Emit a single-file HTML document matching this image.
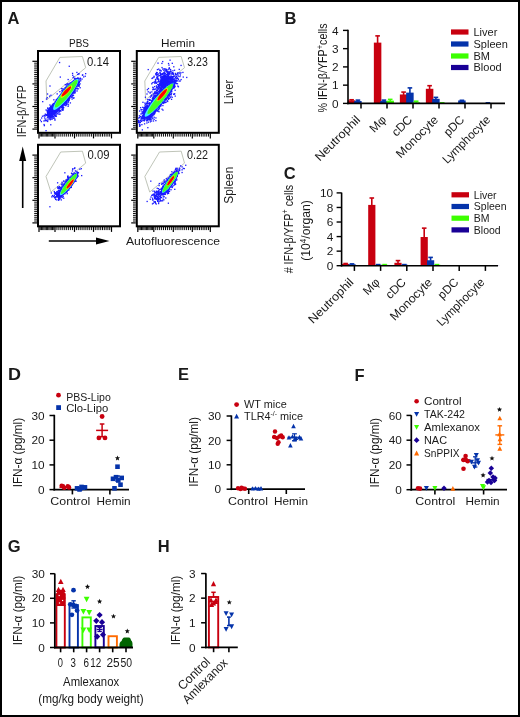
<!DOCTYPE html>
<html><head><meta charset="utf-8"><style>
html,body{margin:0;padding:0;background:#fff;}
body{width:520px;height:717px;overflow:hidden;position:relative;}
svg{position:absolute;left:0;top:0;display:block;will-change:transform;}
text{font-family:"Liberation Sans", sans-serif;fill:#1a1a1a;}
</style></head><body>
<svg width="520" height="717" viewBox="0 0 520 717">
<defs><filter id="sb" x="-20%" y="-20%" width="140%" height="140%"><feGaussianBlur stdDeviation="0.45"/></filter></defs>
<rect x="0" y="0" width="520" height="717" fill="#fff"/>
<rect x="0" y="0" width="520" height="2" fill="#000"/>
<rect x="0" y="0" width="2" height="717" fill="#000"/>
<rect x="518" y="0" width="2" height="717" fill="#000"/>
<rect x="0" y="715" width="520" height="2" fill="#000"/>
<text x="7.5" y="23.6" font-size="16.5" font-weight="bold" fill="#000">A</text>
<text x="79" y="47" font-size="11.5" text-anchor="middle" textLength="20" lengthAdjust="spacingAndGlyphs">PBS</text>
<text x="178" y="47" font-size="11.5" text-anchor="middle" textLength="34" lengthAdjust="spacingAndGlyphs">Hemin</text>
<line x1="32.4" y1="61.3" x2="37" y2="61.3" stroke="#000" stroke-width="1.2"/>
<line x1="34.2" y1="63.18" x2="37" y2="63.18" stroke="#000" stroke-width="0.95"/>
<line x1="34.2" y1="65.07" x2="37" y2="65.07" stroke="#000" stroke-width="0.95"/>
<line x1="34.2" y1="66.95" x2="37" y2="66.95" stroke="#000" stroke-width="0.95"/>
<line x1="34.2" y1="68.83" x2="37" y2="68.83" stroke="#000" stroke-width="0.95"/>
<line x1="34.2" y1="70.72" x2="37" y2="70.72" stroke="#000" stroke-width="0.95"/>
<line x1="34.2" y1="72.6" x2="37" y2="72.6" stroke="#000" stroke-width="0.95"/>
<line x1="34.2" y1="74.48" x2="37" y2="74.48" stroke="#000" stroke-width="0.95"/>
<line x1="34.2" y1="76.37" x2="37" y2="76.37" stroke="#000" stroke-width="0.95"/>
<line x1="34.2" y1="78.25" x2="37" y2="78.25" stroke="#000" stroke-width="0.95"/>
<line x1="34.2" y1="80.13" x2="37" y2="80.13" stroke="#000" stroke-width="0.95"/>
<line x1="34.2" y1="82.02" x2="37" y2="82.02" stroke="#000" stroke-width="0.95"/>
<line x1="32.4" y1="83.9" x2="37" y2="83.9" stroke="#000" stroke-width="1.2"/>
<line x1="34.2" y1="85.78" x2="37" y2="85.78" stroke="#000" stroke-width="0.95"/>
<line x1="34.2" y1="87.67" x2="37" y2="87.67" stroke="#000" stroke-width="0.95"/>
<line x1="34.2" y1="89.55" x2="37" y2="89.55" stroke="#000" stroke-width="0.95"/>
<line x1="34.2" y1="91.43" x2="37" y2="91.43" stroke="#000" stroke-width="0.95"/>
<line x1="34.2" y1="93.32" x2="37" y2="93.32" stroke="#000" stroke-width="0.95"/>
<line x1="34.2" y1="95.2" x2="37" y2="95.2" stroke="#000" stroke-width="0.95"/>
<line x1="34.2" y1="97.08" x2="37" y2="97.08" stroke="#000" stroke-width="0.95"/>
<line x1="34.2" y1="98.97" x2="37" y2="98.97" stroke="#000" stroke-width="0.95"/>
<line x1="34.2" y1="100.85" x2="37" y2="100.85" stroke="#000" stroke-width="0.95"/>
<line x1="34.2" y1="102.73" x2="37" y2="102.73" stroke="#000" stroke-width="0.95"/>
<line x1="34.2" y1="104.62" x2="37" y2="104.62" stroke="#000" stroke-width="0.95"/>
<line x1="32.4" y1="106.5" x2="37" y2="106.5" stroke="#000" stroke-width="1.2"/>
<line x1="34.2" y1="108.38" x2="37" y2="108.38" stroke="#000" stroke-width="0.95"/>
<line x1="34.2" y1="110.27" x2="37" y2="110.27" stroke="#000" stroke-width="0.95"/>
<line x1="34.2" y1="112.15" x2="37" y2="112.15" stroke="#000" stroke-width="0.95"/>
<line x1="34.2" y1="114.03" x2="37" y2="114.03" stroke="#000" stroke-width="0.95"/>
<line x1="34.2" y1="115.92" x2="37" y2="115.92" stroke="#000" stroke-width="0.95"/>
<line x1="34.2" y1="117.8" x2="37" y2="117.8" stroke="#000" stroke-width="0.95"/>
<line x1="34.2" y1="119.68" x2="37" y2="119.68" stroke="#000" stroke-width="0.95"/>
<line x1="34.2" y1="121.57" x2="37" y2="121.57" stroke="#000" stroke-width="0.95"/>
<line x1="34.2" y1="123.45" x2="37" y2="123.45" stroke="#000" stroke-width="0.95"/>
<line x1="34.2" y1="125.33" x2="37" y2="125.33" stroke="#000" stroke-width="0.95"/>
<line x1="34.2" y1="127.22" x2="37" y2="127.22" stroke="#000" stroke-width="0.95"/>
<line x1="32.4" y1="129.1" x2="37" y2="129.1" stroke="#000" stroke-width="1.2"/>
<line x1="39" y1="133.3" x2="39" y2="138.4" stroke="#000" stroke-width="1.2"/>
<line x1="40.23" y1="133.3" x2="40.23" y2="136.6" stroke="#000" stroke-width="0.95"/>
<line x1="41.46" y1="133.3" x2="41.46" y2="136.6" stroke="#000" stroke-width="0.95"/>
<line x1="42.69" y1="133.3" x2="42.69" y2="136.6" stroke="#000" stroke-width="0.95"/>
<line x1="43.92" y1="133.3" x2="43.92" y2="136.6" stroke="#000" stroke-width="0.95"/>
<line x1="45.15" y1="133.3" x2="45.15" y2="136.6" stroke="#000" stroke-width="0.95"/>
<line x1="46.38" y1="133.3" x2="46.38" y2="136.6" stroke="#000" stroke-width="0.95"/>
<line x1="47.62" y1="133.3" x2="47.62" y2="136.6" stroke="#000" stroke-width="0.95"/>
<line x1="48.85" y1="133.3" x2="48.85" y2="136.6" stroke="#000" stroke-width="0.95"/>
<line x1="50.08" y1="133.3" x2="50.08" y2="136.6" stroke="#000" stroke-width="0.95"/>
<line x1="51.31" y1="133.3" x2="51.31" y2="136.6" stroke="#000" stroke-width="0.95"/>
<line x1="52.54" y1="133.3" x2="52.54" y2="136.6" stroke="#000" stroke-width="0.95"/>
<line x1="53.77" y1="133.3" x2="53.77" y2="136.6" stroke="#000" stroke-width="0.95"/>
<line x1="55" y1="133.3" x2="55" y2="138.4" stroke="#000" stroke-width="1.2"/>
<line x1="56.95" y1="133.3" x2="56.95" y2="136.6" stroke="#000" stroke-width="0.95"/>
<line x1="58.9" y1="133.3" x2="58.9" y2="136.6" stroke="#000" stroke-width="0.95"/>
<line x1="60.85" y1="133.3" x2="60.85" y2="136.6" stroke="#000" stroke-width="0.95"/>
<line x1="62.8" y1="133.3" x2="62.8" y2="136.6" stroke="#000" stroke-width="0.95"/>
<line x1="64.75" y1="133.3" x2="64.75" y2="136.6" stroke="#000" stroke-width="0.95"/>
<line x1="66.7" y1="133.3" x2="66.7" y2="136.6" stroke="#000" stroke-width="0.95"/>
<line x1="68.65" y1="133.3" x2="68.65" y2="136.6" stroke="#000" stroke-width="0.95"/>
<line x1="70.6" y1="133.3" x2="70.6" y2="136.6" stroke="#000" stroke-width="0.95"/>
<line x1="72.55" y1="133.3" x2="72.55" y2="136.6" stroke="#000" stroke-width="0.95"/>
<line x1="74.5" y1="133.3" x2="74.5" y2="138.4" stroke="#000" stroke-width="1.2"/>
<line x1="76.4" y1="133.3" x2="76.4" y2="136.6" stroke="#000" stroke-width="0.95"/>
<line x1="78.3" y1="133.3" x2="78.3" y2="136.6" stroke="#000" stroke-width="0.95"/>
<line x1="80.2" y1="133.3" x2="80.2" y2="136.6" stroke="#000" stroke-width="0.95"/>
<line x1="82.1" y1="133.3" x2="82.1" y2="136.6" stroke="#000" stroke-width="0.95"/>
<line x1="84" y1="133.3" x2="84" y2="136.6" stroke="#000" stroke-width="0.95"/>
<line x1="85.9" y1="133.3" x2="85.9" y2="136.6" stroke="#000" stroke-width="0.95"/>
<line x1="87.8" y1="133.3" x2="87.8" y2="136.6" stroke="#000" stroke-width="0.95"/>
<line x1="89.7" y1="133.3" x2="89.7" y2="136.6" stroke="#000" stroke-width="0.95"/>
<line x1="91.6" y1="133.3" x2="91.6" y2="136.6" stroke="#000" stroke-width="0.95"/>
<line x1="93.5" y1="133.3" x2="93.5" y2="138.4" stroke="#000" stroke-width="1.2"/>
<line x1="95.3" y1="133.3" x2="95.3" y2="136.6" stroke="#000" stroke-width="0.95"/>
<line x1="97.1" y1="133.3" x2="97.1" y2="136.6" stroke="#000" stroke-width="0.95"/>
<line x1="98.9" y1="133.3" x2="98.9" y2="136.6" stroke="#000" stroke-width="0.95"/>
<line x1="100.7" y1="133.3" x2="100.7" y2="136.6" stroke="#000" stroke-width="0.95"/>
<line x1="102.5" y1="133.3" x2="102.5" y2="136.6" stroke="#000" stroke-width="0.95"/>
<line x1="104.3" y1="133.3" x2="104.3" y2="136.6" stroke="#000" stroke-width="0.95"/>
<line x1="106.1" y1="133.3" x2="106.1" y2="136.6" stroke="#000" stroke-width="0.95"/>
<line x1="107.9" y1="133.3" x2="107.9" y2="136.6" stroke="#000" stroke-width="0.95"/>
<line x1="109.7" y1="133.3" x2="109.7" y2="136.6" stroke="#000" stroke-width="0.95"/>
<line x1="111.5" y1="133.3" x2="111.5" y2="138.4" stroke="#000" stroke-width="1.2"/>
<rect x="38" y="51" width="82" height="81.8" fill="none" stroke="#000" stroke-width="2"/>
<line x1="131.2" y1="61.3" x2="135.8" y2="61.3" stroke="#000" stroke-width="1.2"/>
<line x1="133" y1="63.18" x2="135.8" y2="63.18" stroke="#000" stroke-width="0.95"/>
<line x1="133" y1="65.07" x2="135.8" y2="65.07" stroke="#000" stroke-width="0.95"/>
<line x1="133" y1="66.95" x2="135.8" y2="66.95" stroke="#000" stroke-width="0.95"/>
<line x1="133" y1="68.83" x2="135.8" y2="68.83" stroke="#000" stroke-width="0.95"/>
<line x1="133" y1="70.72" x2="135.8" y2="70.72" stroke="#000" stroke-width="0.95"/>
<line x1="133" y1="72.6" x2="135.8" y2="72.6" stroke="#000" stroke-width="0.95"/>
<line x1="133" y1="74.48" x2="135.8" y2="74.48" stroke="#000" stroke-width="0.95"/>
<line x1="133" y1="76.37" x2="135.8" y2="76.37" stroke="#000" stroke-width="0.95"/>
<line x1="133" y1="78.25" x2="135.8" y2="78.25" stroke="#000" stroke-width="0.95"/>
<line x1="133" y1="80.13" x2="135.8" y2="80.13" stroke="#000" stroke-width="0.95"/>
<line x1="133" y1="82.02" x2="135.8" y2="82.02" stroke="#000" stroke-width="0.95"/>
<line x1="131.2" y1="83.9" x2="135.8" y2="83.9" stroke="#000" stroke-width="1.2"/>
<line x1="133" y1="85.78" x2="135.8" y2="85.78" stroke="#000" stroke-width="0.95"/>
<line x1="133" y1="87.67" x2="135.8" y2="87.67" stroke="#000" stroke-width="0.95"/>
<line x1="133" y1="89.55" x2="135.8" y2="89.55" stroke="#000" stroke-width="0.95"/>
<line x1="133" y1="91.43" x2="135.8" y2="91.43" stroke="#000" stroke-width="0.95"/>
<line x1="133" y1="93.32" x2="135.8" y2="93.32" stroke="#000" stroke-width="0.95"/>
<line x1="133" y1="95.2" x2="135.8" y2="95.2" stroke="#000" stroke-width="0.95"/>
<line x1="133" y1="97.08" x2="135.8" y2="97.08" stroke="#000" stroke-width="0.95"/>
<line x1="133" y1="98.97" x2="135.8" y2="98.97" stroke="#000" stroke-width="0.95"/>
<line x1="133" y1="100.85" x2="135.8" y2="100.85" stroke="#000" stroke-width="0.95"/>
<line x1="133" y1="102.73" x2="135.8" y2="102.73" stroke="#000" stroke-width="0.95"/>
<line x1="133" y1="104.62" x2="135.8" y2="104.62" stroke="#000" stroke-width="0.95"/>
<line x1="131.2" y1="106.5" x2="135.8" y2="106.5" stroke="#000" stroke-width="1.2"/>
<line x1="133" y1="108.38" x2="135.8" y2="108.38" stroke="#000" stroke-width="0.95"/>
<line x1="133" y1="110.27" x2="135.8" y2="110.27" stroke="#000" stroke-width="0.95"/>
<line x1="133" y1="112.15" x2="135.8" y2="112.15" stroke="#000" stroke-width="0.95"/>
<line x1="133" y1="114.03" x2="135.8" y2="114.03" stroke="#000" stroke-width="0.95"/>
<line x1="133" y1="115.92" x2="135.8" y2="115.92" stroke="#000" stroke-width="0.95"/>
<line x1="133" y1="117.8" x2="135.8" y2="117.8" stroke="#000" stroke-width="0.95"/>
<line x1="133" y1="119.68" x2="135.8" y2="119.68" stroke="#000" stroke-width="0.95"/>
<line x1="133" y1="121.57" x2="135.8" y2="121.57" stroke="#000" stroke-width="0.95"/>
<line x1="133" y1="123.45" x2="135.8" y2="123.45" stroke="#000" stroke-width="0.95"/>
<line x1="133" y1="125.33" x2="135.8" y2="125.33" stroke="#000" stroke-width="0.95"/>
<line x1="133" y1="127.22" x2="135.8" y2="127.22" stroke="#000" stroke-width="0.95"/>
<line x1="131.2" y1="129.1" x2="135.8" y2="129.1" stroke="#000" stroke-width="1.2"/>
<line x1="137.8" y1="133.3" x2="137.8" y2="138.4" stroke="#000" stroke-width="1.2"/>
<line x1="139.03" y1="133.3" x2="139.03" y2="136.6" stroke="#000" stroke-width="0.95"/>
<line x1="140.26" y1="133.3" x2="140.26" y2="136.6" stroke="#000" stroke-width="0.95"/>
<line x1="141.49" y1="133.3" x2="141.49" y2="136.6" stroke="#000" stroke-width="0.95"/>
<line x1="142.72" y1="133.3" x2="142.72" y2="136.6" stroke="#000" stroke-width="0.95"/>
<line x1="143.95" y1="133.3" x2="143.95" y2="136.6" stroke="#000" stroke-width="0.95"/>
<line x1="145.18" y1="133.3" x2="145.18" y2="136.6" stroke="#000" stroke-width="0.95"/>
<line x1="146.42" y1="133.3" x2="146.42" y2="136.6" stroke="#000" stroke-width="0.95"/>
<line x1="147.65" y1="133.3" x2="147.65" y2="136.6" stroke="#000" stroke-width="0.95"/>
<line x1="148.88" y1="133.3" x2="148.88" y2="136.6" stroke="#000" stroke-width="0.95"/>
<line x1="150.11" y1="133.3" x2="150.11" y2="136.6" stroke="#000" stroke-width="0.95"/>
<line x1="151.34" y1="133.3" x2="151.34" y2="136.6" stroke="#000" stroke-width="0.95"/>
<line x1="152.57" y1="133.3" x2="152.57" y2="136.6" stroke="#000" stroke-width="0.95"/>
<line x1="153.8" y1="133.3" x2="153.8" y2="138.4" stroke="#000" stroke-width="1.2"/>
<line x1="155.75" y1="133.3" x2="155.75" y2="136.6" stroke="#000" stroke-width="0.95"/>
<line x1="157.7" y1="133.3" x2="157.7" y2="136.6" stroke="#000" stroke-width="0.95"/>
<line x1="159.65" y1="133.3" x2="159.65" y2="136.6" stroke="#000" stroke-width="0.95"/>
<line x1="161.6" y1="133.3" x2="161.6" y2="136.6" stroke="#000" stroke-width="0.95"/>
<line x1="163.55" y1="133.3" x2="163.55" y2="136.6" stroke="#000" stroke-width="0.95"/>
<line x1="165.5" y1="133.3" x2="165.5" y2="136.6" stroke="#000" stroke-width="0.95"/>
<line x1="167.45" y1="133.3" x2="167.45" y2="136.6" stroke="#000" stroke-width="0.95"/>
<line x1="169.4" y1="133.3" x2="169.4" y2="136.6" stroke="#000" stroke-width="0.95"/>
<line x1="171.35" y1="133.3" x2="171.35" y2="136.6" stroke="#000" stroke-width="0.95"/>
<line x1="173.3" y1="133.3" x2="173.3" y2="138.4" stroke="#000" stroke-width="1.2"/>
<line x1="175.2" y1="133.3" x2="175.2" y2="136.6" stroke="#000" stroke-width="0.95"/>
<line x1="177.1" y1="133.3" x2="177.1" y2="136.6" stroke="#000" stroke-width="0.95"/>
<line x1="179" y1="133.3" x2="179" y2="136.6" stroke="#000" stroke-width="0.95"/>
<line x1="180.9" y1="133.3" x2="180.9" y2="136.6" stroke="#000" stroke-width="0.95"/>
<line x1="182.8" y1="133.3" x2="182.8" y2="136.6" stroke="#000" stroke-width="0.95"/>
<line x1="184.7" y1="133.3" x2="184.7" y2="136.6" stroke="#000" stroke-width="0.95"/>
<line x1="186.6" y1="133.3" x2="186.6" y2="136.6" stroke="#000" stroke-width="0.95"/>
<line x1="188.5" y1="133.3" x2="188.5" y2="136.6" stroke="#000" stroke-width="0.95"/>
<line x1="190.4" y1="133.3" x2="190.4" y2="136.6" stroke="#000" stroke-width="0.95"/>
<line x1="192.3" y1="133.3" x2="192.3" y2="138.4" stroke="#000" stroke-width="1.2"/>
<line x1="194.1" y1="133.3" x2="194.1" y2="136.6" stroke="#000" stroke-width="0.95"/>
<line x1="195.9" y1="133.3" x2="195.9" y2="136.6" stroke="#000" stroke-width="0.95"/>
<line x1="197.7" y1="133.3" x2="197.7" y2="136.6" stroke="#000" stroke-width="0.95"/>
<line x1="199.5" y1="133.3" x2="199.5" y2="136.6" stroke="#000" stroke-width="0.95"/>
<line x1="201.3" y1="133.3" x2="201.3" y2="136.6" stroke="#000" stroke-width="0.95"/>
<line x1="203.1" y1="133.3" x2="203.1" y2="136.6" stroke="#000" stroke-width="0.95"/>
<line x1="204.9" y1="133.3" x2="204.9" y2="136.6" stroke="#000" stroke-width="0.95"/>
<line x1="206.7" y1="133.3" x2="206.7" y2="136.6" stroke="#000" stroke-width="0.95"/>
<line x1="208.5" y1="133.3" x2="208.5" y2="136.6" stroke="#000" stroke-width="0.95"/>
<line x1="210.3" y1="133.3" x2="210.3" y2="138.4" stroke="#000" stroke-width="1.2"/>
<rect x="136.8" y="51" width="82" height="81.8" fill="none" stroke="#000" stroke-width="2"/>
<line x1="32.4" y1="155.1" x2="37" y2="155.1" stroke="#000" stroke-width="1.2"/>
<line x1="34.2" y1="156.98" x2="37" y2="156.98" stroke="#000" stroke-width="0.95"/>
<line x1="34.2" y1="158.87" x2="37" y2="158.87" stroke="#000" stroke-width="0.95"/>
<line x1="34.2" y1="160.75" x2="37" y2="160.75" stroke="#000" stroke-width="0.95"/>
<line x1="34.2" y1="162.63" x2="37" y2="162.63" stroke="#000" stroke-width="0.95"/>
<line x1="34.2" y1="164.52" x2="37" y2="164.52" stroke="#000" stroke-width="0.95"/>
<line x1="34.2" y1="166.4" x2="37" y2="166.4" stroke="#000" stroke-width="0.95"/>
<line x1="34.2" y1="168.28" x2="37" y2="168.28" stroke="#000" stroke-width="0.95"/>
<line x1="34.2" y1="170.17" x2="37" y2="170.17" stroke="#000" stroke-width="0.95"/>
<line x1="34.2" y1="172.05" x2="37" y2="172.05" stroke="#000" stroke-width="0.95"/>
<line x1="34.2" y1="173.93" x2="37" y2="173.93" stroke="#000" stroke-width="0.95"/>
<line x1="34.2" y1="175.82" x2="37" y2="175.82" stroke="#000" stroke-width="0.95"/>
<line x1="32.4" y1="177.7" x2="37" y2="177.7" stroke="#000" stroke-width="1.2"/>
<line x1="34.2" y1="179.58" x2="37" y2="179.58" stroke="#000" stroke-width="0.95"/>
<line x1="34.2" y1="181.47" x2="37" y2="181.47" stroke="#000" stroke-width="0.95"/>
<line x1="34.2" y1="183.35" x2="37" y2="183.35" stroke="#000" stroke-width="0.95"/>
<line x1="34.2" y1="185.23" x2="37" y2="185.23" stroke="#000" stroke-width="0.95"/>
<line x1="34.2" y1="187.12" x2="37" y2="187.12" stroke="#000" stroke-width="0.95"/>
<line x1="34.2" y1="189" x2="37" y2="189" stroke="#000" stroke-width="0.95"/>
<line x1="34.2" y1="190.88" x2="37" y2="190.88" stroke="#000" stroke-width="0.95"/>
<line x1="34.2" y1="192.77" x2="37" y2="192.77" stroke="#000" stroke-width="0.95"/>
<line x1="34.2" y1="194.65" x2="37" y2="194.65" stroke="#000" stroke-width="0.95"/>
<line x1="34.2" y1="196.53" x2="37" y2="196.53" stroke="#000" stroke-width="0.95"/>
<line x1="34.2" y1="198.42" x2="37" y2="198.42" stroke="#000" stroke-width="0.95"/>
<line x1="32.4" y1="200.3" x2="37" y2="200.3" stroke="#000" stroke-width="1.2"/>
<line x1="34.2" y1="202.18" x2="37" y2="202.18" stroke="#000" stroke-width="0.95"/>
<line x1="34.2" y1="204.07" x2="37" y2="204.07" stroke="#000" stroke-width="0.95"/>
<line x1="34.2" y1="205.95" x2="37" y2="205.95" stroke="#000" stroke-width="0.95"/>
<line x1="34.2" y1="207.83" x2="37" y2="207.83" stroke="#000" stroke-width="0.95"/>
<line x1="34.2" y1="209.72" x2="37" y2="209.72" stroke="#000" stroke-width="0.95"/>
<line x1="34.2" y1="211.6" x2="37" y2="211.6" stroke="#000" stroke-width="0.95"/>
<line x1="34.2" y1="213.48" x2="37" y2="213.48" stroke="#000" stroke-width="0.95"/>
<line x1="34.2" y1="215.37" x2="37" y2="215.37" stroke="#000" stroke-width="0.95"/>
<line x1="34.2" y1="217.25" x2="37" y2="217.25" stroke="#000" stroke-width="0.95"/>
<line x1="34.2" y1="219.13" x2="37" y2="219.13" stroke="#000" stroke-width="0.95"/>
<line x1="34.2" y1="221.02" x2="37" y2="221.02" stroke="#000" stroke-width="0.95"/>
<line x1="32.4" y1="222.9" x2="37" y2="222.9" stroke="#000" stroke-width="1.2"/>
<line x1="39" y1="226.8" x2="39" y2="231.9" stroke="#000" stroke-width="1.2"/>
<line x1="40.23" y1="226.8" x2="40.23" y2="230.1" stroke="#000" stroke-width="0.95"/>
<line x1="41.46" y1="226.8" x2="41.46" y2="230.1" stroke="#000" stroke-width="0.95"/>
<line x1="42.69" y1="226.8" x2="42.69" y2="230.1" stroke="#000" stroke-width="0.95"/>
<line x1="43.92" y1="226.8" x2="43.92" y2="230.1" stroke="#000" stroke-width="0.95"/>
<line x1="45.15" y1="226.8" x2="45.15" y2="230.1" stroke="#000" stroke-width="0.95"/>
<line x1="46.38" y1="226.8" x2="46.38" y2="230.1" stroke="#000" stroke-width="0.95"/>
<line x1="47.62" y1="226.8" x2="47.62" y2="230.1" stroke="#000" stroke-width="0.95"/>
<line x1="48.85" y1="226.8" x2="48.85" y2="230.1" stroke="#000" stroke-width="0.95"/>
<line x1="50.08" y1="226.8" x2="50.08" y2="230.1" stroke="#000" stroke-width="0.95"/>
<line x1="51.31" y1="226.8" x2="51.31" y2="230.1" stroke="#000" stroke-width="0.95"/>
<line x1="52.54" y1="226.8" x2="52.54" y2="230.1" stroke="#000" stroke-width="0.95"/>
<line x1="53.77" y1="226.8" x2="53.77" y2="230.1" stroke="#000" stroke-width="0.95"/>
<line x1="55" y1="226.8" x2="55" y2="231.9" stroke="#000" stroke-width="1.2"/>
<line x1="56.95" y1="226.8" x2="56.95" y2="230.1" stroke="#000" stroke-width="0.95"/>
<line x1="58.9" y1="226.8" x2="58.9" y2="230.1" stroke="#000" stroke-width="0.95"/>
<line x1="60.85" y1="226.8" x2="60.85" y2="230.1" stroke="#000" stroke-width="0.95"/>
<line x1="62.8" y1="226.8" x2="62.8" y2="230.1" stroke="#000" stroke-width="0.95"/>
<line x1="64.75" y1="226.8" x2="64.75" y2="230.1" stroke="#000" stroke-width="0.95"/>
<line x1="66.7" y1="226.8" x2="66.7" y2="230.1" stroke="#000" stroke-width="0.95"/>
<line x1="68.65" y1="226.8" x2="68.65" y2="230.1" stroke="#000" stroke-width="0.95"/>
<line x1="70.6" y1="226.8" x2="70.6" y2="230.1" stroke="#000" stroke-width="0.95"/>
<line x1="72.55" y1="226.8" x2="72.55" y2="230.1" stroke="#000" stroke-width="0.95"/>
<line x1="74.5" y1="226.8" x2="74.5" y2="231.9" stroke="#000" stroke-width="1.2"/>
<line x1="76.4" y1="226.8" x2="76.4" y2="230.1" stroke="#000" stroke-width="0.95"/>
<line x1="78.3" y1="226.8" x2="78.3" y2="230.1" stroke="#000" stroke-width="0.95"/>
<line x1="80.2" y1="226.8" x2="80.2" y2="230.1" stroke="#000" stroke-width="0.95"/>
<line x1="82.1" y1="226.8" x2="82.1" y2="230.1" stroke="#000" stroke-width="0.95"/>
<line x1="84" y1="226.8" x2="84" y2="230.1" stroke="#000" stroke-width="0.95"/>
<line x1="85.9" y1="226.8" x2="85.9" y2="230.1" stroke="#000" stroke-width="0.95"/>
<line x1="87.8" y1="226.8" x2="87.8" y2="230.1" stroke="#000" stroke-width="0.95"/>
<line x1="89.7" y1="226.8" x2="89.7" y2="230.1" stroke="#000" stroke-width="0.95"/>
<line x1="91.6" y1="226.8" x2="91.6" y2="230.1" stroke="#000" stroke-width="0.95"/>
<line x1="93.5" y1="226.8" x2="93.5" y2="231.9" stroke="#000" stroke-width="1.2"/>
<line x1="95.3" y1="226.8" x2="95.3" y2="230.1" stroke="#000" stroke-width="0.95"/>
<line x1="97.1" y1="226.8" x2="97.1" y2="230.1" stroke="#000" stroke-width="0.95"/>
<line x1="98.9" y1="226.8" x2="98.9" y2="230.1" stroke="#000" stroke-width="0.95"/>
<line x1="100.7" y1="226.8" x2="100.7" y2="230.1" stroke="#000" stroke-width="0.95"/>
<line x1="102.5" y1="226.8" x2="102.5" y2="230.1" stroke="#000" stroke-width="0.95"/>
<line x1="104.3" y1="226.8" x2="104.3" y2="230.1" stroke="#000" stroke-width="0.95"/>
<line x1="106.1" y1="226.8" x2="106.1" y2="230.1" stroke="#000" stroke-width="0.95"/>
<line x1="107.9" y1="226.8" x2="107.9" y2="230.1" stroke="#000" stroke-width="0.95"/>
<line x1="109.7" y1="226.8" x2="109.7" y2="230.1" stroke="#000" stroke-width="0.95"/>
<line x1="111.5" y1="226.8" x2="111.5" y2="231.9" stroke="#000" stroke-width="1.2"/>
<rect x="38" y="144.8" width="82" height="81.5" fill="none" stroke="#000" stroke-width="2"/>
<line x1="131.2" y1="155.1" x2="135.8" y2="155.1" stroke="#000" stroke-width="1.2"/>
<line x1="133" y1="156.98" x2="135.8" y2="156.98" stroke="#000" stroke-width="0.95"/>
<line x1="133" y1="158.87" x2="135.8" y2="158.87" stroke="#000" stroke-width="0.95"/>
<line x1="133" y1="160.75" x2="135.8" y2="160.75" stroke="#000" stroke-width="0.95"/>
<line x1="133" y1="162.63" x2="135.8" y2="162.63" stroke="#000" stroke-width="0.95"/>
<line x1="133" y1="164.52" x2="135.8" y2="164.52" stroke="#000" stroke-width="0.95"/>
<line x1="133" y1="166.4" x2="135.8" y2="166.4" stroke="#000" stroke-width="0.95"/>
<line x1="133" y1="168.28" x2="135.8" y2="168.28" stroke="#000" stroke-width="0.95"/>
<line x1="133" y1="170.17" x2="135.8" y2="170.17" stroke="#000" stroke-width="0.95"/>
<line x1="133" y1="172.05" x2="135.8" y2="172.05" stroke="#000" stroke-width="0.95"/>
<line x1="133" y1="173.93" x2="135.8" y2="173.93" stroke="#000" stroke-width="0.95"/>
<line x1="133" y1="175.82" x2="135.8" y2="175.82" stroke="#000" stroke-width="0.95"/>
<line x1="131.2" y1="177.7" x2="135.8" y2="177.7" stroke="#000" stroke-width="1.2"/>
<line x1="133" y1="179.58" x2="135.8" y2="179.58" stroke="#000" stroke-width="0.95"/>
<line x1="133" y1="181.47" x2="135.8" y2="181.47" stroke="#000" stroke-width="0.95"/>
<line x1="133" y1="183.35" x2="135.8" y2="183.35" stroke="#000" stroke-width="0.95"/>
<line x1="133" y1="185.23" x2="135.8" y2="185.23" stroke="#000" stroke-width="0.95"/>
<line x1="133" y1="187.12" x2="135.8" y2="187.12" stroke="#000" stroke-width="0.95"/>
<line x1="133" y1="189" x2="135.8" y2="189" stroke="#000" stroke-width="0.95"/>
<line x1="133" y1="190.88" x2="135.8" y2="190.88" stroke="#000" stroke-width="0.95"/>
<line x1="133" y1="192.77" x2="135.8" y2="192.77" stroke="#000" stroke-width="0.95"/>
<line x1="133" y1="194.65" x2="135.8" y2="194.65" stroke="#000" stroke-width="0.95"/>
<line x1="133" y1="196.53" x2="135.8" y2="196.53" stroke="#000" stroke-width="0.95"/>
<line x1="133" y1="198.42" x2="135.8" y2="198.42" stroke="#000" stroke-width="0.95"/>
<line x1="131.2" y1="200.3" x2="135.8" y2="200.3" stroke="#000" stroke-width="1.2"/>
<line x1="133" y1="202.18" x2="135.8" y2="202.18" stroke="#000" stroke-width="0.95"/>
<line x1="133" y1="204.07" x2="135.8" y2="204.07" stroke="#000" stroke-width="0.95"/>
<line x1="133" y1="205.95" x2="135.8" y2="205.95" stroke="#000" stroke-width="0.95"/>
<line x1="133" y1="207.83" x2="135.8" y2="207.83" stroke="#000" stroke-width="0.95"/>
<line x1="133" y1="209.72" x2="135.8" y2="209.72" stroke="#000" stroke-width="0.95"/>
<line x1="133" y1="211.6" x2="135.8" y2="211.6" stroke="#000" stroke-width="0.95"/>
<line x1="133" y1="213.48" x2="135.8" y2="213.48" stroke="#000" stroke-width="0.95"/>
<line x1="133" y1="215.37" x2="135.8" y2="215.37" stroke="#000" stroke-width="0.95"/>
<line x1="133" y1="217.25" x2="135.8" y2="217.25" stroke="#000" stroke-width="0.95"/>
<line x1="133" y1="219.13" x2="135.8" y2="219.13" stroke="#000" stroke-width="0.95"/>
<line x1="133" y1="221.02" x2="135.8" y2="221.02" stroke="#000" stroke-width="0.95"/>
<line x1="131.2" y1="222.9" x2="135.8" y2="222.9" stroke="#000" stroke-width="1.2"/>
<line x1="137.8" y1="226.8" x2="137.8" y2="231.9" stroke="#000" stroke-width="1.2"/>
<line x1="139.03" y1="226.8" x2="139.03" y2="230.1" stroke="#000" stroke-width="0.95"/>
<line x1="140.26" y1="226.8" x2="140.26" y2="230.1" stroke="#000" stroke-width="0.95"/>
<line x1="141.49" y1="226.8" x2="141.49" y2="230.1" stroke="#000" stroke-width="0.95"/>
<line x1="142.72" y1="226.8" x2="142.72" y2="230.1" stroke="#000" stroke-width="0.95"/>
<line x1="143.95" y1="226.8" x2="143.95" y2="230.1" stroke="#000" stroke-width="0.95"/>
<line x1="145.18" y1="226.8" x2="145.18" y2="230.1" stroke="#000" stroke-width="0.95"/>
<line x1="146.42" y1="226.8" x2="146.42" y2="230.1" stroke="#000" stroke-width="0.95"/>
<line x1="147.65" y1="226.8" x2="147.65" y2="230.1" stroke="#000" stroke-width="0.95"/>
<line x1="148.88" y1="226.8" x2="148.88" y2="230.1" stroke="#000" stroke-width="0.95"/>
<line x1="150.11" y1="226.8" x2="150.11" y2="230.1" stroke="#000" stroke-width="0.95"/>
<line x1="151.34" y1="226.8" x2="151.34" y2="230.1" stroke="#000" stroke-width="0.95"/>
<line x1="152.57" y1="226.8" x2="152.57" y2="230.1" stroke="#000" stroke-width="0.95"/>
<line x1="153.8" y1="226.8" x2="153.8" y2="231.9" stroke="#000" stroke-width="1.2"/>
<line x1="155.75" y1="226.8" x2="155.75" y2="230.1" stroke="#000" stroke-width="0.95"/>
<line x1="157.7" y1="226.8" x2="157.7" y2="230.1" stroke="#000" stroke-width="0.95"/>
<line x1="159.65" y1="226.8" x2="159.65" y2="230.1" stroke="#000" stroke-width="0.95"/>
<line x1="161.6" y1="226.8" x2="161.6" y2="230.1" stroke="#000" stroke-width="0.95"/>
<line x1="163.55" y1="226.8" x2="163.55" y2="230.1" stroke="#000" stroke-width="0.95"/>
<line x1="165.5" y1="226.8" x2="165.5" y2="230.1" stroke="#000" stroke-width="0.95"/>
<line x1="167.45" y1="226.8" x2="167.45" y2="230.1" stroke="#000" stroke-width="0.95"/>
<line x1="169.4" y1="226.8" x2="169.4" y2="230.1" stroke="#000" stroke-width="0.95"/>
<line x1="171.35" y1="226.8" x2="171.35" y2="230.1" stroke="#000" stroke-width="0.95"/>
<line x1="173.3" y1="226.8" x2="173.3" y2="231.9" stroke="#000" stroke-width="1.2"/>
<line x1="175.2" y1="226.8" x2="175.2" y2="230.1" stroke="#000" stroke-width="0.95"/>
<line x1="177.1" y1="226.8" x2="177.1" y2="230.1" stroke="#000" stroke-width="0.95"/>
<line x1="179" y1="226.8" x2="179" y2="230.1" stroke="#000" stroke-width="0.95"/>
<line x1="180.9" y1="226.8" x2="180.9" y2="230.1" stroke="#000" stroke-width="0.95"/>
<line x1="182.8" y1="226.8" x2="182.8" y2="230.1" stroke="#000" stroke-width="0.95"/>
<line x1="184.7" y1="226.8" x2="184.7" y2="230.1" stroke="#000" stroke-width="0.95"/>
<line x1="186.6" y1="226.8" x2="186.6" y2="230.1" stroke="#000" stroke-width="0.95"/>
<line x1="188.5" y1="226.8" x2="188.5" y2="230.1" stroke="#000" stroke-width="0.95"/>
<line x1="190.4" y1="226.8" x2="190.4" y2="230.1" stroke="#000" stroke-width="0.95"/>
<line x1="192.3" y1="226.8" x2="192.3" y2="231.9" stroke="#000" stroke-width="1.2"/>
<line x1="194.1" y1="226.8" x2="194.1" y2="230.1" stroke="#000" stroke-width="0.95"/>
<line x1="195.9" y1="226.8" x2="195.9" y2="230.1" stroke="#000" stroke-width="0.95"/>
<line x1="197.7" y1="226.8" x2="197.7" y2="230.1" stroke="#000" stroke-width="0.95"/>
<line x1="199.5" y1="226.8" x2="199.5" y2="230.1" stroke="#000" stroke-width="0.95"/>
<line x1="201.3" y1="226.8" x2="201.3" y2="230.1" stroke="#000" stroke-width="0.95"/>
<line x1="203.1" y1="226.8" x2="203.1" y2="230.1" stroke="#000" stroke-width="0.95"/>
<line x1="204.9" y1="226.8" x2="204.9" y2="230.1" stroke="#000" stroke-width="0.95"/>
<line x1="206.7" y1="226.8" x2="206.7" y2="230.1" stroke="#000" stroke-width="0.95"/>
<line x1="208.5" y1="226.8" x2="208.5" y2="230.1" stroke="#000" stroke-width="0.95"/>
<line x1="210.3" y1="226.8" x2="210.3" y2="231.9" stroke="#000" stroke-width="1.2"/>
<rect x="136.8" y="144.8" width="82" height="81.5" fill="none" stroke="#000" stroke-width="2"/>
<polygon points="59.9,57.4 82.4,56.5 85.7,67.7 46.8,99.8 46,81" fill="none" stroke="#b8bdb0" stroke-width="0.9"/>
<g filter="url(#sb)">
<ellipse cx="65.5" cy="95" rx="22" ry="4.9" fill="#1a1aff" transform="rotate(-51.5 65.5 95)"/>
<ellipse cx="52" cy="110.5" rx="6.5" ry="4.2" fill="#1a1aff" transform="rotate(-52 52 110.5)"/>
</g>
<rect x="76.31" y="87.74" width="1.3" height="1.3" fill="#1a1aff"/>
<rect x="56.09" y="107.64" width="1.3" height="1.3" fill="#1a1aff"/>
<rect x="53.33" y="104.49" width="1.3" height="1.3" fill="#1a1aff"/>
<rect x="54.25" y="112.38" width="1.3" height="1.3" fill="#1a1aff"/>
<rect x="71.46" y="98.41" width="1.3" height="1.3" fill="#1a1aff"/>
<rect x="67.69" y="97.05" width="1.3" height="1.3" fill="#1a1aff"/>
<rect x="57.08" y="108.25" width="1.3" height="1.3" fill="#1a1aff"/>
<rect x="66" y="97.85" width="1.3" height="1.3" fill="#1a1aff"/>
<rect x="67.82" y="97.17" width="1.3" height="1.3" fill="#1a1aff"/>
<rect x="77.84" y="78.63" width="1.3" height="1.3" fill="#2a8cff"/>
<rect x="69.9" y="92.29" width="1.3" height="1.3" fill="#2a8cff"/>
<rect x="58.39" y="97.35" width="1.3" height="1.3" fill="#2a8cff"/>
<rect x="66.09" y="88.4" width="1.3" height="1.3" fill="#1a1aff"/>
<rect x="63.51" y="103.59" width="1.3" height="1.3" fill="#1a1aff"/>
<rect x="71.21" y="81.72" width="1.3" height="1.3" fill="#1a1aff"/>
<rect x="54.2" y="109.77" width="1.3" height="1.3" fill="#1a1aff"/>
<rect x="70.54" y="93.75" width="1.3" height="1.3" fill="#1a1aff"/>
<rect x="57.54" y="99" width="1.3" height="1.3" fill="#1a1aff"/>
<rect x="60.11" y="105.76" width="1.3" height="1.3" fill="#1a1aff"/>
<rect x="51.22" y="113.45" width="1.3" height="1.3" fill="#1a1aff"/>
<rect x="56.46" y="106.42" width="1.3" height="1.3" fill="#1a1aff"/>
<rect x="75.55" y="83.99" width="1.3" height="1.3" fill="#2a8cff"/>
<rect x="61.26" y="102.49" width="1.3" height="1.3" fill="#2a8cff"/>
<rect x="43.44" y="123.87" width="1.3" height="1.3" fill="#1a1aff"/>
<rect x="45.75" y="120.04" width="1.3" height="1.3" fill="#1a1aff"/>
<rect x="55.68" y="105.64" width="1.3" height="1.3" fill="#2a8cff"/>
<rect x="65.54" y="100.91" width="1.3" height="1.3" fill="#1a1aff"/>
<rect x="62.61" y="90.62" width="1.3" height="1.3" fill="#1a1aff"/>
<rect x="70.34" y="83.89" width="1.3" height="1.3" fill="#2a8cff"/>
<rect x="55.97" y="105.83" width="1.3" height="1.3" fill="#1a1aff"/>
<rect x="78.99" y="80.77" width="1.3" height="1.3" fill="#1a1aff"/>
<rect x="55.52" y="108.09" width="1.3" height="1.3" fill="#1a1aff"/>
<rect x="61.35" y="103.95" width="1.3" height="1.3" fill="#1a1aff"/>
<rect x="53.38" y="109.5" width="1.3" height="1.3" fill="#1a1aff"/>
<rect x="56.22" y="104.02" width="1.3" height="1.3" fill="#2a8cff"/>
<rect x="70.69" y="93.89" width="1.3" height="1.3" fill="#1a1aff"/>
<rect x="69.04" y="84.24" width="1.3" height="1.3" fill="#1a1aff"/>
<rect x="63.78" y="89.32" width="1.3" height="1.3" fill="#1a1aff"/>
<rect x="67.66" y="101.21" width="1.3" height="1.3" fill="#1a1aff"/>
<rect x="73.58" y="88.72" width="1.3" height="1.3" fill="#1a1aff"/>
<rect x="63.03" y="99.87" width="1.3" height="1.3" fill="#1a1aff"/>
<rect x="70.87" y="92.93" width="1.3" height="1.3" fill="#1a1aff"/>
<rect x="68.21" y="94.85" width="1.3" height="1.3" fill="#1a1aff"/>
<rect x="62.57" y="103.73" width="1.3" height="1.3" fill="#1a1aff"/>
<rect x="60.47" y="103.19" width="1.3" height="1.3" fill="#1a1aff"/>
<rect x="78.78" y="84.06" width="1.3" height="1.3" fill="#1a1aff"/>
<rect x="58.85" y="103.68" width="1.3" height="1.3" fill="#2a8cff"/>
<rect x="50.92" y="109.03" width="1.3" height="1.3" fill="#1a1aff"/>
<rect x="73.58" y="90.46" width="1.3" height="1.3" fill="#1a1aff"/>
<rect x="72.77" y="91.77" width="1.3" height="1.3" fill="#1a1aff"/>
<rect x="57.42" y="100.56" width="1.3" height="1.3" fill="#2a8cff"/>
<rect x="73.4" y="97.21" width="1.3" height="1.3" fill="#1a1aff"/>
<rect x="68.76" y="97.5" width="1.3" height="1.3" fill="#1a1aff"/>
<rect x="58.22" y="108.41" width="1.3" height="1.3" fill="#1a1aff"/>
<rect x="62.3" y="105.24" width="1.3" height="1.3" fill="#1a1aff"/>
<rect x="77.27" y="77.91" width="1.3" height="1.3" fill="#1a1aff"/>
<rect x="63.06" y="106.94" width="1.3" height="1.3" fill="#1a1aff"/>
<rect x="62.46" y="109.31" width="1.3" height="1.3" fill="#1a1aff"/>
<rect x="66.44" y="83.27" width="1.3" height="1.3" fill="#1a1aff"/>
<rect x="72.46" y="76.9" width="1.3" height="1.3" fill="#1a1aff"/>
<rect x="60.51" y="104.67" width="1.3" height="1.3" fill="#1a1aff"/>
<rect x="70" y="95.95" width="1.3" height="1.3" fill="#1a1aff"/>
<rect x="60.15" y="103.43" width="1.3" height="1.3" fill="#2a8cff"/>
<rect x="74.27" y="87.89" width="1.3" height="1.3" fill="#1a1aff"/>
<rect x="63.95" y="102.42" width="1.3" height="1.3" fill="#1a1aff"/>
<rect x="61.24" y="109.08" width="1.3" height="1.3" fill="#1a1aff"/>
<rect x="67.68" y="96.25" width="1.3" height="1.3" fill="#2a8cff"/>
<rect x="76.02" y="80.78" width="1.3" height="1.3" fill="#1a1aff"/>
<rect x="62.52" y="101.79" width="1.3" height="1.3" fill="#1a1aff"/>
<rect x="53.83" y="102.64" width="1.3" height="1.3" fill="#1a1aff"/>
<rect x="43.72" y="124.98" width="1.3" height="1.3" fill="#1a1aff"/>
<rect x="68.52" y="98.62" width="1.3" height="1.3" fill="#1a1aff"/>
<rect x="61.4" y="94.32" width="1.3" height="1.3" fill="#2a8cff"/>
<rect x="62.21" y="102.72" width="1.3" height="1.3" fill="#1a1aff"/>
<rect x="76.9" y="77.56" width="1.3" height="1.3" fill="#1a1aff"/>
<rect x="71.95" y="91.14" width="1.3" height="1.3" fill="#1a1aff"/>
<rect x="78.71" y="82.02" width="1.3" height="1.3" fill="#1a1aff"/>
<rect x="62.98" y="90.07" width="1.3" height="1.3" fill="#1a1aff"/>
<rect x="61.08" y="106.33" width="1.3" height="1.3" fill="#1a1aff"/>
<rect x="65.56" y="103.1" width="1.3" height="1.3" fill="#1a1aff"/>
<rect x="78.09" y="85.07" width="1.3" height="1.3" fill="#1a1aff"/>
<rect x="68.15" y="99.32" width="1.3" height="1.3" fill="#1a1aff"/>
<rect x="79.37" y="83.15" width="1.3" height="1.3" fill="#1a1aff"/>
<rect x="54.22" y="118.41" width="1.3" height="1.3" fill="#1a1aff"/>
<rect x="66.21" y="99.51" width="1.3" height="1.3" fill="#1a1aff"/>
<rect x="74.17" y="87.79" width="1.3" height="1.3" fill="#1a1aff"/>
<rect x="56.03" y="104.71" width="1.3" height="1.3" fill="#1a1aff"/>
<rect x="63.59" y="99.22" width="1.3" height="1.3" fill="#2a8cff"/>
<rect x="77.03" y="73.8" width="1.3" height="1.3" fill="#1a1aff"/>
<rect x="69.02" y="96.83" width="1.3" height="1.3" fill="#1a1aff"/>
<rect x="56.82" y="100.26" width="1.3" height="1.3" fill="#2a8cff"/>
<rect x="66.11" y="100.14" width="1.3" height="1.3" fill="#1a1aff"/>
<rect x="63.52" y="101.03" width="1.3" height="1.3" fill="#1a1aff"/>
<rect x="55.3" y="103.13" width="1.3" height="1.3" fill="#1a1aff"/>
<rect x="63.48" y="101.68" width="1.3" height="1.3" fill="#1a1aff"/>
<rect x="62.13" y="107.76" width="1.3" height="1.3" fill="#1a1aff"/>
<rect x="61.71" y="105.13" width="1.3" height="1.3" fill="#1a1aff"/>
<rect x="53.94" y="107.36" width="1.3" height="1.3" fill="#2a8cff"/>
<rect x="64.82" y="97.87" width="1.3" height="1.3" fill="#1a1aff"/>
<rect x="74.35" y="86.59" width="1.3" height="1.3" fill="#1a1aff"/>
<rect x="64.44" y="104.48" width="1.3" height="1.3" fill="#1a1aff"/>
<rect x="49.77" y="116.16" width="1.3" height="1.3" fill="#1a1aff"/>
<rect x="70.8" y="92.74" width="1.3" height="1.3" fill="#1a1aff"/>
<rect x="60.9" y="88.04" width="1.3" height="1.3" fill="#1a1aff"/>
<rect x="72.26" y="89.8" width="1.3" height="1.3" fill="#1a1aff"/>
<rect x="62" y="108.88" width="1.3" height="1.3" fill="#1a1aff"/>
<rect x="64.46" y="87.07" width="1.3" height="1.3" fill="#1a1aff"/>
<rect x="67.15" y="86.6" width="1.3" height="1.3" fill="#1a1aff"/>
<rect x="60.55" y="102.77" width="1.3" height="1.3" fill="#2a8cff"/>
<rect x="58.3" y="97.94" width="1.3" height="1.3" fill="#2a8cff"/>
<rect x="64.62" y="98.03" width="1.3" height="1.3" fill="#2a8cff"/>
<rect x="75.61" y="80.06" width="1.3" height="1.3" fill="#1a1aff"/>
<rect x="54.48" y="107.85" width="1.3" height="1.3" fill="#2a8cff"/>
<rect x="59.91" y="105.05" width="1.3" height="1.3" fill="#1a1aff"/>
<rect x="62.41" y="101.22" width="1.3" height="1.3" fill="#2a8cff"/>
<rect x="68.99" y="93.15" width="1.3" height="1.3" fill="#1a1aff"/>
<rect x="57.61" y="109.21" width="1.3" height="1.3" fill="#1a1aff"/>
<rect x="55.07" y="107.86" width="1.3" height="1.3" fill="#1a1aff"/>
<rect x="56.01" y="100.71" width="1.3" height="1.3" fill="#1a1aff"/>
<rect x="67.05" y="98.53" width="1.3" height="1.3" fill="#1a1aff"/>
<rect x="58.99" y="104.15" width="1.3" height="1.3" fill="#1a1aff"/>
<rect x="57.52" y="108.73" width="1.3" height="1.3" fill="#1a1aff"/>
<rect x="74.46" y="77.78" width="1.3" height="1.3" fill="#1a1aff"/>
<rect x="65.39" y="101.9" width="1.3" height="1.3" fill="#1a1aff"/>
<rect x="48.87" y="116.25" width="1.3" height="1.3" fill="#1a1aff"/>
<rect x="73.62" y="91.19" width="1.3" height="1.3" fill="#1a1aff"/>
<rect x="54.88" y="100.69" width="1.3" height="1.3" fill="#1a1aff"/>
<rect x="58.64" y="109.34" width="1.3" height="1.3" fill="#1a1aff"/>
<rect x="60.05" y="96.15" width="1.3" height="1.3" fill="#2a8cff"/>
<rect x="69.58" y="82.14" width="1.3" height="1.3" fill="#1a1aff"/>
<rect x="67.79" y="95.32" width="1.3" height="1.3" fill="#1a1aff"/>
<rect x="68.56" y="97.05" width="1.3" height="1.3" fill="#1a1aff"/>
<rect x="55.89" y="101.1" width="1.3" height="1.3" fill="#2a8cff"/>
<rect x="61.06" y="105.53" width="1.3" height="1.3" fill="#1a1aff"/>
<rect x="72.86" y="91.98" width="1.3" height="1.3" fill="#1a1aff"/>
<rect x="84.99" y="72.99" width="1.3" height="1.3" fill="#1a1aff"/>
<rect x="66.99" y="103.36" width="1.3" height="1.3" fill="#1a1aff"/>
<rect x="61.85" y="91.22" width="1.3" height="1.3" fill="#1a1aff"/>
<rect x="54.96" y="102.94" width="1.3" height="1.3" fill="#1a1aff"/>
<rect x="50.24" y="118.7" width="1.3" height="1.3" fill="#1a1aff"/>
<rect x="68.79" y="94.4" width="1.3" height="1.3" fill="#2a8cff"/>
<rect x="78.32" y="85.62" width="1.3" height="1.3" fill="#1a1aff"/>
<rect x="56.58" y="104.06" width="1.3" height="1.3" fill="#1a1aff"/>
<rect x="69.53" y="92.53" width="1.3" height="1.3" fill="#2a8cff"/>
<rect x="67.68" y="100.01" width="1.3" height="1.3" fill="#1a1aff"/>
<rect x="54.87" y="104.58" width="1.3" height="1.3" fill="#2a8cff"/>
<rect x="64.62" y="101.97" width="1.3" height="1.3" fill="#1a1aff"/>
<rect x="65.39" y="101.39" width="1.3" height="1.3" fill="#1a1aff"/>
<rect x="67.16" y="100.01" width="1.3" height="1.3" fill="#1a1aff"/>
<rect x="63.27" y="90.01" width="1.3" height="1.3" fill="#2a8cff"/>
<rect x="50.02" y="115.96" width="1.3" height="1.3" fill="#1a1aff"/>
<rect x="60.72" y="103.97" width="1.3" height="1.3" fill="#1a1aff"/>
<rect x="76.51" y="86.05" width="1.3" height="1.3" fill="#1a1aff"/>
<rect x="75.11" y="87.79" width="1.3" height="1.3" fill="#1a1aff"/>
<rect x="44.43" y="119.41" width="1.3" height="1.3" fill="#1a1aff"/>
<rect x="59.21" y="91.02" width="1.3" height="1.3" fill="#1a1aff"/>
<rect x="71.35" y="91.65" width="1.3" height="1.3" fill="#2a8cff"/>
<rect x="57.45" y="103.97" width="1.3" height="1.3" fill="#2a8cff"/>
<rect x="57.08" y="106.12" width="1.3" height="1.3" fill="#1a1aff"/>
<rect x="57.39" y="107.59" width="1.3" height="1.3" fill="#1a1aff"/>
<rect x="63.52" y="102.16" width="1.3" height="1.3" fill="#1a1aff"/>
<rect x="62.79" y="91.89" width="1.3" height="1.3" fill="#2a8cff"/>
<rect x="53.67" y="110.99" width="1.3" height="1.3" fill="#1a1aff"/>
<rect x="61.42" y="102.7" width="1.3" height="1.3" fill="#2a8cff"/>
<rect x="49.11" y="111.12" width="1.3" height="1.3" fill="#1a1aff"/>
<rect x="56.55" y="93.25" width="1.3" height="1.3" fill="#1a1aff"/>
<rect x="63.64" y="100.28" width="1.3" height="1.3" fill="#1a1aff"/>
<rect x="55.55" y="104.32" width="1.3" height="1.3" fill="#2a8cff"/>
<rect x="59.56" y="106.08" width="1.3" height="1.3" fill="#1a1aff"/>
<rect x="54.54" y="114.67" width="1.3" height="1.3" fill="#1a1aff"/>
<rect x="51.96" y="109.11" width="1.3" height="1.3" fill="#1a1aff"/>
<rect x="71.18" y="83.17" width="1.3" height="1.3" fill="#2a8cff"/>
<rect x="52.17" y="112.98" width="1.3" height="1.3" fill="#1a1aff"/>
<rect x="54.78" y="104.07" width="1.3" height="1.3" fill="#1a1aff"/>
<rect x="57.17" y="102.66" width="1.3" height="1.3" fill="#1a1aff"/>
<rect x="54.57" y="104.74" width="1.3" height="1.3" fill="#2a8cff"/>
<rect x="73.91" y="81.09" width="1.3" height="1.3" fill="#1a1aff"/>
<rect x="67.69" y="85.86" width="1.3" height="1.3" fill="#2a8cff"/>
<rect x="61.98" y="102.73" width="1.3" height="1.3" fill="#1a1aff"/>
<rect x="55.68" y="98.98" width="1.3" height="1.3" fill="#1a1aff"/>
<rect x="51.79" y="112.63" width="1.3" height="1.3" fill="#1a1aff"/>
<rect x="58.89" y="105.86" width="1.3" height="1.3" fill="#1a1aff"/>
<rect x="46.3" y="119.8" width="1.3" height="1.3" fill="#1a1aff"/>
<rect x="57.38" y="99.99" width="1.3" height="1.3" fill="#1a1aff"/>
<rect x="66.57" y="96.84" width="1.3" height="1.3" fill="#1a1aff"/>
<rect x="77.79" y="83.06" width="1.3" height="1.3" fill="#1a1aff"/>
<rect x="56.74" y="106" width="1.3" height="1.3" fill="#1a1aff"/>
<rect x="51.91" y="112.42" width="1.3" height="1.3" fill="#1a1aff"/>
<rect x="71.78" y="92.83" width="1.3" height="1.3" fill="#1a1aff"/>
<rect x="56.87" y="98.23" width="1.3" height="1.3" fill="#1a1aff"/>
<rect x="65.66" y="101.26" width="1.3" height="1.3" fill="#1a1aff"/>
<rect x="67.72" y="98.17" width="1.3" height="1.3" fill="#1a1aff"/>
<rect x="73.25" y="92.24" width="1.3" height="1.3" fill="#1a1aff"/>
<rect x="72.69" y="97.49" width="1.3" height="1.3" fill="#1a1aff"/>
<rect x="56.01" y="99.05" width="1.3" height="1.3" fill="#1a1aff"/>
<rect x="79.84" y="78.32" width="1.3" height="1.3" fill="#1a1aff"/>
<rect x="54.38" y="112.98" width="1.3" height="1.3" fill="#1a1aff"/>
<rect x="71.88" y="82.99" width="1.3" height="1.3" fill="#2a8cff"/>
<rect x="73.89" y="89.79" width="1.3" height="1.3" fill="#1a1aff"/>
<rect x="59.01" y="109.58" width="1.3" height="1.3" fill="#1a1aff"/>
<rect x="68.06" y="99.16" width="1.3" height="1.3" fill="#1a1aff"/>
<rect x="70.89" y="91.01" width="1.3" height="1.3" fill="#1a1aff"/>
<rect x="48.88" y="111.38" width="1.3" height="1.3" fill="#1a1aff"/>
<rect x="56.18" y="99.27" width="1.3" height="1.3" fill="#1a1aff"/>
<rect x="59.9" y="109.87" width="1.3" height="1.3" fill="#1a1aff"/>
<rect x="74.27" y="88.5" width="1.3" height="1.3" fill="#1a1aff"/>
<rect x="71.1" y="90.49" width="1.3" height="1.3" fill="#2a8cff"/>
<rect x="56.94" y="106.53" width="1.3" height="1.3" fill="#1a1aff"/>
<rect x="67.81" y="95.1" width="1.3" height="1.3" fill="#2a8cff"/>
<rect x="48.08" y="112.38" width="1.3" height="1.3" fill="#1a1aff"/>
<rect x="63.81" y="88.7" width="1.3" height="1.3" fill="#1a1aff"/>
<rect x="62.85" y="102.77" width="1.3" height="1.3" fill="#1a1aff"/>
<rect x="47.38" y="113.9" width="1.3" height="1.3" fill="#1a1aff"/>
<rect x="54.61" y="115.02" width="1.3" height="1.3" fill="#1a1aff"/>
<rect x="72.94" y="90.86" width="1.3" height="1.3" fill="#1a1aff"/>
<rect x="71.13" y="91.58" width="1.3" height="1.3" fill="#1a1aff"/>
<rect x="68.12" y="83.3" width="1.3" height="1.3" fill="#1a1aff"/>
<rect x="64.42" y="98.88" width="1.3" height="1.3" fill="#2a8cff"/>
<rect x="53.37" y="105.27" width="1.3" height="1.3" fill="#1a1aff"/>
<rect x="54.52" y="101.33" width="1.3" height="1.3" fill="#1a1aff"/>
<rect x="46.66" y="110.89" width="1.3" height="1.3" fill="#1a1aff"/>
<rect x="81.35" y="78.44" width="1.3" height="1.3" fill="#1a1aff"/>
<rect x="57.14" y="103.83" width="1.3" height="1.3" fill="#2a8cff"/>
<rect x="54.85" y="105.49" width="1.3" height="1.3" fill="#2a8cff"/>
<rect x="61.21" y="104.59" width="1.3" height="1.3" fill="#1a1aff"/>
<rect x="72.82" y="94.64" width="1.3" height="1.3" fill="#1a1aff"/>
<rect x="55.97" y="110.77" width="1.3" height="1.3" fill="#1a1aff"/>
<rect x="57.59" y="98.13" width="1.3" height="1.3" fill="#1a1aff"/>
<rect x="58.03" y="97.38" width="1.3" height="1.3" fill="#2a8cff"/>
<rect x="69.74" y="102.26" width="1.3" height="1.3" fill="#1a1aff"/>
<rect x="77.25" y="88.21" width="1.3" height="1.3" fill="#1a1aff"/>
<rect x="68.97" y="83.52" width="1.3" height="1.3" fill="#1a1aff"/>
<rect x="54.32" y="119.51" width="1.3" height="1.3" fill="#1a1aff"/>
<rect x="73.08" y="86.69" width="1.3" height="1.3" fill="#1a1aff"/>
<rect x="60.74" y="102.26" width="1.3" height="1.3" fill="#2a8cff"/>
<rect x="57.1" y="110.61" width="1.3" height="1.3" fill="#1a1aff"/>
<rect x="75.46" y="88.14" width="1.3" height="1.3" fill="#1a1aff"/>
<rect x="64.69" y="87.76" width="1.3" height="1.3" fill="#1a1aff"/>
<rect x="63.56" y="102.3" width="1.3" height="1.3" fill="#1a1aff"/>
<rect x="66.95" y="99.17" width="1.3" height="1.3" fill="#1a1aff"/>
<rect x="62.48" y="102.82" width="1.3" height="1.3" fill="#1a1aff"/>
<rect x="62.17" y="88.27" width="1.3" height="1.3" fill="#1a1aff"/>
<rect x="74.98" y="82.24" width="1.3" height="1.3" fill="#1a1aff"/>
<rect x="66.53" y="87.67" width="1.3" height="1.3" fill="#2a8cff"/>
<rect x="47.9" y="116.03" width="1.3" height="1.3" fill="#1a1aff"/>
<rect x="69.44" y="93.74" width="1.3" height="1.3" fill="#1a1aff"/>
<rect x="60.96" y="106.1" width="1.3" height="1.3" fill="#1a1aff"/>
<rect x="77.63" y="81.62" width="1.3" height="1.3" fill="#1a1aff"/>
<rect x="63.83" y="101.48" width="1.3" height="1.3" fill="#1a1aff"/>
<rect x="61.71" y="106.96" width="1.3" height="1.3" fill="#1a1aff"/>
<rect x="55.07" y="108.79" width="1.3" height="1.3" fill="#1a1aff"/>
<rect x="77.26" y="88.03" width="1.3" height="1.3" fill="#1a1aff"/>
<rect x="62.69" y="102.52" width="1.3" height="1.3" fill="#1a1aff"/>
<rect x="84.58" y="75.62" width="1.3" height="1.3" fill="#1a1aff"/>
<rect x="48.77" y="118.37" width="1.3" height="1.3" fill="#1a1aff"/>
<rect x="78.3" y="73.1" width="1.3" height="1.3" fill="#1a1aff"/>
<rect x="65.75" y="85.24" width="1.3" height="1.3" fill="#1a1aff"/>
<rect x="73.35" y="81.03" width="1.3" height="1.3" fill="#1a1aff"/>
<rect x="71.67" y="91.33" width="1.3" height="1.3" fill="#1a1aff"/>
<rect x="40.73" y="120.99" width="1.3" height="1.3" fill="#1a1aff"/>
<rect x="62.83" y="91.67" width="1.3" height="1.3" fill="#2a8cff"/>
<rect x="58.72" y="107.02" width="1.3" height="1.3" fill="#1a1aff"/>
<rect x="66.95" y="95.56" width="1.3" height="1.3" fill="#2a8cff"/>
<rect x="57.67" y="99.96" width="1.3" height="1.3" fill="#2a8cff"/>
<rect x="55.94" y="111.63" width="1.3" height="1.3" fill="#1a1aff"/>
<rect x="57.95" y="104.04" width="1.3" height="1.3" fill="#1a1aff"/>
<rect x="69.3" y="92.46" width="1.3" height="1.3" fill="#1a1aff"/>
<rect x="55.93" y="103.55" width="1.3" height="1.3" fill="#2a8cff"/>
<rect x="74.38" y="91.71" width="1.3" height="1.3" fill="#1a1aff"/>
<rect x="67.48" y="86.67" width="1.3" height="1.3" fill="#1a1aff"/>
<rect x="65.25" y="105.01" width="1.3" height="1.3" fill="#1a1aff"/>
<rect x="49.56" y="110.7" width="1.3" height="1.3" fill="#1a1aff"/>
<rect x="57.31" y="100.74" width="1.3" height="1.3" fill="#2a8cff"/>
<rect x="74.55" y="80.55" width="1.3" height="1.3" fill="#2a8cff"/>
<rect x="57.83" y="96.87" width="1.3" height="1.3" fill="#1a1aff"/>
<rect x="70.94" y="95.36" width="1.3" height="1.3" fill="#1a1aff"/>
<rect x="56.77" y="106.99" width="1.3" height="1.3" fill="#1a1aff"/>
<rect x="70.65" y="82.93" width="1.3" height="1.3" fill="#1a1aff"/>
<rect x="67.83" y="95.76" width="1.3" height="1.3" fill="#2a8cff"/>
<rect x="69.58" y="92.54" width="1.3" height="1.3" fill="#2a8cff"/>
<rect x="70.47" y="83.72" width="1.3" height="1.3" fill="#2a8cff"/>
<rect x="54.46" y="107.09" width="1.3" height="1.3" fill="#2a8cff"/>
<rect x="54.56" y="108.57" width="1.3" height="1.3" fill="#1a1aff"/>
<rect x="66.26" y="83.83" width="1.3" height="1.3" fill="#1a1aff"/>
<rect x="57.08" y="109.74" width="1.3" height="1.3" fill="#1a1aff"/>
<rect x="63.46" y="101.52" width="1.3" height="1.3" fill="#1a1aff"/>
<rect x="54.22" y="109.7" width="1.3" height="1.3" fill="#1a1aff"/>
<rect x="43.29" y="120.34" width="1.3" height="1.3" fill="#1a1aff"/>
<rect x="71.86" y="92.48" width="1.3" height="1.3" fill="#1a1aff"/>
<rect x="75.42" y="81.96" width="1.3" height="1.3" fill="#2a8cff"/>
<rect x="56.7" y="104.92" width="1.3" height="1.3" fill="#2a8cff"/>
<rect x="53.12" y="117.63" width="1.3" height="1.3" fill="#1a1aff"/>
<rect x="73.97" y="77.88" width="1.3" height="1.3" fill="#1a1aff"/>
<rect x="52.27" y="114.32" width="1.3" height="1.3" fill="#1a1aff"/>
<rect x="58.2" y="110.24" width="1.3" height="1.3" fill="#1a1aff"/>
<rect x="57.64" y="105.96" width="1.3" height="1.3" fill="#2a8cff"/>
<rect x="60.72" y="102.07" width="1.3" height="1.3" fill="#2a8cff"/>
<rect x="61.14" y="104.67" width="1.3" height="1.3" fill="#1a1aff"/>
<rect x="67.33" y="101.89" width="1.3" height="1.3" fill="#1a1aff"/>
<rect x="51.82" y="112.43" width="1.3" height="1.3" fill="#1a1aff"/>
<rect x="74.41" y="82.23" width="1.3" height="1.3" fill="#2a8cff"/>
<rect x="47.01" y="120.81" width="1.3" height="1.3" fill="#1a1aff"/>
<rect x="56.7" y="111.08" width="1.3" height="1.3" fill="#1a1aff"/>
<rect x="41.01" y="117.36" width="1.3" height="1.3" fill="#1a1aff"/>
<rect x="54.57" y="107.74" width="1.3" height="1.3" fill="#2a8cff"/>
<rect x="58.37" y="113.66" width="1.3" height="1.3" fill="#1a1aff"/>
<rect x="56.03" y="106.02" width="1.3" height="1.3" fill="#1a1aff"/>
<rect x="65.08" y="99.45" width="1.3" height="1.3" fill="#1a1aff"/>
<rect x="51.73" y="114.24" width="1.3" height="1.3" fill="#1a1aff"/>
<rect x="68.7" y="84.7" width="1.3" height="1.3" fill="#2a8cff"/>
<rect x="57.77" y="109.69" width="1.3" height="1.3" fill="#1a1aff"/>
<rect x="64.05" y="102.36" width="1.3" height="1.3" fill="#1a1aff"/>
<rect x="55.25" y="115.15" width="1.3" height="1.3" fill="#1a1aff"/>
<rect x="69.05" y="95.88" width="1.3" height="1.3" fill="#1a1aff"/>
<rect x="53.2" y="116.11" width="1.3" height="1.3" fill="#1a1aff"/>
<rect x="48.87" y="117.4" width="1.3" height="1.3" fill="#1a1aff"/>
<rect x="58.63" y="103.28" width="1.3" height="1.3" fill="#1a1aff"/>
<rect x="74.09" y="83.49" width="1.3" height="1.3" fill="#2a8cff"/>
<rect x="78.07" y="73.3" width="1.3" height="1.3" fill="#1a1aff"/>
<rect x="65.62" y="100.74" width="1.3" height="1.3" fill="#1a1aff"/>
<rect x="53.96" y="113.13" width="1.3" height="1.3" fill="#1a1aff"/>
<rect x="65.57" y="102.24" width="1.3" height="1.3" fill="#1a1aff"/>
<rect x="61.25" y="102.03" width="1.3" height="1.3" fill="#1a1aff"/>
<rect x="69.63" y="95.35" width="1.3" height="1.3" fill="#1a1aff"/>
<rect x="45.76" y="114.23" width="1.3" height="1.3" fill="#1a1aff"/>
<rect x="53.61" y="109.45" width="1.3" height="1.3" fill="#1a1aff"/>
<rect x="70.1" y="93.01" width="1.3" height="1.3" fill="#2a8cff"/>
<rect x="65.16" y="102.62" width="1.3" height="1.3" fill="#1a1aff"/>
<rect x="64.85" y="99.22" width="1.3" height="1.3" fill="#2a8cff"/>
<rect x="60.26" y="105.89" width="1.3" height="1.3" fill="#1a1aff"/>
<rect x="61.27" y="106.07" width="1.3" height="1.3" fill="#1a1aff"/>
<rect x="74.19" y="92.44" width="1.3" height="1.3" fill="#1a1aff"/>
<rect x="58.22" y="99.36" width="1.3" height="1.3" fill="#2a8cff"/>
<rect x="57.08" y="100.03" width="1.3" height="1.3" fill="#2a8cff"/>
<rect x="65.25" y="86.54" width="1.3" height="1.3" fill="#1a1aff"/>
<rect x="62.89" y="103.54" width="1.3" height="1.3" fill="#1a1aff"/>
<rect x="63.06" y="100.49" width="1.3" height="1.3" fill="#1a1aff"/>
<rect x="68.68" y="93.76" width="1.3" height="1.3" fill="#1a1aff"/>
<rect x="72.89" y="88.54" width="1.3" height="1.3" fill="#2a8cff"/>
<rect x="58.42" y="98.77" width="1.3" height="1.3" fill="#1a1aff"/>
<rect x="69.49" y="95.65" width="1.3" height="1.3" fill="#1a1aff"/>
<rect x="63.37" y="103.97" width="1.3" height="1.3" fill="#1a1aff"/>
<rect x="49.24" y="104.34" width="1.3" height="1.3" fill="#1a1aff"/>
<rect x="61.12" y="106.17" width="1.3" height="1.3" fill="#1a1aff"/>
<rect x="63.03" y="100.64" width="1.3" height="1.3" fill="#1a1aff"/>
<rect x="67.6" y="100.35" width="1.3" height="1.3" fill="#1a1aff"/>
<rect x="75.7" y="85.31" width="1.3" height="1.3" fill="#1a1aff"/>
<rect x="70.01" y="91.72" width="1.3" height="1.3" fill="#1a1aff"/>
<rect x="53.45" y="117.31" width="1.3" height="1.3" fill="#1a1aff"/>
<rect x="57.38" y="105.43" width="1.3" height="1.3" fill="#1a1aff"/>
<rect x="64.23" y="90.62" width="1.3" height="1.3" fill="#1a1aff"/>
<rect x="56.75" y="100.84" width="1.3" height="1.3" fill="#2a8cff"/>
<rect x="54.25" y="108.87" width="1.3" height="1.3" fill="#1a1aff"/>
<rect x="56.36" y="106.11" width="1.3" height="1.3" fill="#1a1aff"/>
<rect x="59.33" y="103.1" width="1.3" height="1.3" fill="#2a8cff"/>
<rect x="67.84" y="96.94" width="1.3" height="1.3" fill="#1a1aff"/>
<rect x="58.15" y="103.8" width="1.3" height="1.3" fill="#2a8cff"/>
<rect x="65.4" y="100.93" width="1.3" height="1.3" fill="#1a1aff"/>
<rect x="57.05" y="107.03" width="1.3" height="1.3" fill="#1a1aff"/>
<rect x="70.66" y="91.14" width="1.3" height="1.3" fill="#2a8cff"/>
<rect x="56.47" y="102.23" width="1.3" height="1.3" fill="#1a1aff"/>
<rect x="49.39" y="113.8" width="1.3" height="1.3" fill="#1a1aff"/>
<rect x="58.69" y="97.19" width="1.3" height="1.3" fill="#2a8cff"/>
<rect x="67.8" y="84.67" width="1.3" height="1.3" fill="#1a1aff"/>
<rect x="60.17" y="110.46" width="1.3" height="1.3" fill="#1a1aff"/>
<rect x="74.99" y="90.35" width="1.3" height="1.3" fill="#1a1aff"/>
<rect x="59.79" y="106.02" width="1.3" height="1.3" fill="#1a1aff"/>
<rect x="73.06" y="89.53" width="1.3" height="1.3" fill="#1a1aff"/>
<rect x="65.81" y="101.57" width="1.3" height="1.3" fill="#1a1aff"/>
<rect x="81.79" y="74.47" width="1.3" height="1.3" fill="#1a1aff"/>
<rect x="59.12" y="107.6" width="1.3" height="1.3" fill="#1a1aff"/>
<rect x="51.54" y="118.48" width="1.3" height="1.3" fill="#1a1aff"/>
<rect x="57.3" y="109.34" width="1.3" height="1.3" fill="#1a1aff"/>
<rect x="72.31" y="87.99" width="1.3" height="1.3" fill="#2a8cff"/>
<rect x="75.54" y="83.74" width="1.3" height="1.3" fill="#2a8cff"/>
<rect x="57.03" y="106.06" width="1.3" height="1.3" fill="#1a1aff"/>
<rect x="67.48" y="105.71" width="1.3" height="1.3" fill="#1a1aff"/>
<rect x="64.22" y="88.79" width="1.3" height="1.3" fill="#1a1aff"/>
<rect x="68.29" y="99.92" width="1.3" height="1.3" fill="#1a1aff"/>
<rect x="67.29" y="98.76" width="1.3" height="1.3" fill="#1a1aff"/>
<rect x="62.23" y="101.58" width="1.3" height="1.3" fill="#2a8cff"/>
<rect x="61.65" y="90.11" width="1.3" height="1.3" fill="#1a1aff"/>
<rect x="62.32" y="108.09" width="1.3" height="1.3" fill="#1a1aff"/>
<rect x="60.56" y="107.2" width="1.3" height="1.3" fill="#1a1aff"/>
<rect x="76.07" y="81.16" width="1.3" height="1.3" fill="#1a1aff"/>
<rect x="60.89" y="103.92" width="1.3" height="1.3" fill="#1a1aff"/>
<rect x="57.66" y="99.23" width="1.3" height="1.3" fill="#1a1aff"/>
<rect x="52.68" y="103.36" width="1.3" height="1.3" fill="#1a1aff"/>
<rect x="71.5" y="93.19" width="1.3" height="1.3" fill="#1a1aff"/>
<rect x="57.49" y="106.01" width="1.3" height="1.3" fill="#1a1aff"/>
<rect x="53.19" y="99.14" width="1.3" height="1.3" fill="#1a1aff"/>
<rect x="79.64" y="78.03" width="1.3" height="1.3" fill="#1a1aff"/>
<rect x="56.59" y="112.7" width="1.3" height="1.3" fill="#1a1aff"/>
<rect x="72.18" y="92.97" width="1.3" height="1.3" fill="#1a1aff"/>
<rect x="70.28" y="91.38" width="1.3" height="1.3" fill="#2a8cff"/>
<rect x="56.1" y="108.45" width="1.3" height="1.3" fill="#1a1aff"/>
<rect x="61.99" y="92.47" width="1.3" height="1.3" fill="#1a1aff"/>
<rect x="68.77" y="95.57" width="1.3" height="1.3" fill="#1a1aff"/>
<rect x="54.09" y="108.55" width="1.3" height="1.3" fill="#1a1aff"/>
<rect x="74.25" y="79.83" width="1.3" height="1.3" fill="#2a8cff"/>
<rect x="69.69" y="93.33" width="1.3" height="1.3" fill="#2a8cff"/>
<rect x="61.64" y="93.44" width="1.3" height="1.3" fill="#1a1aff"/>
<rect x="79.51" y="87.09" width="1.3" height="1.3" fill="#1a1aff"/>
<rect x="67.05" y="83.25" width="1.3" height="1.3" fill="#1a1aff"/>
<rect x="53.34" y="105.49" width="1.3" height="1.3" fill="#1a1aff"/>
<rect x="64.65" y="83.97" width="1.3" height="1.3" fill="#1a1aff"/>
<rect x="62.32" y="102.21" width="1.3" height="1.3" fill="#1a1aff"/>
<rect x="61.33" y="89.98" width="1.3" height="1.3" fill="#1a1aff"/>
<rect x="55.09" y="105.98" width="1.3" height="1.3" fill="#2a8cff"/>
<rect x="54.15" y="113.65" width="1.3" height="1.3" fill="#1a1aff"/>
<rect x="73.03" y="82.43" width="1.3" height="1.3" fill="#1a1aff"/>
<rect x="57.24" y="99.28" width="1.3" height="1.3" fill="#1a1aff"/>
<rect x="56.52" y="102.24" width="1.3" height="1.3" fill="#2a8cff"/>
<rect x="67.88" y="100.09" width="1.3" height="1.3" fill="#1a1aff"/>
<rect x="73.57" y="89.14" width="1.3" height="1.3" fill="#1a1aff"/>
<rect x="58.74" y="107.88" width="1.3" height="1.3" fill="#1a1aff"/>
<rect x="56.72" y="102.59" width="1.3" height="1.3" fill="#2a8cff"/>
<rect x="82.09" y="74.38" width="1.3" height="1.3" fill="#1a1aff"/>
<rect x="63.31" y="101.49" width="1.3" height="1.3" fill="#1a1aff"/>
<rect x="57.05" y="109.38" width="1.3" height="1.3" fill="#1a1aff"/>
<rect x="74.74" y="82.47" width="1.3" height="1.3" fill="#2a8cff"/>
<rect x="62.66" y="104.09" width="1.3" height="1.3" fill="#1a1aff"/>
<rect x="56.66" y="108.48" width="1.3" height="1.3" fill="#1a1aff"/>
<rect x="60.74" y="102.79" width="1.3" height="1.3" fill="#1a1aff"/>
<rect x="59.56" y="105.75" width="1.3" height="1.3" fill="#1a1aff"/>
<rect x="71.78" y="95.07" width="1.3" height="1.3" fill="#1a1aff"/>
<rect x="62.21" y="101.53" width="1.3" height="1.3" fill="#1a1aff"/>
<rect x="49.47" y="112.53" width="1.3" height="1.3" fill="#1a1aff"/>
<rect x="62.71" y="92.53" width="1.3" height="1.3" fill="#2a8cff"/>
<rect x="68.62" y="93.88" width="1.3" height="1.3" fill="#2a8cff"/>
<rect x="61.92" y="102.9" width="1.3" height="1.3" fill="#1a1aff"/>
<rect x="60.12" y="102.76" width="1.3" height="1.3" fill="#1a1aff"/>
<rect x="68.83" y="93.41" width="1.3" height="1.3" fill="#1a1aff"/>
<rect x="71.88" y="94.68" width="1.3" height="1.3" fill="#1a1aff"/>
<rect x="58.87" y="103.15" width="1.3" height="1.3" fill="#1a1aff"/>
<rect x="52.67" y="115.99" width="1.3" height="1.3" fill="#1a1aff"/>
<rect x="54.48" y="106.86" width="1.3" height="1.3" fill="#1a1aff"/>
<rect x="61.11" y="102.86" width="1.3" height="1.3" fill="#1a1aff"/>
<rect x="57.19" y="100.44" width="1.3" height="1.3" fill="#2a8cff"/>
<rect x="71.99" y="90.86" width="1.3" height="1.3" fill="#1a1aff"/>
<rect x="60.76" y="103.95" width="1.3" height="1.3" fill="#1a1aff"/>
<rect x="47.18" y="107.62" width="1.3" height="1.3" fill="#1a1aff"/>
<rect x="58.66" y="111.03" width="1.3" height="1.3" fill="#1a1aff"/>
<rect x="69.06" y="97.69" width="1.3" height="1.3" fill="#1a1aff"/>
<rect x="60.99" y="105.76" width="1.3" height="1.3" fill="#1a1aff"/>
<rect x="77.46" y="84.12" width="1.3" height="1.3" fill="#1a1aff"/>
<rect x="68.3" y="96.51" width="1.3" height="1.3" fill="#1a1aff"/>
<rect x="64.5" y="104.63" width="1.3" height="1.3" fill="#1a1aff"/>
<rect x="53.89" y="106.88" width="1.3" height="1.3" fill="#2a8cff"/>
<rect x="77.91" y="82.05" width="1.3" height="1.3" fill="#1a1aff"/>
<rect x="62.33" y="107.07" width="1.3" height="1.3" fill="#1a1aff"/>
<rect x="77.69" y="84.72" width="1.3" height="1.3" fill="#1a1aff"/>
<rect x="68.64" y="96.38" width="1.3" height="1.3" fill="#1a1aff"/>
<rect x="78.45" y="85.19" width="1.3" height="1.3" fill="#1a1aff"/>
<rect x="56.41" y="98.85" width="1.3" height="1.3" fill="#1a1aff"/>
<rect x="55.11" y="115.75" width="1.3" height="1.3" fill="#1a1aff"/>
<rect x="74.06" y="89.45" width="1.3" height="1.3" fill="#1a1aff"/>
<rect x="54.38" y="110.46" width="1.3" height="1.3" fill="#1a1aff"/>
<rect x="65.87" y="101.24" width="1.3" height="1.3" fill="#1a1aff"/>
<rect x="51.78" y="103.97" width="1.3" height="1.3" fill="#1a1aff"/>
<rect x="49.68" y="115.72" width="1.3" height="1.3" fill="#1a1aff"/>
<rect x="75.1" y="81.05" width="1.3" height="1.3" fill="#1a1aff"/>
<rect x="59.67" y="104.57" width="1.3" height="1.3" fill="#2a8cff"/>
<rect x="77.31" y="84.75" width="1.3" height="1.3" fill="#1a1aff"/>
<rect x="72.22" y="90.69" width="1.3" height="1.3" fill="#1a1aff"/>
<rect x="70.85" y="96.56" width="1.3" height="1.3" fill="#1a1aff"/>
<rect x="46.82" y="117.1" width="1.3" height="1.3" fill="#1a1aff"/>
<rect x="58.13" y="107.16" width="1.3" height="1.3" fill="#1a1aff"/>
<rect x="69.47" y="95.12" width="1.3" height="1.3" fill="#1a1aff"/>
<rect x="58.94" y="103.35" width="1.3" height="1.3" fill="#1a1aff"/>
<rect x="58.02" y="112.26" width="1.3" height="1.3" fill="#1a1aff"/>
<rect x="75.73" y="80.88" width="1.3" height="1.3" fill="#2a8cff"/>
<rect x="80.08" y="80.08" width="1.3" height="1.3" fill="#1a1aff"/>
<rect x="51.81" y="115.35" width="1.3" height="1.3" fill="#1a1aff"/>
<rect x="66.78" y="95.86" width="1.3" height="1.3" fill="#2a8cff"/>
<rect x="72.69" y="87.23" width="1.3" height="1.3" fill="#1a1aff"/>
<rect x="77.19" y="79.38" width="1.3" height="1.3" fill="#2a8cff"/>
<rect x="50.13" y="124.11" width="1.3" height="1.3" fill="#1a1aff"/>
<rect x="63.74" y="89.02" width="1.3" height="1.3" fill="#1a1aff"/>
<rect x="56.6" y="109.55" width="1.3" height="1.3" fill="#1a1aff"/>
<rect x="63.33" y="100.42" width="1.3" height="1.3" fill="#2a8cff"/>
<rect x="49.7" y="111.07" width="1.3" height="1.3" fill="#1a1aff"/>
<rect x="65.74" y="103.96" width="1.3" height="1.3" fill="#1a1aff"/>
<rect x="62.97" y="90.74" width="1.3" height="1.3" fill="#2a8cff"/>
<rect x="45.41" y="130.04" width="1.3" height="1.3" fill="#1a1aff"/>
<rect x="72.83" y="89.54" width="1.3" height="1.3" fill="#1a1aff"/>
<rect x="79.67" y="77.55" width="1.3" height="1.3" fill="#1a1aff"/>
<rect x="62.11" y="103.4" width="1.3" height="1.3" fill="#1a1aff"/>
<rect x="53.16" y="109.27" width="1.3" height="1.3" fill="#1a1aff"/>
<rect x="55.41" y="105.75" width="1.3" height="1.3" fill="#1a1aff"/>
<rect x="51.4" y="106.96" width="1.3" height="1.3" fill="#1a1aff"/>
<rect x="56.76" y="108.43" width="1.3" height="1.3" fill="#1a1aff"/>
<rect x="68.9" y="94.2" width="1.3" height="1.3" fill="#1a1aff"/>
<rect x="71.89" y="96.4" width="1.3" height="1.3" fill="#1a1aff"/>
<rect x="62.77" y="103.78" width="1.3" height="1.3" fill="#1a1aff"/>
<rect x="67.5" y="78.88" width="1.3" height="1.3" fill="#1a1aff"/>
<rect x="51.8" y="106.87" width="1.3" height="1.3" fill="#1a1aff"/>
<rect x="67.85" y="104.22" width="1.3" height="1.3" fill="#1a1aff"/>
<rect x="54.05" y="108.29" width="1.3" height="1.3" fill="#1a1aff"/>
<rect x="76.49" y="90.3" width="1.3" height="1.3" fill="#1a1aff"/>
<rect x="64.45" y="98.48" width="1.3" height="1.3" fill="#1a1aff"/>
<rect x="65.02" y="103.08" width="1.3" height="1.3" fill="#1a1aff"/>
<rect x="64.98" y="99.03" width="1.3" height="1.3" fill="#2a8cff"/>
<rect x="64.97" y="101.09" width="1.3" height="1.3" fill="#1a1aff"/>
<rect x="73.22" y="76.12" width="1.3" height="1.3" fill="#1a1aff"/>
<rect x="61.97" y="109.45" width="1.3" height="1.3" fill="#1a1aff"/>
<rect x="58.23" y="106.26" width="1.3" height="1.3" fill="#1a1aff"/>
<rect x="62.47" y="106.18" width="1.3" height="1.3" fill="#1a1aff"/>
<rect x="53.13" y="107.79" width="1.3" height="1.3" fill="#1a1aff"/>
<rect x="64.82" y="99.11" width="1.3" height="1.3" fill="#2a8cff"/>
<rect x="83.05" y="76.26" width="1.3" height="1.3" fill="#1a1aff"/>
<rect x="59.39" y="113.42" width="1.3" height="1.3" fill="#1a1aff"/>
<rect x="66.48" y="99.75" width="1.3" height="1.3" fill="#1a1aff"/>
<rect x="76.24" y="81.6" width="1.3" height="1.3" fill="#1a1aff"/>
<rect x="77.31" y="84.05" width="1.3" height="1.3" fill="#1a1aff"/>
<rect x="73.02" y="86.6" width="1.3" height="1.3" fill="#1a1aff"/>
<rect x="67.12" y="96.76" width="1.3" height="1.3" fill="#1a1aff"/>
<rect x="57.08" y="106.46" width="1.3" height="1.3" fill="#1a1aff"/>
<rect x="57.76" y="109.53" width="1.3" height="1.3" fill="#1a1aff"/>
<rect x="66.71" y="96.36" width="1.3" height="1.3" fill="#1a1aff"/>
<rect x="54.06" y="105.32" width="1.3" height="1.3" fill="#2a8cff"/>
<rect x="71.58" y="89.4" width="1.3" height="1.3" fill="#2a8cff"/>
<rect x="56.14" y="99.49" width="1.3" height="1.3" fill="#1a1aff"/>
<rect x="75.53" y="79.48" width="1.3" height="1.3" fill="#1a1aff"/>
<rect x="54.41" y="107.43" width="1.3" height="1.3" fill="#2a8cff"/>
<rect x="55.67" y="108.02" width="1.3" height="1.3" fill="#1a1aff"/>
<rect x="57.24" y="100.52" width="1.3" height="1.3" fill="#1a1aff"/>
<rect x="51.29" y="115.35" width="1.3" height="1.3" fill="#1a1aff"/>
<rect x="57.49" y="100.65" width="1.3" height="1.3" fill="#2a8cff"/>
<rect x="50.33" y="111.79" width="1.3" height="1.3" fill="#1a1aff"/>
<rect x="63.06" y="104.22" width="1.3" height="1.3" fill="#1a1aff"/>
<rect x="54.6" y="111.91" width="1.3" height="1.3" fill="#1a1aff"/>
<rect x="46.81" y="113.34" width="1.3" height="1.3" fill="#1a1aff"/>
<rect x="47.93" y="117.21" width="1.3" height="1.3" fill="#1a1aff"/>
<rect x="50.19" y="117.8" width="1.3" height="1.3" fill="#1a1aff"/>
<rect x="53.87" y="107.46" width="1.3" height="1.3" fill="#1a1aff"/>
<rect x="47.99" y="111.13" width="1.3" height="1.3" fill="#1a1aff"/>
<rect x="52.11" y="109.75" width="1.3" height="1.3" fill="#1a1aff"/>
<rect x="44.48" y="115.37" width="1.3" height="1.3" fill="#1a1aff"/>
<rect x="49.91" y="110.15" width="1.3" height="1.3" fill="#1a1aff"/>
<rect x="51.38" y="111.41" width="1.3" height="1.3" fill="#1a1aff"/>
<rect x="52.96" y="107.86" width="1.3" height="1.3" fill="#1a1aff"/>
<rect x="54.58" y="110.9" width="1.3" height="1.3" fill="#1a1aff"/>
<rect x="52.19" y="107.81" width="1.3" height="1.3" fill="#1a1aff"/>
<rect x="55.75" y="115.53" width="1.3" height="1.3" fill="#1a1aff"/>
<rect x="48.15" y="111.98" width="1.3" height="1.3" fill="#1a1aff"/>
<rect x="47.69" y="110.13" width="1.3" height="1.3" fill="#1a1aff"/>
<rect x="47" y="114.25" width="1.3" height="1.3" fill="#1a1aff"/>
<rect x="51.27" y="114.79" width="1.3" height="1.3" fill="#1a1aff"/>
<rect x="46.94" y="115.37" width="1.3" height="1.3" fill="#1a1aff"/>
<rect x="49.85" y="111.1" width="1.3" height="1.3" fill="#1a1aff"/>
<rect x="56.18" y="113.64" width="1.3" height="1.3" fill="#1a1aff"/>
<rect x="45.56" y="114.24" width="1.3" height="1.3" fill="#1a1aff"/>
<rect x="47.54" y="113.04" width="1.3" height="1.3" fill="#1a1aff"/>
<rect x="49.47" y="114.65" width="1.3" height="1.3" fill="#1a1aff"/>
<rect x="58.97" y="110.98" width="1.3" height="1.3" fill="#1a1aff"/>
<rect x="45.42" y="109.35" width="1.3" height="1.3" fill="#1a1aff"/>
<rect x="53.48" y="107.66" width="1.3" height="1.3" fill="#2a8cff"/>
<rect x="51.17" y="115.33" width="1.3" height="1.3" fill="#1a1aff"/>
<rect x="49.12" y="112.34" width="1.3" height="1.3" fill="#1a1aff"/>
<rect x="49.74" y="116.45" width="1.3" height="1.3" fill="#1a1aff"/>
<rect x="50.04" y="108.45" width="1.3" height="1.3" fill="#1a1aff"/>
<rect x="51.12" y="116" width="1.3" height="1.3" fill="#1a1aff"/>
<rect x="47.33" y="113.86" width="1.3" height="1.3" fill="#1a1aff"/>
<rect x="47.58" y="114.29" width="1.3" height="1.3" fill="#1a1aff"/>
<rect x="51.96" y="109.85" width="1.3" height="1.3" fill="#1a1aff"/>
<rect x="53.39" y="110.29" width="1.3" height="1.3" fill="#1a1aff"/>
<rect x="45.16" y="118.43" width="1.3" height="1.3" fill="#1a1aff"/>
<rect x="46.36" y="109.79" width="1.3" height="1.3" fill="#1a1aff"/>
<rect x="51.55" y="109.91" width="1.3" height="1.3" fill="#1a1aff"/>
<rect x="49.76" y="114.69" width="1.3" height="1.3" fill="#1a1aff"/>
<rect x="53.56" y="110.59" width="1.3" height="1.3" fill="#1a1aff"/>
<rect x="48.56" y="113.88" width="1.3" height="1.3" fill="#1a1aff"/>
<rect x="52.83" y="102.91" width="1.3" height="1.3" fill="#1a1aff"/>
<rect x="50.09" y="112.18" width="1.3" height="1.3" fill="#1a1aff"/>
<rect x="54.58" y="108.79" width="1.3" height="1.3" fill="#1a1aff"/>
<rect x="49.75" y="111.21" width="1.3" height="1.3" fill="#1a1aff"/>
<rect x="52.86" y="108.72" width="1.3" height="1.3" fill="#1a1aff"/>
<rect x="49.98" y="112.91" width="1.3" height="1.3" fill="#1a1aff"/>
<rect x="51.52" y="110.33" width="1.3" height="1.3" fill="#1a1aff"/>
<rect x="52.09" y="112.83" width="1.3" height="1.3" fill="#1a1aff"/>
<rect x="47.69" y="114.16" width="1.3" height="1.3" fill="#1a1aff"/>
<rect x="51.43" y="113.22" width="1.3" height="1.3" fill="#1a1aff"/>
<rect x="50.15" y="109.9" width="1.3" height="1.3" fill="#1a1aff"/>
<rect x="46.7" y="114.88" width="1.3" height="1.3" fill="#1a1aff"/>
<rect x="50.54" y="115.27" width="1.3" height="1.3" fill="#1a1aff"/>
<rect x="51.45" y="110.53" width="1.3" height="1.3" fill="#1a1aff"/>
<rect x="44.67" y="113.54" width="1.3" height="1.3" fill="#1a1aff"/>
<rect x="51.4" y="112.94" width="1.3" height="1.3" fill="#1a1aff"/>
<rect x="50.2" y="110.81" width="1.3" height="1.3" fill="#1a1aff"/>
<rect x="47.1" y="107.52" width="1.3" height="1.3" fill="#1a1aff"/>
<rect x="55.61" y="111.26" width="1.3" height="1.3" fill="#1a1aff"/>
<rect x="50.75" y="112.2" width="1.3" height="1.3" fill="#1a1aff"/>
<rect x="51.22" y="114.39" width="1.3" height="1.3" fill="#1a1aff"/>
<rect x="46.55" y="114.2" width="1.3" height="1.3" fill="#1a1aff"/>
<rect x="47.83" y="108.9" width="1.3" height="1.3" fill="#1a1aff"/>
<rect x="51.93" y="111.59" width="1.3" height="1.3" fill="#1a1aff"/>
<rect x="48.8" y="111.6" width="1.3" height="1.3" fill="#1a1aff"/>
<rect x="52.77" y="106.23" width="1.3" height="1.3" fill="#1a1aff"/>
<rect x="51.87" y="113.16" width="1.3" height="1.3" fill="#1a1aff"/>
<rect x="51.98" y="114.05" width="1.3" height="1.3" fill="#1a1aff"/>
<rect x="50.38" y="112.75" width="1.3" height="1.3" fill="#1a1aff"/>
<rect x="51.19" y="113.41" width="1.3" height="1.3" fill="#1a1aff"/>
<rect x="50.2" y="115.71" width="1.3" height="1.3" fill="#1a1aff"/>
<rect x="50.08" y="107.58" width="1.3" height="1.3" fill="#1a1aff"/>
<rect x="43.66" y="114.77" width="1.3" height="1.3" fill="#1a1aff"/>
<rect x="49.43" y="115.84" width="1.3" height="1.3" fill="#1a1aff"/>
<rect x="53.89" y="115.13" width="1.3" height="1.3" fill="#1a1aff"/>
<rect x="50.33" y="105.17" width="1.3" height="1.3" fill="#1a1aff"/>
<rect x="48.33" y="113.05" width="1.3" height="1.3" fill="#1a1aff"/>
<rect x="55.18" y="108.74" width="1.3" height="1.3" fill="#1a1aff"/>
<rect x="50.31" y="108.27" width="1.3" height="1.3" fill="#1a1aff"/>
<rect x="52.26" y="104.48" width="1.3" height="1.3" fill="#1a1aff"/>
<rect x="47.93" y="110.74" width="1.3" height="1.3" fill="#1a1aff"/>
<rect x="48.3" y="115.45" width="1.3" height="1.3" fill="#1a1aff"/>
<rect x="49.2" y="116.14" width="1.3" height="1.3" fill="#1a1aff"/>
<rect x="51.16" y="110.87" width="1.3" height="1.3" fill="#1a1aff"/>
<rect x="53.65" y="112.2" width="1.3" height="1.3" fill="#1a1aff"/>
<rect x="50.02" y="107.26" width="1.3" height="1.3" fill="#1a1aff"/>
<rect x="53.2" y="111.79" width="1.3" height="1.3" fill="#1a1aff"/>
<rect x="48.18" y="112.87" width="1.3" height="1.3" fill="#1a1aff"/>
<rect x="54" y="109.75" width="1.3" height="1.3" fill="#1a1aff"/>
<rect x="53.11" y="114.22" width="1.3" height="1.3" fill="#1a1aff"/>
<rect x="55.58" y="112.28" width="1.3" height="1.3" fill="#1a1aff"/>
<rect x="50.99" y="115.07" width="1.3" height="1.3" fill="#1a1aff"/>
<rect x="43.94" y="117.32" width="1.3" height="1.3" fill="#1a1aff"/>
<rect x="51.7" y="105.78" width="1.3" height="1.3" fill="#1a1aff"/>
<rect x="48.78" y="112.26" width="1.3" height="1.3" fill="#1a1aff"/>
<rect x="53.31" y="112.71" width="1.3" height="1.3" fill="#1a1aff"/>
<rect x="53.24" y="107.28" width="1.3" height="1.3" fill="#1a1aff"/>
<rect x="52.43" y="112.72" width="1.3" height="1.3" fill="#1a1aff"/>
<rect x="51.95" y="108.42" width="1.3" height="1.3" fill="#1a1aff"/>
<rect x="50.01" y="105.99" width="1.3" height="1.3" fill="#1a1aff"/>
<rect x="47.65" y="109.34" width="1.3" height="1.3" fill="#1a1aff"/>
<rect x="47.15" y="112.5" width="1.3" height="1.3" fill="#1a1aff"/>
<rect x="57.39" y="109.64" width="1.3" height="1.3" fill="#1a1aff"/>
<rect x="51.98" y="110.26" width="1.3" height="1.3" fill="#1a1aff"/>
<rect x="41.83" y="115.57" width="1.3" height="1.3" fill="#1a1aff"/>
<rect x="51.79" y="112.94" width="1.3" height="1.3" fill="#1a1aff"/>
<rect x="49.53" y="109.65" width="1.3" height="1.3" fill="#1a1aff"/>
<rect x="49.18" y="115.54" width="1.3" height="1.3" fill="#1a1aff"/>
<rect x="56.6" y="106.65" width="1.3" height="1.3" fill="#2a8cff"/>
<rect x="49.53" y="112.29" width="1.3" height="1.3" fill="#1a1aff"/>
<rect x="51.51" y="111.5" width="1.3" height="1.3" fill="#1a1aff"/>
<rect x="49.74" y="119.1" width="1.3" height="1.3" fill="#1a1aff"/>
<rect x="52.05" y="111.85" width="1.3" height="1.3" fill="#1a1aff"/>
<rect x="51.1" y="115.46" width="1.3" height="1.3" fill="#1a1aff"/>
<rect x="50.69" y="108.15" width="1.3" height="1.3" fill="#1a1aff"/>
<rect x="50.75" y="108.13" width="1.3" height="1.3" fill="#1a1aff"/>
<rect x="47.32" y="119.24" width="1.3" height="1.3" fill="#1a1aff"/>
<rect x="46.42" y="114.47" width="1.3" height="1.3" fill="#1a1aff"/>
<rect x="47.54" y="115.06" width="1.3" height="1.3" fill="#1a1aff"/>
<rect x="49.35" y="113.68" width="1.3" height="1.3" fill="#1a1aff"/>
<rect x="54.3" y="113.5" width="1.3" height="1.3" fill="#1a1aff"/>
<rect x="51.95" y="111.78" width="1.3" height="1.3" fill="#1a1aff"/>
<rect x="52.66" y="112.15" width="1.3" height="1.3" fill="#1a1aff"/>
<rect x="52.52" y="110.09" width="1.3" height="1.3" fill="#1a1aff"/>
<rect x="45.19" y="114.35" width="1.3" height="1.3" fill="#1a1aff"/>
<rect x="49.86" y="110.98" width="1.3" height="1.3" fill="#1a1aff"/>
<rect x="47.83" y="112.76" width="1.3" height="1.3" fill="#1a1aff"/>
<rect x="50.45" y="116.24" width="1.3" height="1.3" fill="#1a1aff"/>
<rect x="49.04" y="107.99" width="1.3" height="1.3" fill="#1a1aff"/>
<rect x="50.25" y="111.75" width="1.3" height="1.3" fill="#1a1aff"/>
<rect x="50.95" y="115.4" width="1.3" height="1.3" fill="#1a1aff"/>
<rect x="50.74" y="111.5" width="1.3" height="1.3" fill="#1a1aff"/>
<rect x="49.84" y="116.44" width="1.3" height="1.3" fill="#1a1aff"/>
<rect x="51.01" y="112.05" width="1.3" height="1.3" fill="#1a1aff"/>
<rect x="51.34" y="116.79" width="1.3" height="1.3" fill="#1a1aff"/>
<rect x="39.84" y="119.49" width="1.3" height="1.3" fill="#1a1aff"/>
<rect x="43.35" y="115.33" width="1.3" height="1.3" fill="#1a1aff"/>
<rect x="46.43" y="114.65" width="1.3" height="1.3" fill="#1a1aff"/>
<rect x="49.49" y="113.66" width="1.3" height="1.3" fill="#1a1aff"/>
<rect x="54.14" y="109.16" width="1.3" height="1.3" fill="#1a1aff"/>
<rect x="49.82" y="111.74" width="1.3" height="1.3" fill="#1a1aff"/>
<rect x="52.39" y="112.48" width="1.3" height="1.3" fill="#1a1aff"/>
<rect x="51.77" y="117.32" width="1.3" height="1.3" fill="#1a1aff"/>
<rect x="51.59" y="113.74" width="1.3" height="1.3" fill="#1a1aff"/>
<rect x="44.6" y="120.04" width="1.3" height="1.3" fill="#1a1aff"/>
<rect x="51.76" y="115.68" width="1.3" height="1.3" fill="#1a1aff"/>
<rect x="52.85" y="109.79" width="1.3" height="1.3" fill="#1a1aff"/>
<rect x="50.66" y="109.97" width="1.3" height="1.3" fill="#1a1aff"/>
<rect x="50.13" y="116.88" width="1.3" height="1.3" fill="#1a1aff"/>
<rect x="48.95" y="95.52" width="1.3" height="1.3" fill="#1a1aff"/>
<rect x="46.9" y="93.36" width="1.3" height="1.3" fill="#1a1aff"/>
<rect x="57.77" y="98.48" width="1.3" height="1.3" fill="#2a8cff"/>
<rect x="42.06" y="101" width="1.3" height="1.3" fill="#1a1aff"/>
<rect x="58.21" y="97.13" width="1.3" height="1.3" fill="#1a1aff"/>
<rect x="58.93" y="61.88" width="1.3" height="1.3" fill="#1a1aff"/>
<rect x="70.92" y="91.48" width="1.3" height="1.3" fill="#1a1aff"/>
<rect x="70.69" y="92.08" width="1.3" height="1.3" fill="#2a8cff"/>
<rect x="72.05" y="74.64" width="1.3" height="1.3" fill="#1a1aff"/>
<rect x="46.6" y="97.04" width="1.3" height="1.3" fill="#1a1aff"/>
<rect x="68.61" y="65.63" width="1.3" height="1.3" fill="#1a1aff"/>
<rect x="50.29" y="94.6" width="1.3" height="1.3" fill="#1a1aff"/>
<rect x="71.92" y="72.74" width="1.3" height="1.3" fill="#1a1aff"/>
<rect x="45.84" y="98.4" width="1.3" height="1.3" fill="#1a1aff"/>
<rect x="76.24" y="71.78" width="1.3" height="1.3" fill="#1a1aff"/>
<rect x="59.66" y="76.42" width="1.3" height="1.3" fill="#1a1aff"/>
<rect x="49.34" y="85.37" width="1.3" height="1.3" fill="#1a1aff"/>
<rect x="62.48" y="88.54" width="1.3" height="1.3" fill="#1a1aff"/>
<g filter="url(#sb)">
<ellipse cx="65.8" cy="94.5" rx="19.5" ry="3.96" fill="#44eeff" transform="rotate(-51 65.8 94.5)"/>
<ellipse cx="66.3" cy="93.6" rx="17.5" ry="3.5" fill="#44ff22" transform="rotate(-51 66.3 93.6)"/>
<ellipse cx="66.3" cy="91.6" rx="8.2" ry="2.21" fill="#e0ff00" transform="rotate(-47 66.3 91.6)"/>
<ellipse cx="66.3" cy="91.5" rx="6.9" ry="1.66" fill="#ff0000" transform="rotate(-47 66.3 91.5)"/>
</g>
<polygon points="158.7,57.4 181.2,56.5 184.5,67.7 145.6,99.8 144.8,81" fill="none" stroke="#b8bdb0" stroke-width="0.9"/>
<g filter="url(#sb)">
<ellipse cx="159" cy="100" rx="24" ry="5.2" fill="#1a1aff" transform="rotate(-50 159 100)"/>
<ellipse cx="164.5" cy="81" rx="6" ry="4" fill="#1a1aff" transform="rotate(-62 164.5 81)"/>
<ellipse cx="149" cy="112.5" rx="5" ry="3.5" fill="#1a1aff" transform="rotate(-50 149 112.5)"/>
</g>
<rect x="176.81" y="72.64" width="1.3" height="1.3" fill="#1a1aff"/>
<rect x="161.73" y="86.47" width="1.3" height="1.3" fill="#1a1aff"/>
<rect x="152.68" y="100.9" width="1.3" height="1.3" fill="#2a8cff"/>
<rect x="146.7" y="107.51" width="1.3" height="1.3" fill="#1a1aff"/>
<rect x="144.78" y="96.61" width="1.3" height="1.3" fill="#1a1aff"/>
<rect x="167.6" y="85.13" width="1.3" height="1.3" fill="#1a1aff"/>
<rect x="148.99" y="117.59" width="1.3" height="1.3" fill="#1a1aff"/>
<rect x="146.8" y="110.96" width="1.3" height="1.3" fill="#2a8cff"/>
<rect x="154.28" y="100.04" width="1.3" height="1.3" fill="#1a1aff"/>
<rect x="167.45" y="81.3" width="1.3" height="1.3" fill="#1a1aff"/>
<rect x="150.52" y="95.54" width="1.3" height="1.3" fill="#1a1aff"/>
<rect x="154.74" y="92.8" width="1.3" height="1.3" fill="#1a1aff"/>
<rect x="149.7" y="121.19" width="1.3" height="1.3" fill="#1a1aff"/>
<rect x="154.33" y="94.27" width="1.3" height="1.3" fill="#1a1aff"/>
<rect x="148.81" y="111.38" width="1.3" height="1.3" fill="#2a8cff"/>
<rect x="139.04" y="122.16" width="1.3" height="1.3" fill="#1a1aff"/>
<rect x="141.95" y="117.84" width="1.3" height="1.3" fill="#1a1aff"/>
<rect x="151.97" y="115.17" width="1.3" height="1.3" fill="#1a1aff"/>
<rect x="164.34" y="87.54" width="1.3" height="1.3" fill="#2a8cff"/>
<rect x="138.01" y="117.39" width="1.3" height="1.3" fill="#1a1aff"/>
<rect x="153.56" y="97.67" width="1.3" height="1.3" fill="#1a1aff"/>
<rect x="155.14" y="98.97" width="1.3" height="1.3" fill="#1a1aff"/>
<rect x="162.9" y="90.51" width="1.3" height="1.3" fill="#1a1aff"/>
<rect x="163.44" y="89.74" width="1.3" height="1.3" fill="#2a8cff"/>
<rect x="170.3" y="81.78" width="1.3" height="1.3" fill="#1a1aff"/>
<rect x="147.78" y="110.76" width="1.3" height="1.3" fill="#2a8cff"/>
<rect x="148.65" y="103.84" width="1.3" height="1.3" fill="#1a1aff"/>
<rect x="137.69" y="122" width="1.3" height="1.3" fill="#1a1aff"/>
<rect x="160.32" y="87.86" width="1.3" height="1.3" fill="#1a1aff"/>
<rect x="152.57" y="101.57" width="1.3" height="1.3" fill="#2a8cff"/>
<rect x="166.51" y="99.93" width="1.3" height="1.3" fill="#1a1aff"/>
<rect x="168.71" y="90.22" width="1.3" height="1.3" fill="#2a8cff"/>
<rect x="160.66" y="92.26" width="1.3" height="1.3" fill="#2a8cff"/>
<rect x="168.26" y="97.73" width="1.3" height="1.3" fill="#1a1aff"/>
<rect x="148.19" y="114.6" width="1.3" height="1.3" fill="#1a1aff"/>
<rect x="168.1" y="94.11" width="1.3" height="1.3" fill="#1a1aff"/>
<rect x="180.48" y="78.91" width="1.3" height="1.3" fill="#1a1aff"/>
<rect x="172.91" y="82.43" width="1.3" height="1.3" fill="#2a8cff"/>
<rect x="158.83" y="94.76" width="1.3" height="1.3" fill="#2a8cff"/>
<rect x="167.6" y="95.18" width="1.3" height="1.3" fill="#1a1aff"/>
<rect x="144.63" y="108.59" width="1.3" height="1.3" fill="#1a1aff"/>
<rect x="155.27" y="92.87" width="1.3" height="1.3" fill="#1a1aff"/>
<rect x="167.57" y="81.93" width="1.3" height="1.3" fill="#1a1aff"/>
<rect x="163.88" y="85.1" width="1.3" height="1.3" fill="#1a1aff"/>
<rect x="152.29" y="101.43" width="1.3" height="1.3" fill="#2a8cff"/>
<rect x="149.48" y="106.07" width="1.3" height="1.3" fill="#2a8cff"/>
<rect x="149.45" y="105.34" width="1.3" height="1.3" fill="#2a8cff"/>
<rect x="169.77" y="85.55" width="1.3" height="1.3" fill="#1a1aff"/>
<rect x="170.72" y="88.11" width="1.3" height="1.3" fill="#2a8cff"/>
<rect x="180.41" y="64.79" width="1.3" height="1.3" fill="#1a1aff"/>
<rect x="162.36" y="99.61" width="1.3" height="1.3" fill="#1a1aff"/>
<rect x="161.98" y="101.51" width="1.3" height="1.3" fill="#1a1aff"/>
<rect x="143.8" y="108.62" width="1.3" height="1.3" fill="#1a1aff"/>
<rect x="154.61" y="98.63" width="1.3" height="1.3" fill="#1a1aff"/>
<rect x="150.53" y="110.86" width="1.3" height="1.3" fill="#1a1aff"/>
<rect x="155.27" y="97.91" width="1.3" height="1.3" fill="#1a1aff"/>
<rect x="148.33" y="109.47" width="1.3" height="1.3" fill="#2a8cff"/>
<rect x="157.47" y="106.87" width="1.3" height="1.3" fill="#1a1aff"/>
<rect x="168.6" y="97.99" width="1.3" height="1.3" fill="#1a1aff"/>
<rect x="170.97" y="81.23" width="1.3" height="1.3" fill="#1a1aff"/>
<rect x="150.19" y="110.79" width="1.3" height="1.3" fill="#1a1aff"/>
<rect x="150.79" y="110.72" width="1.3" height="1.3" fill="#2a8cff"/>
<rect x="158.55" y="93.05" width="1.3" height="1.3" fill="#1a1aff"/>
<rect x="138.17" y="120.88" width="1.3" height="1.3" fill="#1a1aff"/>
<rect x="151.38" y="103.7" width="1.3" height="1.3" fill="#1a1aff"/>
<rect x="171.95" y="83.16" width="1.3" height="1.3" fill="#1a1aff"/>
<rect x="161.87" y="87.11" width="1.3" height="1.3" fill="#1a1aff"/>
<rect x="151.57" y="109.87" width="1.3" height="1.3" fill="#1a1aff"/>
<rect x="164.9" y="97.75" width="1.3" height="1.3" fill="#2a8cff"/>
<rect x="148.81" y="119.11" width="1.3" height="1.3" fill="#1a1aff"/>
<rect x="173.39" y="84.77" width="1.3" height="1.3" fill="#1a1aff"/>
<rect x="165.71" y="96.4" width="1.3" height="1.3" fill="#2a8cff"/>
<rect x="152.76" y="108.94" width="1.3" height="1.3" fill="#1a1aff"/>
<rect x="155.78" y="95.8" width="1.3" height="1.3" fill="#1a1aff"/>
<rect x="175.74" y="82.91" width="1.3" height="1.3" fill="#1a1aff"/>
<rect x="139.03" y="110.39" width="1.3" height="1.3" fill="#1a1aff"/>
<rect x="146.2" y="104.66" width="1.3" height="1.3" fill="#1a1aff"/>
<rect x="153.47" y="97.68" width="1.3" height="1.3" fill="#1a1aff"/>
<rect x="154.73" y="107.5" width="1.3" height="1.3" fill="#2a8cff"/>
<rect x="158.34" y="94.14" width="1.3" height="1.3" fill="#1a1aff"/>
<rect x="148.08" y="109.54" width="1.3" height="1.3" fill="#2a8cff"/>
<rect x="172" y="79.25" width="1.3" height="1.3" fill="#1a1aff"/>
<rect x="171.2" y="78.63" width="1.3" height="1.3" fill="#1a1aff"/>
<rect x="148.42" y="113.89" width="1.3" height="1.3" fill="#1a1aff"/>
<rect x="166.6" y="84.87" width="1.3" height="1.3" fill="#1a1aff"/>
<rect x="147.19" y="127.02" width="1.3" height="1.3" fill="#1a1aff"/>
<rect x="173.88" y="69.61" width="1.3" height="1.3" fill="#1a1aff"/>
<rect x="148.42" y="102.75" width="1.3" height="1.3" fill="#1a1aff"/>
<rect x="149.81" y="111.09" width="1.3" height="1.3" fill="#2a8cff"/>
<rect x="168.83" y="90.38" width="1.3" height="1.3" fill="#2a8cff"/>
<rect x="170.77" y="80.64" width="1.3" height="1.3" fill="#1a1aff"/>
<rect x="168.85" y="89.67" width="1.3" height="1.3" fill="#1a1aff"/>
<rect x="154.83" y="98.33" width="1.3" height="1.3" fill="#2a8cff"/>
<rect x="164.09" y="87.69" width="1.3" height="1.3" fill="#1a1aff"/>
<rect x="153.11" y="99.14" width="1.3" height="1.3" fill="#1a1aff"/>
<rect x="173.36" y="80.16" width="1.3" height="1.3" fill="#1a1aff"/>
<rect x="140.32" y="113.32" width="1.3" height="1.3" fill="#1a1aff"/>
<rect x="165.72" y="95.62" width="1.3" height="1.3" fill="#2a8cff"/>
<rect x="149.87" y="109.08" width="1.3" height="1.3" fill="#1a1aff"/>
<rect x="147.06" y="99.05" width="1.3" height="1.3" fill="#1a1aff"/>
<rect x="152.64" y="99.07" width="1.3" height="1.3" fill="#1a1aff"/>
<rect x="153.96" y="95.38" width="1.3" height="1.3" fill="#1a1aff"/>
<rect x="154.21" y="92.36" width="1.3" height="1.3" fill="#1a1aff"/>
<rect x="164.04" y="99.28" width="1.3" height="1.3" fill="#1a1aff"/>
<rect x="150.16" y="112.88" width="1.3" height="1.3" fill="#2a8cff"/>
<rect x="169.98" y="83.35" width="1.3" height="1.3" fill="#2a8cff"/>
<rect x="168.25" y="87.01" width="1.3" height="1.3" fill="#1a1aff"/>
<rect x="148.5" y="98.82" width="1.3" height="1.3" fill="#1a1aff"/>
<rect x="144.86" y="106.08" width="1.3" height="1.3" fill="#1a1aff"/>
<rect x="179.73" y="74.32" width="1.3" height="1.3" fill="#1a1aff"/>
<rect x="153.09" y="97.03" width="1.3" height="1.3" fill="#1a1aff"/>
<rect x="170.08" y="77.85" width="1.3" height="1.3" fill="#1a1aff"/>
<rect x="174.23" y="85.51" width="1.3" height="1.3" fill="#1a1aff"/>
<rect x="157.14" y="96.08" width="1.3" height="1.3" fill="#1a1aff"/>
<rect x="154.27" y="95.77" width="1.3" height="1.3" fill="#1a1aff"/>
<rect x="168.63" y="95.54" width="1.3" height="1.3" fill="#1a1aff"/>
<rect x="168.98" y="91.56" width="1.3" height="1.3" fill="#2a8cff"/>
<rect x="148.19" y="107.92" width="1.3" height="1.3" fill="#2a8cff"/>
<rect x="171.58" y="96.62" width="1.3" height="1.3" fill="#1a1aff"/>
<rect x="142.37" y="118.38" width="1.3" height="1.3" fill="#1a1aff"/>
<rect x="146.55" y="104.53" width="1.3" height="1.3" fill="#1a1aff"/>
<rect x="145.79" y="114.11" width="1.3" height="1.3" fill="#2a8cff"/>
<rect x="173.31" y="85.03" width="1.3" height="1.3" fill="#1a1aff"/>
<rect x="169.09" y="93.82" width="1.3" height="1.3" fill="#1a1aff"/>
<rect x="157.5" y="93.79" width="1.3" height="1.3" fill="#1a1aff"/>
<rect x="147.09" y="102.98" width="1.3" height="1.3" fill="#1a1aff"/>
<rect x="169.64" y="85.37" width="1.3" height="1.3" fill="#2a8cff"/>
<rect x="165.92" y="88.23" width="1.3" height="1.3" fill="#2a8cff"/>
<rect x="149.43" y="107.68" width="1.3" height="1.3" fill="#1a1aff"/>
<rect x="143.89" y="119.57" width="1.3" height="1.3" fill="#1a1aff"/>
<rect x="157.57" y="106.85" width="1.3" height="1.3" fill="#1a1aff"/>
<rect x="147.96" y="111.44" width="1.3" height="1.3" fill="#2a8cff"/>
<rect x="159.58" y="92.62" width="1.3" height="1.3" fill="#1a1aff"/>
<rect x="145.06" y="106.25" width="1.3" height="1.3" fill="#1a1aff"/>
<rect x="151.14" y="102.34" width="1.3" height="1.3" fill="#1a1aff"/>
<rect x="150.52" y="103.53" width="1.3" height="1.3" fill="#1a1aff"/>
<rect x="140.7" y="117.3" width="1.3" height="1.3" fill="#1a1aff"/>
<rect x="158.26" y="90.93" width="1.3" height="1.3" fill="#1a1aff"/>
<rect x="161.43" y="108.56" width="1.3" height="1.3" fill="#1a1aff"/>
<rect x="173.87" y="86.54" width="1.3" height="1.3" fill="#1a1aff"/>
<rect x="169.97" y="76.73" width="1.3" height="1.3" fill="#1a1aff"/>
<rect x="148.17" y="113.33" width="1.3" height="1.3" fill="#2a8cff"/>
<rect x="164.27" y="89.16" width="1.3" height="1.3" fill="#2a8cff"/>
<rect x="167.06" y="95.81" width="1.3" height="1.3" fill="#1a1aff"/>
<rect x="158.19" y="94.62" width="1.3" height="1.3" fill="#1a1aff"/>
<rect x="159.12" y="90.03" width="1.3" height="1.3" fill="#1a1aff"/>
<rect x="148.27" y="116.48" width="1.3" height="1.3" fill="#1a1aff"/>
<rect x="153.33" y="113.96" width="1.3" height="1.3" fill="#1a1aff"/>
<rect x="166.05" y="86.2" width="1.3" height="1.3" fill="#1a1aff"/>
<rect x="144.31" y="102.39" width="1.3" height="1.3" fill="#1a1aff"/>
<rect x="153.08" y="95.3" width="1.3" height="1.3" fill="#1a1aff"/>
<rect x="167.47" y="77.88" width="1.3" height="1.3" fill="#1a1aff"/>
<rect x="151.22" y="91.28" width="1.3" height="1.3" fill="#1a1aff"/>
<rect x="158.94" y="105.2" width="1.3" height="1.3" fill="#1a1aff"/>
<rect x="152.06" y="101.14" width="1.3" height="1.3" fill="#1a1aff"/>
<rect x="165.5" y="88.45" width="1.3" height="1.3" fill="#2a8cff"/>
<rect x="141.03" y="120.72" width="1.3" height="1.3" fill="#1a1aff"/>
<rect x="173.4" y="93.55" width="1.3" height="1.3" fill="#1a1aff"/>
<rect x="171.15" y="77.35" width="1.3" height="1.3" fill="#1a1aff"/>
<rect x="156.08" y="95.07" width="1.3" height="1.3" fill="#1a1aff"/>
<rect x="160.3" y="91.21" width="1.3" height="1.3" fill="#1a1aff"/>
<rect x="159.52" y="104.75" width="1.3" height="1.3" fill="#1a1aff"/>
<rect x="161.17" y="100.83" width="1.3" height="1.3" fill="#1a1aff"/>
<rect x="150.71" y="104.2" width="1.3" height="1.3" fill="#2a8cff"/>
<rect x="151.39" y="113.51" width="1.3" height="1.3" fill="#1a1aff"/>
<rect x="161.44" y="89.88" width="1.3" height="1.3" fill="#1a1aff"/>
<rect x="157.74" y="96.14" width="1.3" height="1.3" fill="#2a8cff"/>
<rect x="140.99" y="117.48" width="1.3" height="1.3" fill="#1a1aff"/>
<rect x="154.57" y="111.01" width="1.3" height="1.3" fill="#1a1aff"/>
<rect x="149.9" y="104.84" width="1.3" height="1.3" fill="#1a1aff"/>
<rect x="147.08" y="113.06" width="1.3" height="1.3" fill="#2a8cff"/>
<rect x="156.41" y="110.42" width="1.3" height="1.3" fill="#1a1aff"/>
<rect x="146.78" y="107.84" width="1.3" height="1.3" fill="#1a1aff"/>
<rect x="174.58" y="78.26" width="1.3" height="1.3" fill="#1a1aff"/>
<rect x="186.1" y="76.81" width="1.3" height="1.3" fill="#1a1aff"/>
<rect x="177.18" y="85.42" width="1.3" height="1.3" fill="#1a1aff"/>
<rect x="144.58" y="103.52" width="1.3" height="1.3" fill="#1a1aff"/>
<rect x="170" y="83.02" width="1.3" height="1.3" fill="#1a1aff"/>
<rect x="177.84" y="78.82" width="1.3" height="1.3" fill="#1a1aff"/>
<rect x="162.04" y="100.37" width="1.3" height="1.3" fill="#1a1aff"/>
<rect x="170.27" y="96.06" width="1.3" height="1.3" fill="#1a1aff"/>
<rect x="159.95" y="90.32" width="1.3" height="1.3" fill="#1a1aff"/>
<rect x="145.87" y="102.82" width="1.3" height="1.3" fill="#1a1aff"/>
<rect x="167.26" y="92.75" width="1.3" height="1.3" fill="#1a1aff"/>
<rect x="152.21" y="111.05" width="1.3" height="1.3" fill="#2a8cff"/>
<rect x="165.57" y="80.34" width="1.3" height="1.3" fill="#1a1aff"/>
<rect x="153.05" y="98.14" width="1.3" height="1.3" fill="#1a1aff"/>
<rect x="174.11" y="85.93" width="1.3" height="1.3" fill="#1a1aff"/>
<rect x="152.83" y="102.17" width="1.3" height="1.3" fill="#1a1aff"/>
<rect x="148.85" y="115.65" width="1.3" height="1.3" fill="#1a1aff"/>
<rect x="159.27" y="90.58" width="1.3" height="1.3" fill="#1a1aff"/>
<rect x="152.73" y="88.64" width="1.3" height="1.3" fill="#1a1aff"/>
<rect x="164.38" y="99.82" width="1.3" height="1.3" fill="#1a1aff"/>
<rect x="150.51" y="99.9" width="1.3" height="1.3" fill="#1a1aff"/>
<rect x="169.81" y="86.05" width="1.3" height="1.3" fill="#2a8cff"/>
<rect x="145.49" y="109.8" width="1.3" height="1.3" fill="#1a1aff"/>
<rect x="145.05" y="107.66" width="1.3" height="1.3" fill="#1a1aff"/>
<rect x="152.47" y="99.28" width="1.3" height="1.3" fill="#1a1aff"/>
<rect x="174.01" y="82.53" width="1.3" height="1.3" fill="#1a1aff"/>
<rect x="160.96" y="85.7" width="1.3" height="1.3" fill="#1a1aff"/>
<rect x="148.59" y="104.69" width="1.3" height="1.3" fill="#1a1aff"/>
<rect x="173.12" y="93.64" width="1.3" height="1.3" fill="#1a1aff"/>
<rect x="175.95" y="75.72" width="1.3" height="1.3" fill="#1a1aff"/>
<rect x="167.46" y="97.59" width="1.3" height="1.3" fill="#1a1aff"/>
<rect x="154.11" y="99.1" width="1.3" height="1.3" fill="#2a8cff"/>
<rect x="165.5" y="85.65" width="1.3" height="1.3" fill="#1a1aff"/>
<rect x="153.6" y="97.95" width="1.3" height="1.3" fill="#1a1aff"/>
<rect x="154.21" y="99.02" width="1.3" height="1.3" fill="#1a1aff"/>
<rect x="155.93" y="107.26" width="1.3" height="1.3" fill="#1a1aff"/>
<rect x="152.19" y="109.97" width="1.3" height="1.3" fill="#1a1aff"/>
<rect x="156" y="92.62" width="1.3" height="1.3" fill="#1a1aff"/>
<rect x="157.56" y="93.35" width="1.3" height="1.3" fill="#1a1aff"/>
<rect x="164.86" y="96.53" width="1.3" height="1.3" fill="#2a8cff"/>
<rect x="164.73" y="96.64" width="1.3" height="1.3" fill="#1a1aff"/>
<rect x="150.61" y="105.44" width="1.3" height="1.3" fill="#2a8cff"/>
<rect x="167.32" y="94.36" width="1.3" height="1.3" fill="#2a8cff"/>
<rect x="160.77" y="92.41" width="1.3" height="1.3" fill="#2a8cff"/>
<rect x="146.16" y="107.43" width="1.3" height="1.3" fill="#1a1aff"/>
<rect x="165.43" y="84.3" width="1.3" height="1.3" fill="#1a1aff"/>
<rect x="160.16" y="92.16" width="1.3" height="1.3" fill="#1a1aff"/>
<rect x="176.28" y="77.88" width="1.3" height="1.3" fill="#1a1aff"/>
<rect x="154.57" y="97.79" width="1.3" height="1.3" fill="#1a1aff"/>
<rect x="168.34" y="92.65" width="1.3" height="1.3" fill="#1a1aff"/>
<rect x="138.77" y="115.15" width="1.3" height="1.3" fill="#1a1aff"/>
<rect x="149.58" y="103.62" width="1.3" height="1.3" fill="#1a1aff"/>
<rect x="158.58" y="86.24" width="1.3" height="1.3" fill="#1a1aff"/>
<rect x="176.29" y="74.17" width="1.3" height="1.3" fill="#1a1aff"/>
<rect x="166.41" y="97.1" width="1.3" height="1.3" fill="#1a1aff"/>
<rect x="163.9" y="86.41" width="1.3" height="1.3" fill="#1a1aff"/>
<rect x="152.01" y="99.38" width="1.3" height="1.3" fill="#1a1aff"/>
<rect x="171.78" y="85.48" width="1.3" height="1.3" fill="#1a1aff"/>
<rect x="169.09" y="91.51" width="1.3" height="1.3" fill="#1a1aff"/>
<rect x="153.01" y="108.5" width="1.3" height="1.3" fill="#2a8cff"/>
<rect x="166.35" y="87.79" width="1.3" height="1.3" fill="#2a8cff"/>
<rect x="141.65" y="116.16" width="1.3" height="1.3" fill="#1a1aff"/>
<rect x="179.58" y="80.33" width="1.3" height="1.3" fill="#1a1aff"/>
<rect x="153.31" y="98.88" width="1.3" height="1.3" fill="#1a1aff"/>
<rect x="147.64" y="110.67" width="1.3" height="1.3" fill="#2a8cff"/>
<rect x="157.11" y="92.6" width="1.3" height="1.3" fill="#1a1aff"/>
<rect x="150.08" y="99.45" width="1.3" height="1.3" fill="#1a1aff"/>
<rect x="145.79" y="111.5" width="1.3" height="1.3" fill="#1a1aff"/>
<rect x="140.53" y="108.94" width="1.3" height="1.3" fill="#1a1aff"/>
<rect x="169.34" y="89.53" width="1.3" height="1.3" fill="#2a8cff"/>
<rect x="171.53" y="86.96" width="1.3" height="1.3" fill="#2a8cff"/>
<rect x="157.38" y="107.15" width="1.3" height="1.3" fill="#1a1aff"/>
<rect x="138.89" y="123.79" width="1.3" height="1.3" fill="#1a1aff"/>
<rect x="167.06" y="84.4" width="1.3" height="1.3" fill="#1a1aff"/>
<rect x="173.25" y="86.71" width="1.3" height="1.3" fill="#1a1aff"/>
<rect x="149.64" y="119.01" width="1.3" height="1.3" fill="#1a1aff"/>
<rect x="144.28" y="107.48" width="1.3" height="1.3" fill="#1a1aff"/>
<rect x="164.57" y="86.87" width="1.3" height="1.3" fill="#1a1aff"/>
<rect x="153.88" y="112.68" width="1.3" height="1.3" fill="#1a1aff"/>
<rect x="171.51" y="83.1" width="1.3" height="1.3" fill="#2a8cff"/>
<rect x="172.08" y="81.94" width="1.3" height="1.3" fill="#1a1aff"/>
<rect x="145.88" y="111.29" width="1.3" height="1.3" fill="#1a1aff"/>
<rect x="158.06" y="95.46" width="1.3" height="1.3" fill="#1a1aff"/>
<rect x="170.56" y="85.9" width="1.3" height="1.3" fill="#2a8cff"/>
<rect x="173.17" y="78.5" width="1.3" height="1.3" fill="#1a1aff"/>
<rect x="152.94" y="100.65" width="1.3" height="1.3" fill="#1a1aff"/>
<rect x="163.53" y="102.04" width="1.3" height="1.3" fill="#1a1aff"/>
<rect x="163.58" y="88.62" width="1.3" height="1.3" fill="#2a8cff"/>
<rect x="147.41" y="110.63" width="1.3" height="1.3" fill="#1a1aff"/>
<rect x="146.05" y="120.12" width="1.3" height="1.3" fill="#1a1aff"/>
<rect x="168.91" y="84.57" width="1.3" height="1.3" fill="#2a8cff"/>
<rect x="148.75" y="109.17" width="1.3" height="1.3" fill="#1a1aff"/>
<rect x="141.26" y="123.99" width="1.3" height="1.3" fill="#1a1aff"/>
<rect x="158.37" y="90.63" width="1.3" height="1.3" fill="#1a1aff"/>
<rect x="167.61" y="93.73" width="1.3" height="1.3" fill="#1a1aff"/>
<rect x="172.39" y="82.88" width="1.3" height="1.3" fill="#1a1aff"/>
<rect x="170.04" y="83.29" width="1.3" height="1.3" fill="#1a1aff"/>
<rect x="151.5" y="104.71" width="1.3" height="1.3" fill="#1a1aff"/>
<rect x="150.37" y="110.07" width="1.3" height="1.3" fill="#1a1aff"/>
<rect x="165.63" y="98.84" width="1.3" height="1.3" fill="#1a1aff"/>
<rect x="172.23" y="78.75" width="1.3" height="1.3" fill="#1a1aff"/>
<rect x="157.99" y="108.93" width="1.3" height="1.3" fill="#1a1aff"/>
<rect x="168.53" y="85.01" width="1.3" height="1.3" fill="#2a8cff"/>
<rect x="144.59" y="111.17" width="1.3" height="1.3" fill="#1a1aff"/>
<rect x="162.95" y="101.71" width="1.3" height="1.3" fill="#1a1aff"/>
<rect x="151.23" y="114.97" width="1.3" height="1.3" fill="#1a1aff"/>
<rect x="146.88" y="113.99" width="1.3" height="1.3" fill="#1a1aff"/>
<rect x="147.1" y="109.37" width="1.3" height="1.3" fill="#1a1aff"/>
<rect x="139.25" y="124.48" width="1.3" height="1.3" fill="#1a1aff"/>
<rect x="155.75" y="95.61" width="1.3" height="1.3" fill="#1a1aff"/>
<rect x="139.63" y="120.26" width="1.3" height="1.3" fill="#1a1aff"/>
<rect x="154.1" y="95.27" width="1.3" height="1.3" fill="#1a1aff"/>
<rect x="146.21" y="108.29" width="1.3" height="1.3" fill="#1a1aff"/>
<rect x="138.94" y="125.53" width="1.3" height="1.3" fill="#1a1aff"/>
<rect x="166.25" y="87.8" width="1.3" height="1.3" fill="#1a1aff"/>
<rect x="144.2" y="108.84" width="1.3" height="1.3" fill="#1a1aff"/>
<rect x="153.14" y="99.54" width="1.3" height="1.3" fill="#1a1aff"/>
<rect x="158.31" y="93.45" width="1.3" height="1.3" fill="#1a1aff"/>
<rect x="169.34" y="91.85" width="1.3" height="1.3" fill="#1a1aff"/>
<rect x="150.81" y="102.71" width="1.3" height="1.3" fill="#1a1aff"/>
<rect x="158.88" y="92.37" width="1.3" height="1.3" fill="#1a1aff"/>
<rect x="166.05" y="85.34" width="1.3" height="1.3" fill="#1a1aff"/>
<rect x="150.24" y="112.56" width="1.3" height="1.3" fill="#2a8cff"/>
<rect x="156.48" y="88.92" width="1.3" height="1.3" fill="#1a1aff"/>
<rect x="148.58" y="102.7" width="1.3" height="1.3" fill="#1a1aff"/>
<rect x="165.12" y="88.4" width="1.3" height="1.3" fill="#1a1aff"/>
<rect x="144.46" y="109.33" width="1.3" height="1.3" fill="#1a1aff"/>
<rect x="170.18" y="93.81" width="1.3" height="1.3" fill="#1a1aff"/>
<rect x="149.58" y="105.47" width="1.3" height="1.3" fill="#1a1aff"/>
<rect x="165.12" y="87.33" width="1.3" height="1.3" fill="#2a8cff"/>
<rect x="168.9" y="87.02" width="1.3" height="1.3" fill="#2a8cff"/>
<rect x="156.35" y="106.34" width="1.3" height="1.3" fill="#1a1aff"/>
<rect x="172.39" y="72.69" width="1.3" height="1.3" fill="#1a1aff"/>
<rect x="164.33" y="85.57" width="1.3" height="1.3" fill="#1a1aff"/>
<rect x="157.89" y="108.86" width="1.3" height="1.3" fill="#1a1aff"/>
<rect x="143.8" y="111.95" width="1.3" height="1.3" fill="#1a1aff"/>
<rect x="146.95" y="111.77" width="1.3" height="1.3" fill="#1a1aff"/>
<rect x="164.54" y="101.78" width="1.3" height="1.3" fill="#1a1aff"/>
<rect x="164.16" y="101.64" width="1.3" height="1.3" fill="#1a1aff"/>
<rect x="155.32" y="98.02" width="1.3" height="1.3" fill="#1a1aff"/>
<rect x="151.81" y="104.01" width="1.3" height="1.3" fill="#2a8cff"/>
<rect x="163.08" y="87.05" width="1.3" height="1.3" fill="#1a1aff"/>
<rect x="151.94" y="109.52" width="1.3" height="1.3" fill="#2a8cff"/>
<rect x="166.72" y="96.62" width="1.3" height="1.3" fill="#1a1aff"/>
<rect x="170.84" y="78.57" width="1.3" height="1.3" fill="#1a1aff"/>
<rect x="143.61" y="109.35" width="1.3" height="1.3" fill="#1a1aff"/>
<rect x="173.79" y="84.85" width="1.3" height="1.3" fill="#1a1aff"/>
<rect x="148.47" y="116.63" width="1.3" height="1.3" fill="#1a1aff"/>
<rect x="176.46" y="77.51" width="1.3" height="1.3" fill="#1a1aff"/>
<rect x="157.91" y="105.73" width="1.3" height="1.3" fill="#1a1aff"/>
<rect x="159.05" y="86.68" width="1.3" height="1.3" fill="#1a1aff"/>
<rect x="139.23" y="125.19" width="1.3" height="1.3" fill="#1a1aff"/>
<rect x="158.97" y="91.21" width="1.3" height="1.3" fill="#1a1aff"/>
<rect x="158.35" y="93.97" width="1.3" height="1.3" fill="#1a1aff"/>
<rect x="177.32" y="77.75" width="1.3" height="1.3" fill="#1a1aff"/>
<rect x="163.45" y="97.9" width="1.3" height="1.3" fill="#2a8cff"/>
<rect x="169.08" y="90.85" width="1.3" height="1.3" fill="#2a8cff"/>
<rect x="157.84" y="95.79" width="1.3" height="1.3" fill="#1a1aff"/>
<rect x="163.78" y="99.59" width="1.3" height="1.3" fill="#1a1aff"/>
<rect x="144.25" y="107.56" width="1.3" height="1.3" fill="#1a1aff"/>
<rect x="143.75" y="107.13" width="1.3" height="1.3" fill="#1a1aff"/>
<rect x="174.49" y="89.6" width="1.3" height="1.3" fill="#1a1aff"/>
<rect x="173.16" y="86.56" width="1.3" height="1.3" fill="#1a1aff"/>
<rect x="138.61" y="121.51" width="1.3" height="1.3" fill="#1a1aff"/>
<rect x="178.42" y="72.26" width="1.3" height="1.3" fill="#1a1aff"/>
<rect x="150.58" y="104.19" width="1.3" height="1.3" fill="#2a8cff"/>
<rect x="170.74" y="81.16" width="1.3" height="1.3" fill="#1a1aff"/>
<rect x="165.32" y="96.75" width="1.3" height="1.3" fill="#2a8cff"/>
<rect x="146.09" y="106.13" width="1.3" height="1.3" fill="#1a1aff"/>
<rect x="164.15" y="84.27" width="1.3" height="1.3" fill="#1a1aff"/>
<rect x="171.04" y="90.18" width="1.3" height="1.3" fill="#1a1aff"/>
<rect x="170.81" y="82.5" width="1.3" height="1.3" fill="#2a8cff"/>
<rect x="171.05" y="86.27" width="1.3" height="1.3" fill="#2a8cff"/>
<rect x="161.02" y="84.38" width="1.3" height="1.3" fill="#1a1aff"/>
<rect x="152.57" y="113.92" width="1.3" height="1.3" fill="#1a1aff"/>
<rect x="139.73" y="115.87" width="1.3" height="1.3" fill="#1a1aff"/>
<rect x="167.04" y="84.89" width="1.3" height="1.3" fill="#1a1aff"/>
<rect x="157.52" y="95.36" width="1.3" height="1.3" fill="#1a1aff"/>
<rect x="164.68" y="96.35" width="1.3" height="1.3" fill="#2a8cff"/>
<rect x="149.73" y="112.97" width="1.3" height="1.3" fill="#2a8cff"/>
<rect x="160.12" y="91.87" width="1.3" height="1.3" fill="#2a8cff"/>
<rect x="167.81" y="83.4" width="1.3" height="1.3" fill="#1a1aff"/>
<rect x="169.46" y="82.88" width="1.3" height="1.3" fill="#1a1aff"/>
<rect x="172.17" y="84.15" width="1.3" height="1.3" fill="#2a8cff"/>
<rect x="153.82" y="107.82" width="1.3" height="1.3" fill="#1a1aff"/>
<rect x="157" y="96" width="1.3" height="1.3" fill="#1a1aff"/>
<rect x="160.52" y="102.7" width="1.3" height="1.3" fill="#2a8cff"/>
<rect x="161.53" y="86.84" width="1.3" height="1.3" fill="#1a1aff"/>
<rect x="167.63" y="94.69" width="1.3" height="1.3" fill="#1a1aff"/>
<rect x="145.48" y="107.62" width="1.3" height="1.3" fill="#1a1aff"/>
<rect x="150.47" y="106.62" width="1.3" height="1.3" fill="#1a1aff"/>
<rect x="143.32" y="112.67" width="1.3" height="1.3" fill="#1a1aff"/>
<rect x="161.22" y="102.04" width="1.3" height="1.3" fill="#2a8cff"/>
<rect x="177.78" y="86.13" width="1.3" height="1.3" fill="#1a1aff"/>
<rect x="171.11" y="78.79" width="1.3" height="1.3" fill="#1a1aff"/>
<rect x="148.62" y="113.97" width="1.3" height="1.3" fill="#2a8cff"/>
<rect x="159.64" y="93.67" width="1.3" height="1.3" fill="#2a8cff"/>
<rect x="173.85" y="79.99" width="1.3" height="1.3" fill="#1a1aff"/>
<rect x="162.79" y="99.78" width="1.3" height="1.3" fill="#2a8cff"/>
<rect x="159.05" y="93.07" width="1.3" height="1.3" fill="#2a8cff"/>
<rect x="151.31" y="109.97" width="1.3" height="1.3" fill="#1a1aff"/>
<rect x="162.52" y="85.38" width="1.3" height="1.3" fill="#1a1aff"/>
<rect x="158.66" y="93.58" width="1.3" height="1.3" fill="#2a8cff"/>
<rect x="147.37" y="108.26" width="1.3" height="1.3" fill="#1a1aff"/>
<rect x="150.43" y="105.56" width="1.3" height="1.3" fill="#2a8cff"/>
<rect x="172.07" y="76.86" width="1.3" height="1.3" fill="#1a1aff"/>
<rect x="160.97" y="89.61" width="1.3" height="1.3" fill="#1a1aff"/>
<rect x="146.91" y="113.47" width="1.3" height="1.3" fill="#1a1aff"/>
<rect x="159.82" y="88.22" width="1.3" height="1.3" fill="#1a1aff"/>
<rect x="167.25" y="87.13" width="1.3" height="1.3" fill="#2a8cff"/>
<rect x="175.24" y="76.15" width="1.3" height="1.3" fill="#1a1aff"/>
<rect x="139.78" y="119.92" width="1.3" height="1.3" fill="#1a1aff"/>
<rect x="158.83" y="94.94" width="1.3" height="1.3" fill="#2a8cff"/>
<rect x="143.8" y="114.81" width="1.3" height="1.3" fill="#1a1aff"/>
<rect x="153.97" y="100.01" width="1.3" height="1.3" fill="#2a8cff"/>
<rect x="138.97" y="116.9" width="1.3" height="1.3" fill="#1a1aff"/>
<rect x="150.62" y="106.19" width="1.3" height="1.3" fill="#2a8cff"/>
<rect x="172.25" y="81.63" width="1.3" height="1.3" fill="#1a1aff"/>
<rect x="157.44" y="87.92" width="1.3" height="1.3" fill="#1a1aff"/>
<rect x="167.32" y="84.75" width="1.3" height="1.3" fill="#2a8cff"/>
<rect x="160.06" y="90.41" width="1.3" height="1.3" fill="#1a1aff"/>
<rect x="150.04" y="104.37" width="1.3" height="1.3" fill="#1a1aff"/>
<rect x="157.75" y="95.46" width="1.3" height="1.3" fill="#2a8cff"/>
<rect x="169.35" y="83.1" width="1.3" height="1.3" fill="#1a1aff"/>
<rect x="167.15" y="86.88" width="1.3" height="1.3" fill="#1a1aff"/>
<rect x="145.21" y="103.72" width="1.3" height="1.3" fill="#1a1aff"/>
<rect x="151.41" y="112.3" width="1.3" height="1.3" fill="#1a1aff"/>
<rect x="170.39" y="90.46" width="1.3" height="1.3" fill="#1a1aff"/>
<rect x="158.55" y="105.96" width="1.3" height="1.3" fill="#1a1aff"/>
<rect x="169.73" y="93.55" width="1.3" height="1.3" fill="#1a1aff"/>
<rect x="146.55" y="117.56" width="1.3" height="1.3" fill="#1a1aff"/>
<rect x="168.83" y="84.37" width="1.3" height="1.3" fill="#2a8cff"/>
<rect x="170.21" y="82.99" width="1.3" height="1.3" fill="#2a8cff"/>
<rect x="155.75" y="95.09" width="1.3" height="1.3" fill="#1a1aff"/>
<rect x="173.76" y="75.53" width="1.3" height="1.3" fill="#1a1aff"/>
<rect x="147.16" y="106.83" width="1.3" height="1.3" fill="#1a1aff"/>
<rect x="166.41" y="97.34" width="1.3" height="1.3" fill="#1a1aff"/>
<rect x="163.01" y="84.93" width="1.3" height="1.3" fill="#1a1aff"/>
<rect x="170.22" y="85.05" width="1.3" height="1.3" fill="#1a1aff"/>
<rect x="172.62" y="76.22" width="1.3" height="1.3" fill="#1a1aff"/>
<rect x="170.94" y="88.47" width="1.3" height="1.3" fill="#1a1aff"/>
<rect x="148.75" y="102.58" width="1.3" height="1.3" fill="#1a1aff"/>
<rect x="168.61" y="78.18" width="1.3" height="1.3" fill="#1a1aff"/>
<rect x="152.7" y="98.23" width="1.3" height="1.3" fill="#1a1aff"/>
<rect x="165.08" y="98.45" width="1.3" height="1.3" fill="#1a1aff"/>
<rect x="154.5" y="99.79" width="1.3" height="1.3" fill="#1a1aff"/>
<rect x="168.38" y="84.36" width="1.3" height="1.3" fill="#2a8cff"/>
<rect x="152.26" y="102" width="1.3" height="1.3" fill="#1a1aff"/>
<rect x="146.7" y="101.55" width="1.3" height="1.3" fill="#1a1aff"/>
<rect x="157.87" y="94.8" width="1.3" height="1.3" fill="#1a1aff"/>
<rect x="168.28" y="90.52" width="1.3" height="1.3" fill="#1a1aff"/>
<rect x="159.82" y="90.04" width="1.3" height="1.3" fill="#1a1aff"/>
<rect x="152.35" y="101.68" width="1.3" height="1.3" fill="#2a8cff"/>
<rect x="154.9" y="88.37" width="1.3" height="1.3" fill="#1a1aff"/>
<rect x="146.44" y="113.83" width="1.3" height="1.3" fill="#1a1aff"/>
<rect x="150.41" y="104.51" width="1.3" height="1.3" fill="#1a1aff"/>
<rect x="169.29" y="83.53" width="1.3" height="1.3" fill="#1a1aff"/>
<rect x="145.27" y="112.14" width="1.3" height="1.3" fill="#1a1aff"/>
<rect x="163.49" y="100.02" width="1.3" height="1.3" fill="#1a1aff"/>
<rect x="167.12" y="92.5" width="1.3" height="1.3" fill="#1a1aff"/>
<rect x="148.63" y="105.95" width="1.3" height="1.3" fill="#1a1aff"/>
<rect x="152.27" y="111.35" width="1.3" height="1.3" fill="#2a8cff"/>
<rect x="168.66" y="91.75" width="1.3" height="1.3" fill="#1a1aff"/>
<rect x="177.63" y="75.5" width="1.3" height="1.3" fill="#1a1aff"/>
<rect x="158.88" y="107.24" width="1.3" height="1.3" fill="#1a1aff"/>
<rect x="170.04" y="80.75" width="1.3" height="1.3" fill="#1a1aff"/>
<rect x="167.92" y="97.25" width="1.3" height="1.3" fill="#1a1aff"/>
<rect x="169.17" y="90.11" width="1.3" height="1.3" fill="#1a1aff"/>
<rect x="146.07" y="108.63" width="1.3" height="1.3" fill="#1a1aff"/>
<rect x="170.6" y="80.75" width="1.3" height="1.3" fill="#1a1aff"/>
<rect x="156.44" y="97.17" width="1.3" height="1.3" fill="#2a8cff"/>
<rect x="171.51" y="75.97" width="1.3" height="1.3" fill="#1a1aff"/>
<rect x="152.74" y="98.43" width="1.3" height="1.3" fill="#1a1aff"/>
<rect x="155.67" y="91.5" width="1.3" height="1.3" fill="#1a1aff"/>
<rect x="156.94" y="95.32" width="1.3" height="1.3" fill="#1a1aff"/>
<rect x="146.93" y="113.59" width="1.3" height="1.3" fill="#2a8cff"/>
<rect x="141.36" y="113.06" width="1.3" height="1.3" fill="#1a1aff"/>
<rect x="173.11" y="78.8" width="1.3" height="1.3" fill="#1a1aff"/>
<rect x="162.46" y="90.64" width="1.3" height="1.3" fill="#2a8cff"/>
<rect x="153.78" y="92.6" width="1.3" height="1.3" fill="#1a1aff"/>
<rect x="146.04" y="118.06" width="1.3" height="1.3" fill="#1a1aff"/>
<rect x="167.71" y="73.06" width="1.3" height="1.3" fill="#1a1aff"/>
<rect x="160.41" y="103.63" width="1.3" height="1.3" fill="#1a1aff"/>
<rect x="162.32" y="89.72" width="1.3" height="1.3" fill="#2a8cff"/>
<rect x="152.04" y="103.79" width="1.3" height="1.3" fill="#1a1aff"/>
<rect x="161.84" y="89.44" width="1.3" height="1.3" fill="#1a1aff"/>
<rect x="146.07" y="113.69" width="1.3" height="1.3" fill="#1a1aff"/>
<rect x="156.25" y="110.16" width="1.3" height="1.3" fill="#1a1aff"/>
<rect x="150.2" y="109.57" width="1.3" height="1.3" fill="#2a8cff"/>
<rect x="152.35" y="97.29" width="1.3" height="1.3" fill="#1a1aff"/>
<rect x="148.47" y="99.07" width="1.3" height="1.3" fill="#1a1aff"/>
<rect x="158.94" y="92.3" width="1.3" height="1.3" fill="#1a1aff"/>
<rect x="143.3" y="107.5" width="1.3" height="1.3" fill="#1a1aff"/>
<rect x="171.7" y="85.26" width="1.3" height="1.3" fill="#2a8cff"/>
<rect x="149.18" y="108.3" width="1.3" height="1.3" fill="#1a1aff"/>
<rect x="152.62" y="93.55" width="1.3" height="1.3" fill="#1a1aff"/>
<rect x="172.45" y="80.75" width="1.3" height="1.3" fill="#1a1aff"/>
<rect x="166.67" y="81.27" width="1.3" height="1.3" fill="#1a1aff"/>
<rect x="168.76" y="93.32" width="1.3" height="1.3" fill="#1a1aff"/>
<rect x="164.84" y="83.76" width="1.3" height="1.3" fill="#1a1aff"/>
<rect x="160.34" y="104.55" width="1.3" height="1.3" fill="#1a1aff"/>
<rect x="153.11" y="108.4" width="1.3" height="1.3" fill="#1a1aff"/>
<rect x="152.67" y="96.77" width="1.3" height="1.3" fill="#1a1aff"/>
<rect x="169.48" y="91.13" width="1.3" height="1.3" fill="#2a8cff"/>
<rect x="161.6" y="83.44" width="1.3" height="1.3" fill="#1a1aff"/>
<rect x="162.65" y="102.74" width="1.3" height="1.3" fill="#1a1aff"/>
<rect x="165.5" y="95.82" width="1.3" height="1.3" fill="#2a8cff"/>
<rect x="149.73" y="111.51" width="1.3" height="1.3" fill="#2a8cff"/>
<rect x="161.19" y="82.99" width="1.3" height="1.3" fill="#1a1aff"/>
<rect x="163.61" y="98.35" width="1.3" height="1.3" fill="#1a1aff"/>
<rect x="147.9" y="109.83" width="1.3" height="1.3" fill="#1a1aff"/>
<rect x="177.19" y="72.42" width="1.3" height="1.3" fill="#1a1aff"/>
<rect x="145.27" y="112.51" width="1.3" height="1.3" fill="#1a1aff"/>
<rect x="141.6" y="116.35" width="1.3" height="1.3" fill="#1a1aff"/>
<rect x="159.44" y="94.05" width="1.3" height="1.3" fill="#2a8cff"/>
<rect x="167.28" y="94.59" width="1.3" height="1.3" fill="#1a1aff"/>
<rect x="167.76" y="92.69" width="1.3" height="1.3" fill="#2a8cff"/>
<rect x="154.85" y="110.97" width="1.3" height="1.3" fill="#1a1aff"/>
<rect x="146.82" y="107.16" width="1.3" height="1.3" fill="#1a1aff"/>
<rect x="150.29" y="103.9" width="1.3" height="1.3" fill="#1a1aff"/>
<rect x="169.34" y="84.13" width="1.3" height="1.3" fill="#1a1aff"/>
<rect x="162.03" y="101.41" width="1.3" height="1.3" fill="#1a1aff"/>
<rect x="170.19" y="81.85" width="1.3" height="1.3" fill="#1a1aff"/>
<rect x="174.88" y="82.06" width="1.3" height="1.3" fill="#1a1aff"/>
<rect x="164.7" y="98.11" width="1.3" height="1.3" fill="#1a1aff"/>
<rect x="156.62" y="94.01" width="1.3" height="1.3" fill="#1a1aff"/>
<rect x="145" y="108.91" width="1.3" height="1.3" fill="#1a1aff"/>
<rect x="149.27" y="105.94" width="1.3" height="1.3" fill="#2a8cff"/>
<rect x="156.75" y="106.45" width="1.3" height="1.3" fill="#1a1aff"/>
<rect x="158.97" y="92.85" width="1.3" height="1.3" fill="#1a1aff"/>
<rect x="151.89" y="97.74" width="1.3" height="1.3" fill="#1a1aff"/>
<rect x="144.53" y="116.94" width="1.3" height="1.3" fill="#1a1aff"/>
<rect x="162.99" y="85.24" width="1.3" height="1.3" fill="#1a1aff"/>
<rect x="150.74" y="94.87" width="1.3" height="1.3" fill="#1a1aff"/>
<rect x="141.34" y="111.24" width="1.3" height="1.3" fill="#1a1aff"/>
<rect x="160.07" y="105.56" width="1.3" height="1.3" fill="#1a1aff"/>
<rect x="153.12" y="101.48" width="1.3" height="1.3" fill="#2a8cff"/>
<rect x="163.17" y="89.39" width="1.3" height="1.3" fill="#2a8cff"/>
<rect x="164.07" y="89.09" width="1.3" height="1.3" fill="#2a8cff"/>
<rect x="170.98" y="88.69" width="1.3" height="1.3" fill="#1a1aff"/>
<rect x="158.32" y="111.04" width="1.3" height="1.3" fill="#1a1aff"/>
<rect x="159.39" y="93.24" width="1.3" height="1.3" fill="#2a8cff"/>
<rect x="147.61" y="111.58" width="1.3" height="1.3" fill="#1a1aff"/>
<rect x="157.19" y="95.4" width="1.3" height="1.3" fill="#2a8cff"/>
<rect x="147.4" y="108.66" width="1.3" height="1.3" fill="#2a8cff"/>
<rect x="147.1" y="108.01" width="1.3" height="1.3" fill="#1a1aff"/>
<rect x="141.7" y="129.23" width="1.3" height="1.3" fill="#1a1aff"/>
<rect x="149.65" y="114.63" width="1.3" height="1.3" fill="#1a1aff"/>
<rect x="151.78" y="109.36" width="1.3" height="1.3" fill="#2a8cff"/>
<rect x="160.41" y="92.24" width="1.3" height="1.3" fill="#2a8cff"/>
<rect x="169.56" y="79.83" width="1.3" height="1.3" fill="#1a1aff"/>
<rect x="168.85" y="86.65" width="1.3" height="1.3" fill="#1a1aff"/>
<rect x="145.56" y="111.98" width="1.3" height="1.3" fill="#1a1aff"/>
<rect x="159.86" y="92.77" width="1.3" height="1.3" fill="#2a8cff"/>
<rect x="174.85" y="80.37" width="1.3" height="1.3" fill="#1a1aff"/>
<rect x="170.11" y="82.84" width="1.3" height="1.3" fill="#1a1aff"/>
<rect x="157.15" y="94.23" width="1.3" height="1.3" fill="#1a1aff"/>
<rect x="162.6" y="101.56" width="1.3" height="1.3" fill="#1a1aff"/>
<rect x="158.78" y="93.7" width="1.3" height="1.3" fill="#2a8cff"/>
<rect x="162.24" y="104.9" width="1.3" height="1.3" fill="#1a1aff"/>
<rect x="168.9" y="94.76" width="1.3" height="1.3" fill="#1a1aff"/>
<rect x="143.16" y="112.43" width="1.3" height="1.3" fill="#1a1aff"/>
<rect x="146.84" y="101.02" width="1.3" height="1.3" fill="#1a1aff"/>
<rect x="162.32" y="109.46" width="1.3" height="1.3" fill="#1a1aff"/>
<rect x="170.1" y="82.51" width="1.3" height="1.3" fill="#1a1aff"/>
<rect x="167.65" y="92.67" width="1.3" height="1.3" fill="#2a8cff"/>
<rect x="159.36" y="91.97" width="1.3" height="1.3" fill="#1a1aff"/>
<rect x="149.16" y="99.41" width="1.3" height="1.3" fill="#1a1aff"/>
<rect x="164.74" y="87.72" width="1.3" height="1.3" fill="#1a1aff"/>
<rect x="165.6" y="101.43" width="1.3" height="1.3" fill="#1a1aff"/>
<rect x="146.29" y="102.52" width="1.3" height="1.3" fill="#1a1aff"/>
<rect x="167.23" y="83.93" width="1.3" height="1.3" fill="#1a1aff"/>
<rect x="174.04" y="93.16" width="1.3" height="1.3" fill="#1a1aff"/>
<rect x="153.92" y="112.12" width="1.3" height="1.3" fill="#1a1aff"/>
<rect x="147.68" y="111.03" width="1.3" height="1.3" fill="#2a8cff"/>
<rect x="154.67" y="110.75" width="1.3" height="1.3" fill="#1a1aff"/>
<rect x="160.59" y="92.48" width="1.3" height="1.3" fill="#1a1aff"/>
<rect x="158.17" y="104.69" width="1.3" height="1.3" fill="#1a1aff"/>
<rect x="146.67" y="113.28" width="1.3" height="1.3" fill="#2a8cff"/>
<rect x="157.07" y="94.83" width="1.3" height="1.3" fill="#1a1aff"/>
<rect x="166.16" y="86.79" width="1.3" height="1.3" fill="#2a8cff"/>
<rect x="164.3" y="86.08" width="1.3" height="1.3" fill="#1a1aff"/>
<rect x="146.81" y="105.51" width="1.3" height="1.3" fill="#1a1aff"/>
<rect x="156.5" y="92.05" width="1.3" height="1.3" fill="#1a1aff"/>
<rect x="150.92" y="101.01" width="1.3" height="1.3" fill="#1a1aff"/>
<rect x="166.22" y="77.56" width="1.3" height="1.3" fill="#1a1aff"/>
<rect x="148.89" y="106.65" width="1.3" height="1.3" fill="#1a1aff"/>
<rect x="142" y="115.24" width="1.3" height="1.3" fill="#1a1aff"/>
<rect x="147.42" y="102.69" width="1.3" height="1.3" fill="#1a1aff"/>
<rect x="157.56" y="106.37" width="1.3" height="1.3" fill="#1a1aff"/>
<rect x="162.96" y="100.18" width="1.3" height="1.3" fill="#2a8cff"/>
<rect x="169.34" y="85.9" width="1.3" height="1.3" fill="#2a8cff"/>
<rect x="149.65" y="96.52" width="1.3" height="1.3" fill="#1a1aff"/>
<rect x="141.33" y="119.69" width="1.3" height="1.3" fill="#1a1aff"/>
<rect x="150" y="106.62" width="1.3" height="1.3" fill="#1a1aff"/>
<rect x="151.34" y="111.33" width="1.3" height="1.3" fill="#2a8cff"/>
<rect x="153.48" y="93" width="1.3" height="1.3" fill="#1a1aff"/>
<rect x="156.49" y="107.19" width="1.3" height="1.3" fill="#2a8cff"/>
<rect x="146.26" y="106.56" width="1.3" height="1.3" fill="#1a1aff"/>
<rect x="148.41" y="107.04" width="1.3" height="1.3" fill="#2a8cff"/>
<rect x="157.91" y="95.58" width="1.3" height="1.3" fill="#2a8cff"/>
<rect x="167.45" y="95.12" width="1.3" height="1.3" fill="#1a1aff"/>
<rect x="154.69" y="99.17" width="1.3" height="1.3" fill="#2a8cff"/>
<rect x="153.67" y="107.91" width="1.3" height="1.3" fill="#1a1aff"/>
<rect x="148.99" y="99.61" width="1.3" height="1.3" fill="#1a1aff"/>
<rect x="152.82" y="102.06" width="1.3" height="1.3" fill="#1a1aff"/>
<rect x="168.25" y="92" width="1.3" height="1.3" fill="#1a1aff"/>
<rect x="152.35" y="112.2" width="1.3" height="1.3" fill="#1a1aff"/>
<rect x="165.3" y="98.46" width="1.3" height="1.3" fill="#1a1aff"/>
<rect x="168.67" y="94.56" width="1.3" height="1.3" fill="#1a1aff"/>
<rect x="147.39" y="111.23" width="1.3" height="1.3" fill="#1a1aff"/>
<rect x="150.22" y="106.63" width="1.3" height="1.3" fill="#1a1aff"/>
<rect x="164.16" y="101.93" width="1.3" height="1.3" fill="#1a1aff"/>
<rect x="161.58" y="100.25" width="1.3" height="1.3" fill="#1a1aff"/>
<rect x="146.14" y="112.89" width="1.3" height="1.3" fill="#2a8cff"/>
<rect x="180.29" y="72.17" width="1.3" height="1.3" fill="#1a1aff"/>
<rect x="153.53" y="116.62" width="1.3" height="1.3" fill="#1a1aff"/>
<rect x="144.65" y="113.08" width="1.3" height="1.3" fill="#1a1aff"/>
<rect x="151.65" y="109.91" width="1.3" height="1.3" fill="#1a1aff"/>
<rect x="150.3" y="114.15" width="1.3" height="1.3" fill="#1a1aff"/>
<rect x="146.18" y="114.72" width="1.3" height="1.3" fill="#2a8cff"/>
<rect x="157.45" y="91.4" width="1.3" height="1.3" fill="#1a1aff"/>
<rect x="171.81" y="81.01" width="1.3" height="1.3" fill="#1a1aff"/>
<rect x="148.67" y="116.48" width="1.3" height="1.3" fill="#1a1aff"/>
<rect x="147.03" y="106.94" width="1.3" height="1.3" fill="#1a1aff"/>
<rect x="143.73" y="110.59" width="1.3" height="1.3" fill="#1a1aff"/>
<rect x="152.93" y="98.81" width="1.3" height="1.3" fill="#1a1aff"/>
<rect x="157.66" y="93.48" width="1.3" height="1.3" fill="#1a1aff"/>
<rect x="151.14" y="94.55" width="1.3" height="1.3" fill="#1a1aff"/>
<rect x="159.03" y="94.41" width="1.3" height="1.3" fill="#2a8cff"/>
<rect x="150.98" y="113.82" width="1.3" height="1.3" fill="#1a1aff"/>
<rect x="171.01" y="90.99" width="1.3" height="1.3" fill="#1a1aff"/>
<rect x="173.09" y="83.15" width="1.3" height="1.3" fill="#2a8cff"/>
<rect x="155.52" y="94.83" width="1.3" height="1.3" fill="#1a1aff"/>
<rect x="154.94" y="98.34" width="1.3" height="1.3" fill="#2a8cff"/>
<rect x="163.38" y="100.89" width="1.3" height="1.3" fill="#1a1aff"/>
<rect x="149.73" y="111.25" width="1.3" height="1.3" fill="#1a1aff"/>
<rect x="149.62" y="113.67" width="1.3" height="1.3" fill="#1a1aff"/>
<rect x="159.23" y="93.56" width="1.3" height="1.3" fill="#1a1aff"/>
<rect x="155.02" y="107.48" width="1.3" height="1.3" fill="#1a1aff"/>
<rect x="143.64" y="110.63" width="1.3" height="1.3" fill="#1a1aff"/>
<rect x="149.11" y="105" width="1.3" height="1.3" fill="#1a1aff"/>
<rect x="163.92" y="101.69" width="1.3" height="1.3" fill="#1a1aff"/>
<rect x="169.61" y="83.09" width="1.3" height="1.3" fill="#2a8cff"/>
<rect x="143.91" y="116.86" width="1.3" height="1.3" fill="#1a1aff"/>
<rect x="157.32" y="105.08" width="1.3" height="1.3" fill="#1a1aff"/>
<rect x="151.39" y="103.51" width="1.3" height="1.3" fill="#1a1aff"/>
<rect x="170.46" y="78.86" width="1.3" height="1.3" fill="#1a1aff"/>
<rect x="174.82" y="80.21" width="1.3" height="1.3" fill="#1a1aff"/>
<rect x="174.21" y="82.32" width="1.3" height="1.3" fill="#1a1aff"/>
<rect x="169.64" y="97.02" width="1.3" height="1.3" fill="#1a1aff"/>
<rect x="153.77" y="109.96" width="1.3" height="1.3" fill="#2a8cff"/>
<rect x="154.42" y="109.74" width="1.3" height="1.3" fill="#1a1aff"/>
<rect x="176.38" y="77.33" width="1.3" height="1.3" fill="#1a1aff"/>
<rect x="168.71" y="89.38" width="1.3" height="1.3" fill="#2a8cff"/>
<rect x="164.47" y="86.11" width="1.3" height="1.3" fill="#1a1aff"/>
<rect x="156.69" y="96.19" width="1.3" height="1.3" fill="#2a8cff"/>
<rect x="151.8" y="97.66" width="1.3" height="1.3" fill="#1a1aff"/>
<rect x="157.45" y="95.88" width="1.3" height="1.3" fill="#1a1aff"/>
<rect x="166.5" y="86.71" width="1.3" height="1.3" fill="#1a1aff"/>
<rect x="178.51" y="80.44" width="1.3" height="1.3" fill="#1a1aff"/>
<rect x="157.52" y="110.52" width="1.3" height="1.3" fill="#1a1aff"/>
<rect x="147.15" y="111.1" width="1.3" height="1.3" fill="#2a8cff"/>
<rect x="149.13" y="102.22" width="1.3" height="1.3" fill="#1a1aff"/>
<rect x="152.44" y="112.62" width="1.3" height="1.3" fill="#1a1aff"/>
<rect x="150.07" y="105.58" width="1.3" height="1.3" fill="#1a1aff"/>
<rect x="142.13" y="116.74" width="1.3" height="1.3" fill="#1a1aff"/>
<rect x="143.93" y="123.17" width="1.3" height="1.3" fill="#1a1aff"/>
<rect x="161.31" y="101.37" width="1.3" height="1.3" fill="#1a1aff"/>
<rect x="173.98" y="83.87" width="1.3" height="1.3" fill="#1a1aff"/>
<rect x="144.67" y="105.87" width="1.3" height="1.3" fill="#1a1aff"/>
<rect x="142.09" y="106.67" width="1.3" height="1.3" fill="#1a1aff"/>
<rect x="151.24" y="105.28" width="1.3" height="1.3" fill="#2a8cff"/>
<rect x="140.74" y="117.77" width="1.3" height="1.3" fill="#1a1aff"/>
<rect x="159.98" y="89.28" width="1.3" height="1.3" fill="#1a1aff"/>
<rect x="149.75" y="110.59" width="1.3" height="1.3" fill="#1a1aff"/>
<rect x="174.88" y="79.79" width="1.3" height="1.3" fill="#1a1aff"/>
<rect x="143.59" y="113.29" width="1.3" height="1.3" fill="#1a1aff"/>
<rect x="171.78" y="80.33" width="1.3" height="1.3" fill="#1a1aff"/>
<rect x="154.17" y="95.34" width="1.3" height="1.3" fill="#1a1aff"/>
<rect x="142.97" y="115.19" width="1.3" height="1.3" fill="#1a1aff"/>
<rect x="157.56" y="94.67" width="1.3" height="1.3" fill="#1a1aff"/>
<rect x="158.54" y="95.13" width="1.3" height="1.3" fill="#2a8cff"/>
<rect x="137.98" y="120.09" width="1.3" height="1.3" fill="#1a1aff"/>
<rect x="167.65" y="98.82" width="1.3" height="1.3" fill="#1a1aff"/>
<rect x="144.83" y="115.37" width="1.3" height="1.3" fill="#1a1aff"/>
<rect x="161.98" y="101.55" width="1.3" height="1.3" fill="#1a1aff"/>
<rect x="164.85" y="86.08" width="1.3" height="1.3" fill="#1a1aff"/>
<rect x="149.58" y="108.05" width="1.3" height="1.3" fill="#2a8cff"/>
<rect x="144.6" y="114.69" width="1.3" height="1.3" fill="#1a1aff"/>
<rect x="161.83" y="90.37" width="1.3" height="1.3" fill="#2a8cff"/>
<rect x="152.41" y="100.85" width="1.3" height="1.3" fill="#1a1aff"/>
<rect x="150.66" y="111.84" width="1.3" height="1.3" fill="#1a1aff"/>
<rect x="148.73" y="109.46" width="1.3" height="1.3" fill="#1a1aff"/>
<rect x="156.53" y="94.42" width="1.3" height="1.3" fill="#1a1aff"/>
<rect x="151.07" y="100.37" width="1.3" height="1.3" fill="#1a1aff"/>
<rect x="165" y="88.86" width="1.3" height="1.3" fill="#2a8cff"/>
<rect x="146.17" y="116.27" width="1.3" height="1.3" fill="#1a1aff"/>
<rect x="158.66" y="107.54" width="1.3" height="1.3" fill="#1a1aff"/>
<rect x="146.67" y="110.22" width="1.3" height="1.3" fill="#2a8cff"/>
<rect x="168.58" y="86.06" width="1.3" height="1.3" fill="#2a8cff"/>
<rect x="153.32" y="98.69" width="1.3" height="1.3" fill="#1a1aff"/>
<rect x="150.88" y="105.83" width="1.3" height="1.3" fill="#1a1aff"/>
<rect x="170.91" y="92.64" width="1.3" height="1.3" fill="#1a1aff"/>
<rect x="153.14" y="100.22" width="1.3" height="1.3" fill="#2a8cff"/>
<rect x="151.07" y="111.01" width="1.3" height="1.3" fill="#1a1aff"/>
<rect x="170.86" y="86.51" width="1.3" height="1.3" fill="#1a1aff"/>
<rect x="171.4" y="82.53" width="1.3" height="1.3" fill="#2a8cff"/>
<rect x="146.35" y="110.85" width="1.3" height="1.3" fill="#1a1aff"/>
<rect x="147.14" y="100.74" width="1.3" height="1.3" fill="#1a1aff"/>
<rect x="166.39" y="81.9" width="1.3" height="1.3" fill="#1a1aff"/>
<rect x="167.32" y="72.03" width="1.3" height="1.3" fill="#1a1aff"/>
<rect x="163.63" y="71.53" width="1.3" height="1.3" fill="#1a1aff"/>
<rect x="164.32" y="71.33" width="1.3" height="1.3" fill="#1a1aff"/>
<rect x="156.95" y="78.15" width="1.3" height="1.3" fill="#1a1aff"/>
<rect x="167.42" y="68.98" width="1.3" height="1.3" fill="#1a1aff"/>
<rect x="167" y="73.41" width="1.3" height="1.3" fill="#1a1aff"/>
<rect x="168.04" y="80.83" width="1.3" height="1.3" fill="#1a1aff"/>
<rect x="161.85" y="89.03" width="1.3" height="1.3" fill="#1a1aff"/>
<rect x="157.99" y="80.37" width="1.3" height="1.3" fill="#1a1aff"/>
<rect x="166.64" y="73.46" width="1.3" height="1.3" fill="#1a1aff"/>
<rect x="168.8" y="72.74" width="1.3" height="1.3" fill="#1a1aff"/>
<rect x="160" y="81.37" width="1.3" height="1.3" fill="#1a1aff"/>
<rect x="161.09" y="78.88" width="1.3" height="1.3" fill="#1a1aff"/>
<rect x="164.43" y="73.1" width="1.3" height="1.3" fill="#1a1aff"/>
<rect x="166.87" y="70.94" width="1.3" height="1.3" fill="#1a1aff"/>
<rect x="160.78" y="79.36" width="1.3" height="1.3" fill="#1a1aff"/>
<rect x="162.06" y="60.92" width="1.3" height="1.3" fill="#1a1aff"/>
<rect x="172.04" y="78.12" width="1.3" height="1.3" fill="#1a1aff"/>
<rect x="176.38" y="77.78" width="1.3" height="1.3" fill="#1a1aff"/>
<rect x="161.38" y="66.91" width="1.3" height="1.3" fill="#1a1aff"/>
<rect x="160.04" y="77.14" width="1.3" height="1.3" fill="#1a1aff"/>
<rect x="162.33" y="81.2" width="1.3" height="1.3" fill="#1a1aff"/>
<rect x="171.48" y="75.98" width="1.3" height="1.3" fill="#1a1aff"/>
<rect x="160.22" y="78.54" width="1.3" height="1.3" fill="#1a1aff"/>
<rect x="165.49" y="78.49" width="1.3" height="1.3" fill="#1a1aff"/>
<rect x="166.81" y="85.45" width="1.3" height="1.3" fill="#2a8cff"/>
<rect x="164.6" y="70.1" width="1.3" height="1.3" fill="#1a1aff"/>
<rect x="163.14" y="69.6" width="1.3" height="1.3" fill="#1a1aff"/>
<rect x="154.89" y="79.54" width="1.3" height="1.3" fill="#1a1aff"/>
<rect x="173.27" y="82.66" width="1.3" height="1.3" fill="#1a1aff"/>
<rect x="156.77" y="86.57" width="1.3" height="1.3" fill="#1a1aff"/>
<rect x="160.81" y="87.35" width="1.3" height="1.3" fill="#1a1aff"/>
<rect x="160.61" y="70.24" width="1.3" height="1.3" fill="#1a1aff"/>
<rect x="175.55" y="80.63" width="1.3" height="1.3" fill="#1a1aff"/>
<rect x="162.75" y="82.34" width="1.3" height="1.3" fill="#1a1aff"/>
<rect x="156.56" y="72.05" width="1.3" height="1.3" fill="#1a1aff"/>
<rect x="163.11" y="87.6" width="1.3" height="1.3" fill="#1a1aff"/>
<rect x="167.17" y="82.54" width="1.3" height="1.3" fill="#1a1aff"/>
<rect x="159.71" y="86.42" width="1.3" height="1.3" fill="#1a1aff"/>
<rect x="155.79" y="82.61" width="1.3" height="1.3" fill="#1a1aff"/>
<rect x="174.02" y="80.66" width="1.3" height="1.3" fill="#1a1aff"/>
<rect x="162.54" y="87.33" width="1.3" height="1.3" fill="#1a1aff"/>
<rect x="172.21" y="80.05" width="1.3" height="1.3" fill="#1a1aff"/>
<rect x="154.3" y="81.09" width="1.3" height="1.3" fill="#1a1aff"/>
<rect x="161.71" y="75.69" width="1.3" height="1.3" fill="#1a1aff"/>
<rect x="157.99" y="87.76" width="1.3" height="1.3" fill="#1a1aff"/>
<rect x="164.42" y="81.27" width="1.3" height="1.3" fill="#1a1aff"/>
<rect x="153.26" y="76.77" width="1.3" height="1.3" fill="#1a1aff"/>
<rect x="170.61" y="73.44" width="1.3" height="1.3" fill="#1a1aff"/>
<rect x="168.91" y="80.82" width="1.3" height="1.3" fill="#1a1aff"/>
<rect x="163.97" y="87.36" width="1.3" height="1.3" fill="#1a1aff"/>
<rect x="159.5" y="88.2" width="1.3" height="1.3" fill="#1a1aff"/>
<rect x="171.47" y="77.18" width="1.3" height="1.3" fill="#1a1aff"/>
<rect x="157.3" y="75.73" width="1.3" height="1.3" fill="#1a1aff"/>
<rect x="167.02" y="71.18" width="1.3" height="1.3" fill="#1a1aff"/>
<rect x="171.64" y="62.67" width="1.3" height="1.3" fill="#1a1aff"/>
<rect x="172.89" y="75.69" width="1.3" height="1.3" fill="#1a1aff"/>
<rect x="168.94" y="79.31" width="1.3" height="1.3" fill="#1a1aff"/>
<rect x="155.92" y="73.13" width="1.3" height="1.3" fill="#1a1aff"/>
<rect x="159.58" y="83.82" width="1.3" height="1.3" fill="#1a1aff"/>
<rect x="161.83" y="85.98" width="1.3" height="1.3" fill="#1a1aff"/>
<rect x="167.35" y="82.47" width="1.3" height="1.3" fill="#1a1aff"/>
<rect x="168.33" y="64.5" width="1.3" height="1.3" fill="#1a1aff"/>
<rect x="175.43" y="79.97" width="1.3" height="1.3" fill="#1a1aff"/>
<rect x="156.64" y="76.37" width="1.3" height="1.3" fill="#1a1aff"/>
<rect x="170.09" y="83.72" width="1.3" height="1.3" fill="#2a8cff"/>
<rect x="159.65" y="72.8" width="1.3" height="1.3" fill="#1a1aff"/>
<rect x="164.74" y="78.04" width="1.3" height="1.3" fill="#1a1aff"/>
<rect x="166.77" y="85.46" width="1.3" height="1.3" fill="#1a1aff"/>
<rect x="162.94" y="100.12" width="1.3" height="1.3" fill="#2a8cff"/>
<rect x="168.81" y="67.63" width="1.3" height="1.3" fill="#1a1aff"/>
<rect x="154.27" y="82.75" width="1.3" height="1.3" fill="#1a1aff"/>
<rect x="163.02" y="76.36" width="1.3" height="1.3" fill="#1a1aff"/>
<rect x="147.8" y="87.9" width="1.3" height="1.3" fill="#1a1aff"/>
<rect x="170.67" y="79.26" width="1.3" height="1.3" fill="#1a1aff"/>
<rect x="163.15" y="84.04" width="1.3" height="1.3" fill="#1a1aff"/>
<rect x="163.27" y="81.62" width="1.3" height="1.3" fill="#1a1aff"/>
<rect x="161.88" y="76.37" width="1.3" height="1.3" fill="#1a1aff"/>
<rect x="170.45" y="72.45" width="1.3" height="1.3" fill="#1a1aff"/>
<rect x="156.42" y="81.46" width="1.3" height="1.3" fill="#1a1aff"/>
<rect x="165.46" y="79.54" width="1.3" height="1.3" fill="#1a1aff"/>
<rect x="158.09" y="78.6" width="1.3" height="1.3" fill="#1a1aff"/>
<rect x="169.09" y="72.45" width="1.3" height="1.3" fill="#1a1aff"/>
<rect x="170.37" y="75.57" width="1.3" height="1.3" fill="#1a1aff"/>
<rect x="160.45" y="79.74" width="1.3" height="1.3" fill="#1a1aff"/>
<rect x="170.14" y="85.26" width="1.3" height="1.3" fill="#2a8cff"/>
<rect x="171.87" y="72.41" width="1.3" height="1.3" fill="#1a1aff"/>
<rect x="169.72" y="82.45" width="1.3" height="1.3" fill="#1a1aff"/>
<rect x="169.91" y="69.17" width="1.3" height="1.3" fill="#1a1aff"/>
<rect x="174.58" y="79.98" width="1.3" height="1.3" fill="#1a1aff"/>
<rect x="164.52" y="88.08" width="1.3" height="1.3" fill="#2a8cff"/>
<rect x="166.85" y="82.62" width="1.3" height="1.3" fill="#1a1aff"/>
<rect x="167.29" y="73.84" width="1.3" height="1.3" fill="#1a1aff"/>
<rect x="174.27" y="81.64" width="1.3" height="1.3" fill="#1a1aff"/>
<rect x="170.12" y="76.77" width="1.3" height="1.3" fill="#1a1aff"/>
<rect x="165.86" y="79.53" width="1.3" height="1.3" fill="#1a1aff"/>
<rect x="167.67" y="72.72" width="1.3" height="1.3" fill="#1a1aff"/>
<rect x="161.05" y="81.23" width="1.3" height="1.3" fill="#1a1aff"/>
<rect x="164.82" y="82.48" width="1.3" height="1.3" fill="#1a1aff"/>
<rect x="164.09" y="79.65" width="1.3" height="1.3" fill="#1a1aff"/>
<rect x="167.87" y="62.89" width="1.3" height="1.3" fill="#1a1aff"/>
<rect x="168.96" y="80.66" width="1.3" height="1.3" fill="#1a1aff"/>
<rect x="165.66" y="80.24" width="1.3" height="1.3" fill="#1a1aff"/>
<rect x="161.17" y="88.5" width="1.3" height="1.3" fill="#1a1aff"/>
<rect x="163.56" y="72.98" width="1.3" height="1.3" fill="#1a1aff"/>
<rect x="170.48" y="79.66" width="1.3" height="1.3" fill="#1a1aff"/>
<rect x="165.88" y="80.02" width="1.3" height="1.3" fill="#1a1aff"/>
<rect x="178.6" y="68.75" width="1.3" height="1.3" fill="#1a1aff"/>
<rect x="157.37" y="62.5" width="1.3" height="1.3" fill="#1a1aff"/>
<rect x="159.65" y="83.64" width="1.3" height="1.3" fill="#1a1aff"/>
<rect x="161.91" y="78.46" width="1.3" height="1.3" fill="#1a1aff"/>
<rect x="156.76" y="91.57" width="1.3" height="1.3" fill="#1a1aff"/>
<rect x="156.9" y="89.9" width="1.3" height="1.3" fill="#1a1aff"/>
<rect x="175.8" y="79.47" width="1.3" height="1.3" fill="#1a1aff"/>
<rect x="169.61" y="78.86" width="1.3" height="1.3" fill="#1a1aff"/>
<rect x="152.18" y="89.07" width="1.3" height="1.3" fill="#1a1aff"/>
<rect x="168.99" y="78" width="1.3" height="1.3" fill="#1a1aff"/>
<rect x="161.14" y="77.8" width="1.3" height="1.3" fill="#1a1aff"/>
<rect x="164.54" y="84.49" width="1.3" height="1.3" fill="#1a1aff"/>
<rect x="169.79" y="68.92" width="1.3" height="1.3" fill="#1a1aff"/>
<rect x="167.04" y="100.82" width="1.3" height="1.3" fill="#1a1aff"/>
<rect x="163.84" y="74.67" width="1.3" height="1.3" fill="#1a1aff"/>
<rect x="172.57" y="73.19" width="1.3" height="1.3" fill="#1a1aff"/>
<rect x="159.79" y="82.11" width="1.3" height="1.3" fill="#1a1aff"/>
<rect x="167.34" y="75.25" width="1.3" height="1.3" fill="#1a1aff"/>
<rect x="166.03" y="70.01" width="1.3" height="1.3" fill="#1a1aff"/>
<rect x="155.37" y="81.73" width="1.3" height="1.3" fill="#1a1aff"/>
<rect x="173.21" y="87.17" width="1.3" height="1.3" fill="#1a1aff"/>
<rect x="155.8" y="85.25" width="1.3" height="1.3" fill="#1a1aff"/>
<rect x="161.25" y="62.76" width="1.3" height="1.3" fill="#1a1aff"/>
<rect x="151.37" y="77.81" width="1.3" height="1.3" fill="#1a1aff"/>
<rect x="164.01" y="86.22" width="1.3" height="1.3" fill="#1a1aff"/>
<rect x="168.72" y="83.18" width="1.3" height="1.3" fill="#1a1aff"/>
<rect x="164.13" y="74.5" width="1.3" height="1.3" fill="#1a1aff"/>
<rect x="166.47" y="81.39" width="1.3" height="1.3" fill="#1a1aff"/>
<rect x="152" y="77.35" width="1.3" height="1.3" fill="#1a1aff"/>
<rect x="163.89" y="84.28" width="1.3" height="1.3" fill="#1a1aff"/>
<rect x="155.64" y="74.46" width="1.3" height="1.3" fill="#1a1aff"/>
<rect x="164.13" y="87.94" width="1.3" height="1.3" fill="#2a8cff"/>
<rect x="165.61" y="88.11" width="1.3" height="1.3" fill="#1a1aff"/>
<rect x="151.07" y="83.17" width="1.3" height="1.3" fill="#1a1aff"/>
<rect x="170.58" y="94.17" width="1.3" height="1.3" fill="#1a1aff"/>
<rect x="158.07" y="83.86" width="1.3" height="1.3" fill="#1a1aff"/>
<rect x="162.8" y="76.19" width="1.3" height="1.3" fill="#1a1aff"/>
<rect x="154.16" y="92.09" width="1.3" height="1.3" fill="#1a1aff"/>
<rect x="159.57" y="69.63" width="1.3" height="1.3" fill="#1a1aff"/>
<rect x="158.3" y="88.66" width="1.3" height="1.3" fill="#1a1aff"/>
<rect x="161.32" y="77.57" width="1.3" height="1.3" fill="#1a1aff"/>
<rect x="168.4" y="68.22" width="1.3" height="1.3" fill="#1a1aff"/>
<rect x="160.28" y="89.17" width="1.3" height="1.3" fill="#1a1aff"/>
<rect x="164.62" y="79.22" width="1.3" height="1.3" fill="#1a1aff"/>
<rect x="172.98" y="87.43" width="1.3" height="1.3" fill="#1a1aff"/>
<rect x="171.51" y="72.09" width="1.3" height="1.3" fill="#1a1aff"/>
<rect x="167.01" y="83.58" width="1.3" height="1.3" fill="#1a1aff"/>
<rect x="168.18" y="76.04" width="1.3" height="1.3" fill="#1a1aff"/>
<rect x="160.15" y="73.88" width="1.3" height="1.3" fill="#1a1aff"/>
<rect x="171.48" y="78.46" width="1.3" height="1.3" fill="#1a1aff"/>
<rect x="165.02" y="75.36" width="1.3" height="1.3" fill="#1a1aff"/>
<rect x="160.39" y="80.1" width="1.3" height="1.3" fill="#1a1aff"/>
<rect x="168.64" y="85.92" width="1.3" height="1.3" fill="#2a8cff"/>
<rect x="161.3" y="73.69" width="1.3" height="1.3" fill="#1a1aff"/>
<rect x="171.75" y="80.48" width="1.3" height="1.3" fill="#1a1aff"/>
<rect x="172.06" y="71.92" width="1.3" height="1.3" fill="#1a1aff"/>
<rect x="159.98" y="84.89" width="1.3" height="1.3" fill="#1a1aff"/>
<rect x="158.93" y="82.81" width="1.3" height="1.3" fill="#1a1aff"/>
<rect x="160.19" y="88.96" width="1.3" height="1.3" fill="#1a1aff"/>
<rect x="162.06" y="77.5" width="1.3" height="1.3" fill="#1a1aff"/>
<rect x="168.66" y="67.2" width="1.3" height="1.3" fill="#1a1aff"/>
<rect x="176.86" y="80.24" width="1.3" height="1.3" fill="#1a1aff"/>
<rect x="172.79" y="86.6" width="1.3" height="1.3" fill="#1a1aff"/>
<rect x="175.12" y="82.37" width="1.3" height="1.3" fill="#1a1aff"/>
<rect x="162.62" y="72.54" width="1.3" height="1.3" fill="#1a1aff"/>
<rect x="154.7" y="81.08" width="1.3" height="1.3" fill="#1a1aff"/>
<rect x="159.1" y="82.41" width="1.3" height="1.3" fill="#1a1aff"/>
<rect x="155.03" y="73.19" width="1.3" height="1.3" fill="#1a1aff"/>
<rect x="155.71" y="91.5" width="1.3" height="1.3" fill="#1a1aff"/>
<rect x="165.95" y="86.93" width="1.3" height="1.3" fill="#2a8cff"/>
<rect x="159.31" y="80.71" width="1.3" height="1.3" fill="#1a1aff"/>
<rect x="157.56" y="73.22" width="1.3" height="1.3" fill="#1a1aff"/>
<rect x="169.93" y="81.05" width="1.3" height="1.3" fill="#1a1aff"/>
<rect x="163.46" y="72.65" width="1.3" height="1.3" fill="#1a1aff"/>
<rect x="172.28" y="70.12" width="1.3" height="1.3" fill="#1a1aff"/>
<rect x="170.79" y="80.01" width="1.3" height="1.3" fill="#1a1aff"/>
<rect x="164.45" y="69" width="1.3" height="1.3" fill="#1a1aff"/>
<rect x="163.45" y="79.92" width="1.3" height="1.3" fill="#1a1aff"/>
<rect x="166.72" y="81.57" width="1.3" height="1.3" fill="#1a1aff"/>
<rect x="166.28" y="75.76" width="1.3" height="1.3" fill="#1a1aff"/>
<rect x="173.57" y="78.39" width="1.3" height="1.3" fill="#1a1aff"/>
<rect x="157.97" y="74.44" width="1.3" height="1.3" fill="#1a1aff"/>
<rect x="155.4" y="92.36" width="1.3" height="1.3" fill="#1a1aff"/>
<rect x="162.82" y="81.36" width="1.3" height="1.3" fill="#1a1aff"/>
<rect x="164.08" y="79.72" width="1.3" height="1.3" fill="#1a1aff"/>
<rect x="168.56" y="71.85" width="1.3" height="1.3" fill="#1a1aff"/>
<rect x="160.09" y="82.27" width="1.3" height="1.3" fill="#1a1aff"/>
<rect x="162.98" y="74.62" width="1.3" height="1.3" fill="#1a1aff"/>
<rect x="162.55" y="81.92" width="1.3" height="1.3" fill="#1a1aff"/>
<rect x="153.22" y="81.67" width="1.3" height="1.3" fill="#1a1aff"/>
<rect x="154.01" y="85.95" width="1.3" height="1.3" fill="#1a1aff"/>
<rect x="157.88" y="86.32" width="1.3" height="1.3" fill="#1a1aff"/>
<rect x="162.77" y="76.93" width="1.3" height="1.3" fill="#1a1aff"/>
<rect x="153.42" y="75.69" width="1.3" height="1.3" fill="#1a1aff"/>
<rect x="156.64" y="77.84" width="1.3" height="1.3" fill="#1a1aff"/>
<rect x="160.18" y="81.94" width="1.3" height="1.3" fill="#1a1aff"/>
<rect x="156.6" y="73.95" width="1.3" height="1.3" fill="#1a1aff"/>
<rect x="169.31" y="82.09" width="1.3" height="1.3" fill="#1a1aff"/>
<rect x="167.02" y="78.03" width="1.3" height="1.3" fill="#1a1aff"/>
<rect x="165.71" y="68.7" width="1.3" height="1.3" fill="#1a1aff"/>
<rect x="164.2" y="84.41" width="1.3" height="1.3" fill="#1a1aff"/>
<rect x="166.36" y="76.73" width="1.3" height="1.3" fill="#1a1aff"/>
<rect x="164.15" y="77.62" width="1.3" height="1.3" fill="#1a1aff"/>
<rect x="163.18" y="76.71" width="1.3" height="1.3" fill="#1a1aff"/>
<rect x="161.9" y="77.15" width="1.3" height="1.3" fill="#1a1aff"/>
<rect x="154.87" y="79.25" width="1.3" height="1.3" fill="#1a1aff"/>
<rect x="161.45" y="84.82" width="1.3" height="1.3" fill="#1a1aff"/>
<rect x="161.91" y="85.16" width="1.3" height="1.3" fill="#1a1aff"/>
<rect x="167.07" y="72.89" width="1.3" height="1.3" fill="#1a1aff"/>
<rect x="159.83" y="84.38" width="1.3" height="1.3" fill="#1a1aff"/>
<rect x="163.37" y="68.16" width="1.3" height="1.3" fill="#1a1aff"/>
<rect x="169.41" y="59.52" width="1.3" height="1.3" fill="#1a1aff"/>
<rect x="167.5" y="75.31" width="1.3" height="1.3" fill="#1a1aff"/>
<rect x="174.69" y="72.78" width="1.3" height="1.3" fill="#1a1aff"/>
<rect x="174.71" y="77" width="1.3" height="1.3" fill="#1a1aff"/>
<rect x="168.14" y="80.44" width="1.3" height="1.3" fill="#1a1aff"/>
<rect x="170.13" y="91.19" width="1.3" height="1.3" fill="#1a1aff"/>
<rect x="167.45" y="81.98" width="1.3" height="1.3" fill="#1a1aff"/>
<rect x="161.26" y="77.44" width="1.3" height="1.3" fill="#1a1aff"/>
<rect x="158.36" y="85.31" width="1.3" height="1.3" fill="#1a1aff"/>
<rect x="157.93" y="79.49" width="1.3" height="1.3" fill="#1a1aff"/>
<rect x="167.09" y="81.2" width="1.3" height="1.3" fill="#1a1aff"/>
<rect x="162.78" y="76.37" width="1.3" height="1.3" fill="#1a1aff"/>
<rect x="170.5" y="83.88" width="1.3" height="1.3" fill="#1a1aff"/>
<rect x="165.93" y="73.87" width="1.3" height="1.3" fill="#1a1aff"/>
<rect x="166.89" y="85.01" width="1.3" height="1.3" fill="#1a1aff"/>
<rect x="157.74" y="85.93" width="1.3" height="1.3" fill="#1a1aff"/>
<rect x="167.12" y="84.76" width="1.3" height="1.3" fill="#1a1aff"/>
<rect x="164.38" y="68.12" width="1.3" height="1.3" fill="#1a1aff"/>
<rect x="176.83" y="83.1" width="1.3" height="1.3" fill="#1a1aff"/>
<rect x="167.38" y="84.33" width="1.3" height="1.3" fill="#1a1aff"/>
<rect x="163.19" y="83.45" width="1.3" height="1.3" fill="#1a1aff"/>
<rect x="155.03" y="95.05" width="1.3" height="1.3" fill="#1a1aff"/>
<rect x="179.32" y="72.55" width="1.3" height="1.3" fill="#1a1aff"/>
<rect x="164.15" y="85.46" width="1.3" height="1.3" fill="#1a1aff"/>
<rect x="162.33" y="82.82" width="1.3" height="1.3" fill="#1a1aff"/>
<rect x="170.13" y="87.46" width="1.3" height="1.3" fill="#2a8cff"/>
<rect x="171" y="86.66" width="1.3" height="1.3" fill="#2a8cff"/>
<rect x="157.37" y="78.69" width="1.3" height="1.3" fill="#1a1aff"/>
<rect x="162.83" y="85.2" width="1.3" height="1.3" fill="#1a1aff"/>
<rect x="171.03" y="76.15" width="1.3" height="1.3" fill="#1a1aff"/>
<rect x="168.3" y="91.27" width="1.3" height="1.3" fill="#2a8cff"/>
<rect x="166.77" y="79.01" width="1.3" height="1.3" fill="#1a1aff"/>
<rect x="167.37" y="87.16" width="1.3" height="1.3" fill="#2a8cff"/>
<rect x="157.26" y="77.46" width="1.3" height="1.3" fill="#1a1aff"/>
<rect x="166.23" y="81.47" width="1.3" height="1.3" fill="#1a1aff"/>
<rect x="161.46" y="80.86" width="1.3" height="1.3" fill="#1a1aff"/>
<rect x="158.88" y="74.93" width="1.3" height="1.3" fill="#1a1aff"/>
<rect x="164.38" y="73.2" width="1.3" height="1.3" fill="#1a1aff"/>
<rect x="161.38" y="90.05" width="1.3" height="1.3" fill="#1a1aff"/>
<rect x="175.29" y="73.66" width="1.3" height="1.3" fill="#1a1aff"/>
<rect x="155.99" y="86.26" width="1.3" height="1.3" fill="#1a1aff"/>
<rect x="168.46" y="76.52" width="1.3" height="1.3" fill="#1a1aff"/>
<rect x="169.54" y="78.86" width="1.3" height="1.3" fill="#1a1aff"/>
<rect x="165.94" y="95.14" width="1.3" height="1.3" fill="#2a8cff"/>
<rect x="161.28" y="89.01" width="1.3" height="1.3" fill="#1a1aff"/>
<rect x="163.63" y="87.35" width="1.3" height="1.3" fill="#1a1aff"/>
<rect x="171.99" y="73.28" width="1.3" height="1.3" fill="#1a1aff"/>
<rect x="162.34" y="84.79" width="1.3" height="1.3" fill="#1a1aff"/>
<rect x="163.41" y="79.81" width="1.3" height="1.3" fill="#1a1aff"/>
<rect x="163.52" y="72.33" width="1.3" height="1.3" fill="#1a1aff"/>
<rect x="161.59" y="73.93" width="1.3" height="1.3" fill="#1a1aff"/>
<rect x="170.99" y="77.61" width="1.3" height="1.3" fill="#1a1aff"/>
<rect x="171.13" y="81.82" width="1.3" height="1.3" fill="#1a1aff"/>
<rect x="169.93" y="70.9" width="1.3" height="1.3" fill="#1a1aff"/>
<rect x="159.67" y="74.96" width="1.3" height="1.3" fill="#1a1aff"/>
<rect x="165.15" y="97.46" width="1.3" height="1.3" fill="#1a1aff"/>
<rect x="164.45" y="73.23" width="1.3" height="1.3" fill="#1a1aff"/>
<rect x="161.84" y="76.95" width="1.3" height="1.3" fill="#1a1aff"/>
<rect x="165.81" y="70.21" width="1.3" height="1.3" fill="#1a1aff"/>
<rect x="169.22" y="71.24" width="1.3" height="1.3" fill="#1a1aff"/>
<rect x="169.59" y="77.55" width="1.3" height="1.3" fill="#1a1aff"/>
<rect x="166.11" y="71.45" width="1.3" height="1.3" fill="#1a1aff"/>
<rect x="158.94" y="89.68" width="1.3" height="1.3" fill="#1a1aff"/>
<rect x="167.45" y="78.7" width="1.3" height="1.3" fill="#1a1aff"/>
<rect x="164.27" y="86.6" width="1.3" height="1.3" fill="#1a1aff"/>
<rect x="161.31" y="88.84" width="1.3" height="1.3" fill="#1a1aff"/>
<rect x="168.71" y="76.83" width="1.3" height="1.3" fill="#1a1aff"/>
<rect x="159.3" y="72.31" width="1.3" height="1.3" fill="#1a1aff"/>
<rect x="162.5" y="81.14" width="1.3" height="1.3" fill="#1a1aff"/>
<rect x="161.77" y="80.89" width="1.3" height="1.3" fill="#1a1aff"/>
<rect x="168.54" y="80.96" width="1.3" height="1.3" fill="#1a1aff"/>
<rect x="167.17" y="74.3" width="1.3" height="1.3" fill="#1a1aff"/>
<rect x="165.78" y="82.52" width="1.3" height="1.3" fill="#1a1aff"/>
<rect x="166.55" y="86.24" width="1.3" height="1.3" fill="#2a8cff"/>
<rect x="167.69" y="78.53" width="1.3" height="1.3" fill="#1a1aff"/>
<rect x="175.02" y="74.14" width="1.3" height="1.3" fill="#1a1aff"/>
<rect x="162.21" y="73.85" width="1.3" height="1.3" fill="#1a1aff"/>
<rect x="159.23" y="84.91" width="1.3" height="1.3" fill="#1a1aff"/>
<rect x="160.29" y="80.37" width="1.3" height="1.3" fill="#1a1aff"/>
<rect x="170.92" y="98.71" width="1.3" height="1.3" fill="#1a1aff"/>
<rect x="164.34" y="80.39" width="1.3" height="1.3" fill="#1a1aff"/>
<rect x="158.47" y="93.54" width="1.3" height="1.3" fill="#1a1aff"/>
<rect x="170.57" y="79.81" width="1.3" height="1.3" fill="#1a1aff"/>
<rect x="154.37" y="90.78" width="1.3" height="1.3" fill="#1a1aff"/>
<rect x="170.41" y="70.63" width="1.3" height="1.3" fill="#1a1aff"/>
<rect x="172.64" y="73.61" width="1.3" height="1.3" fill="#1a1aff"/>
<rect x="166.25" y="70.63" width="1.3" height="1.3" fill="#1a1aff"/>
<rect x="167.59" y="75.58" width="1.3" height="1.3" fill="#1a1aff"/>
<rect x="159.01" y="94.66" width="1.3" height="1.3" fill="#2a8cff"/>
<rect x="163.48" y="85.51" width="1.3" height="1.3" fill="#1a1aff"/>
<rect x="156.48" y="76.44" width="1.3" height="1.3" fill="#1a1aff"/>
<rect x="168.32" y="71.2" width="1.3" height="1.3" fill="#1a1aff"/>
<rect x="155.37" y="73.68" width="1.3" height="1.3" fill="#1a1aff"/>
<rect x="165.91" y="80.4" width="1.3" height="1.3" fill="#1a1aff"/>
<rect x="160.33" y="73.35" width="1.3" height="1.3" fill="#1a1aff"/>
<rect x="162.09" y="68.42" width="1.3" height="1.3" fill="#1a1aff"/>
<rect x="168.93" y="78.1" width="1.3" height="1.3" fill="#1a1aff"/>
<rect x="161.99" y="72.98" width="1.3" height="1.3" fill="#1a1aff"/>
<rect x="155.9" y="71.83" width="1.3" height="1.3" fill="#1a1aff"/>
<rect x="167.25" y="75.72" width="1.3" height="1.3" fill="#1a1aff"/>
<rect x="168.05" y="77.08" width="1.3" height="1.3" fill="#1a1aff"/>
<rect x="170.57" y="81.74" width="1.3" height="1.3" fill="#1a1aff"/>
<rect x="158.39" y="80.92" width="1.3" height="1.3" fill="#1a1aff"/>
<rect x="168.59" y="77.15" width="1.3" height="1.3" fill="#1a1aff"/>
<rect x="182.28" y="71.77" width="1.3" height="1.3" fill="#1a1aff"/>
<rect x="166.62" y="83" width="1.3" height="1.3" fill="#1a1aff"/>
<rect x="166.81" y="77.02" width="1.3" height="1.3" fill="#1a1aff"/>
<rect x="157.89" y="84.82" width="1.3" height="1.3" fill="#1a1aff"/>
<rect x="155.89" y="87.16" width="1.3" height="1.3" fill="#1a1aff"/>
<rect x="171.99" y="80.46" width="1.3" height="1.3" fill="#1a1aff"/>
<rect x="149.51" y="91.62" width="1.3" height="1.3" fill="#1a1aff"/>
<rect x="164.02" y="85.09" width="1.3" height="1.3" fill="#1a1aff"/>
<rect x="172.56" y="82.79" width="1.3" height="1.3" fill="#2a8cff"/>
<rect x="161.55" y="76.53" width="1.3" height="1.3" fill="#1a1aff"/>
<rect x="158.04" y="68.46" width="1.3" height="1.3" fill="#1a1aff"/>
<rect x="164.68" y="83.2" width="1.3" height="1.3" fill="#1a1aff"/>
<rect x="164.98" y="75.14" width="1.3" height="1.3" fill="#1a1aff"/>
<rect x="167.46" y="73.83" width="1.3" height="1.3" fill="#1a1aff"/>
<rect x="160.67" y="87.31" width="1.3" height="1.3" fill="#1a1aff"/>
<rect x="169.19" y="76.07" width="1.3" height="1.3" fill="#1a1aff"/>
<rect x="170.56" y="75.65" width="1.3" height="1.3" fill="#1a1aff"/>
<rect x="172.12" y="76.05" width="1.3" height="1.3" fill="#1a1aff"/>
<rect x="154.4" y="92.9" width="1.3" height="1.3" fill="#1a1aff"/>
<rect x="160.34" y="73.47" width="1.3" height="1.3" fill="#1a1aff"/>
<rect x="160.67" y="76.13" width="1.3" height="1.3" fill="#1a1aff"/>
<rect x="159.99" y="73.73" width="1.3" height="1.3" fill="#1a1aff"/>
<rect x="159.16" y="69.6" width="1.3" height="1.3" fill="#1a1aff"/>
<rect x="151.84" y="82.12" width="1.3" height="1.3" fill="#1a1aff"/>
<rect x="173.13" y="66.12" width="1.3" height="1.3" fill="#1a1aff"/>
<rect x="160.82" y="88.1" width="1.3" height="1.3" fill="#1a1aff"/>
<rect x="168.82" y="81.97" width="1.3" height="1.3" fill="#1a1aff"/>
<rect x="159.79" y="85.16" width="1.3" height="1.3" fill="#1a1aff"/>
<rect x="167.64" y="74.66" width="1.3" height="1.3" fill="#1a1aff"/>
<rect x="182.62" y="76.41" width="1.3" height="1.3" fill="#1a1aff"/>
<rect x="173.02" y="74.03" width="1.3" height="1.3" fill="#1a1aff"/>
<rect x="147.57" y="68.94" width="1.3" height="1.3" fill="#1a1aff"/>
<rect x="156.15" y="77.3" width="1.3" height="1.3" fill="#1a1aff"/>
<rect x="152.19" y="86.63" width="1.3" height="1.3" fill="#1a1aff"/>
<rect x="161.84" y="73.68" width="1.3" height="1.3" fill="#1a1aff"/>
<rect x="167.33" y="71.51" width="1.3" height="1.3" fill="#1a1aff"/>
<rect x="164.1" y="85.94" width="1.3" height="1.3" fill="#1a1aff"/>
<rect x="157.04" y="83.89" width="1.3" height="1.3" fill="#1a1aff"/>
<rect x="167.92" y="85.71" width="1.3" height="1.3" fill="#1a1aff"/>
<rect x="166.58" y="79.26" width="1.3" height="1.3" fill="#1a1aff"/>
<rect x="159.93" y="88.25" width="1.3" height="1.3" fill="#1a1aff"/>
<rect x="168.96" y="74.12" width="1.3" height="1.3" fill="#1a1aff"/>
<rect x="168.14" y="78.69" width="1.3" height="1.3" fill="#1a1aff"/>
<rect x="163.53" y="79.68" width="1.3" height="1.3" fill="#1a1aff"/>
<rect x="170.71" y="81.22" width="1.3" height="1.3" fill="#1a1aff"/>
<rect x="159.41" y="71.53" width="1.3" height="1.3" fill="#1a1aff"/>
<rect x="159.79" y="87.63" width="1.3" height="1.3" fill="#1a1aff"/>
<rect x="160.36" y="74.51" width="1.3" height="1.3" fill="#1a1aff"/>
<rect x="160.11" y="76.23" width="1.3" height="1.3" fill="#1a1aff"/>
<rect x="177.31" y="74.2" width="1.3" height="1.3" fill="#1a1aff"/>
<rect x="171.4" y="81.66" width="1.3" height="1.3" fill="#1a1aff"/>
<rect x="157.6" y="81.08" width="1.3" height="1.3" fill="#1a1aff"/>
<rect x="164.84" y="82.5" width="1.3" height="1.3" fill="#1a1aff"/>
<rect x="146.75" y="114.41" width="1.3" height="1.3" fill="#2a8cff"/>
<rect x="143.78" y="115.62" width="1.3" height="1.3" fill="#1a1aff"/>
<rect x="150.77" y="111.05" width="1.3" height="1.3" fill="#2a8cff"/>
<rect x="146.07" y="115.89" width="1.3" height="1.3" fill="#1a1aff"/>
<rect x="148.82" y="109.69" width="1.3" height="1.3" fill="#1a1aff"/>
<rect x="148.34" y="112.36" width="1.3" height="1.3" fill="#1a1aff"/>
<rect x="151.14" y="110.67" width="1.3" height="1.3" fill="#2a8cff"/>
<rect x="150.78" y="109.83" width="1.3" height="1.3" fill="#1a1aff"/>
<rect x="148.22" y="109.82" width="1.3" height="1.3" fill="#1a1aff"/>
<rect x="143.11" y="111.26" width="1.3" height="1.3" fill="#1a1aff"/>
<rect x="151.3" y="113.47" width="1.3" height="1.3" fill="#1a1aff"/>
<rect x="150.56" y="109.7" width="1.3" height="1.3" fill="#2a8cff"/>
<rect x="149.25" y="112.27" width="1.3" height="1.3" fill="#1a1aff"/>
<rect x="145.53" y="116.43" width="1.3" height="1.3" fill="#1a1aff"/>
<rect x="149.44" y="113.35" width="1.3" height="1.3" fill="#1a1aff"/>
<rect x="152.84" y="120.34" width="1.3" height="1.3" fill="#1a1aff"/>
<rect x="149.09" y="109.71" width="1.3" height="1.3" fill="#2a8cff"/>
<rect x="150.92" y="109.62" width="1.3" height="1.3" fill="#1a1aff"/>
<rect x="147.53" y="109.92" width="1.3" height="1.3" fill="#2a8cff"/>
<rect x="149.99" y="109.35" width="1.3" height="1.3" fill="#1a1aff"/>
<rect x="148.31" y="113.93" width="1.3" height="1.3" fill="#1a1aff"/>
<rect x="149.97" y="116.48" width="1.3" height="1.3" fill="#1a1aff"/>
<rect x="149.33" y="115.83" width="1.3" height="1.3" fill="#1a1aff"/>
<rect x="143.61" y="110.84" width="1.3" height="1.3" fill="#1a1aff"/>
<rect x="148.96" y="112.13" width="1.3" height="1.3" fill="#1a1aff"/>
<rect x="147.11" y="110.49" width="1.3" height="1.3" fill="#1a1aff"/>
<rect x="146.74" y="118.9" width="1.3" height="1.3" fill="#1a1aff"/>
<rect x="143.49" y="109.7" width="1.3" height="1.3" fill="#1a1aff"/>
<rect x="145.33" y="109.23" width="1.3" height="1.3" fill="#1a1aff"/>
<rect x="151.41" y="114.86" width="1.3" height="1.3" fill="#1a1aff"/>
<rect x="145.12" y="113.23" width="1.3" height="1.3" fill="#1a1aff"/>
<rect x="143.19" y="114.47" width="1.3" height="1.3" fill="#1a1aff"/>
<rect x="147.25" y="117.39" width="1.3" height="1.3" fill="#1a1aff"/>
<rect x="147.59" y="116.54" width="1.3" height="1.3" fill="#1a1aff"/>
<rect x="149.49" y="109.85" width="1.3" height="1.3" fill="#1a1aff"/>
<rect x="147.15" y="113.18" width="1.3" height="1.3" fill="#2a8cff"/>
<rect x="150.9" y="118.46" width="1.3" height="1.3" fill="#1a1aff"/>
<rect x="143.15" y="117.64" width="1.3" height="1.3" fill="#1a1aff"/>
<rect x="148.73" y="106.79" width="1.3" height="1.3" fill="#1a1aff"/>
<rect x="150.76" y="105.3" width="1.3" height="1.3" fill="#1a1aff"/>
<rect x="152.11" y="114.75" width="1.3" height="1.3" fill="#1a1aff"/>
<rect x="148.36" y="106.47" width="1.3" height="1.3" fill="#1a1aff"/>
<rect x="147.63" y="107.71" width="1.3" height="1.3" fill="#1a1aff"/>
<rect x="145.68" y="110.81" width="1.3" height="1.3" fill="#1a1aff"/>
<rect x="148.28" y="114.1" width="1.3" height="1.3" fill="#1a1aff"/>
<rect x="154.03" y="112.03" width="1.3" height="1.3" fill="#1a1aff"/>
<rect x="153.92" y="110.86" width="1.3" height="1.3" fill="#1a1aff"/>
<rect x="152.13" y="117.91" width="1.3" height="1.3" fill="#1a1aff"/>
<rect x="147.96" y="111.79" width="1.3" height="1.3" fill="#1a1aff"/>
<rect x="141.93" y="115.49" width="1.3" height="1.3" fill="#1a1aff"/>
<rect x="146.92" y="113.65" width="1.3" height="1.3" fill="#1a1aff"/>
<rect x="143.16" y="117.89" width="1.3" height="1.3" fill="#1a1aff"/>
<rect x="145.55" y="114.54" width="1.3" height="1.3" fill="#1a1aff"/>
<rect x="146.59" y="113.42" width="1.3" height="1.3" fill="#1a1aff"/>
<rect x="150.67" y="113.42" width="1.3" height="1.3" fill="#1a1aff"/>
<rect x="145.08" y="116.19" width="1.3" height="1.3" fill="#1a1aff"/>
<rect x="153.46" y="118.67" width="1.3" height="1.3" fill="#1a1aff"/>
<rect x="149.61" y="112.13" width="1.3" height="1.3" fill="#1a1aff"/>
<rect x="144.88" y="110.88" width="1.3" height="1.3" fill="#1a1aff"/>
<rect x="146.61" y="105.42" width="1.3" height="1.3" fill="#1a1aff"/>
<rect x="143.42" y="117.33" width="1.3" height="1.3" fill="#1a1aff"/>
<rect x="147.21" y="119.38" width="1.3" height="1.3" fill="#1a1aff"/>
<rect x="147.76" y="121.52" width="1.3" height="1.3" fill="#1a1aff"/>
<rect x="148.62" y="110.15" width="1.3" height="1.3" fill="#2a8cff"/>
<rect x="145.51" y="113.01" width="1.3" height="1.3" fill="#1a1aff"/>
<rect x="146.24" y="122.34" width="1.3" height="1.3" fill="#1a1aff"/>
<rect x="149.77" y="111.85" width="1.3" height="1.3" fill="#2a8cff"/>
<rect x="149.56" y="112.92" width="1.3" height="1.3" fill="#1a1aff"/>
<rect x="155.25" y="117.28" width="1.3" height="1.3" fill="#1a1aff"/>
<rect x="142.75" y="114.08" width="1.3" height="1.3" fill="#1a1aff"/>
<rect x="144.9" y="108.05" width="1.3" height="1.3" fill="#1a1aff"/>
<rect x="149.38" y="109.62" width="1.3" height="1.3" fill="#1a1aff"/>
<rect x="140.42" y="118.73" width="1.3" height="1.3" fill="#1a1aff"/>
<rect x="150.89" y="120.37" width="1.3" height="1.3" fill="#1a1aff"/>
<rect x="147.28" y="117.17" width="1.3" height="1.3" fill="#1a1aff"/>
<rect x="147.08" y="114.84" width="1.3" height="1.3" fill="#1a1aff"/>
<rect x="148.29" y="118.76" width="1.3" height="1.3" fill="#1a1aff"/>
<rect x="146.49" y="108.02" width="1.3" height="1.3" fill="#1a1aff"/>
<rect x="152.01" y="109.97" width="1.3" height="1.3" fill="#2a8cff"/>
<rect x="142.05" y="112.84" width="1.3" height="1.3" fill="#1a1aff"/>
<rect x="148.27" y="113.73" width="1.3" height="1.3" fill="#2a8cff"/>
<rect x="144.96" y="114.97" width="1.3" height="1.3" fill="#1a1aff"/>
<rect x="144.93" y="105.89" width="1.3" height="1.3" fill="#1a1aff"/>
<rect x="153.43" y="109.43" width="1.3" height="1.3" fill="#1a1aff"/>
<rect x="145.5" y="116.84" width="1.3" height="1.3" fill="#1a1aff"/>
<rect x="143.58" y="120.25" width="1.3" height="1.3" fill="#1a1aff"/>
<rect x="156.35" y="109.49" width="1.3" height="1.3" fill="#1a1aff"/>
<rect x="148.42" y="108.65" width="1.3" height="1.3" fill="#1a1aff"/>
<rect x="142.88" y="111.85" width="1.3" height="1.3" fill="#1a1aff"/>
<rect x="143.06" y="110.79" width="1.3" height="1.3" fill="#1a1aff"/>
<rect x="145.88" y="110.61" width="1.3" height="1.3" fill="#1a1aff"/>
<rect x="146.47" y="115.94" width="1.3" height="1.3" fill="#1a1aff"/>
<rect x="144.52" y="113.65" width="1.3" height="1.3" fill="#1a1aff"/>
<rect x="144.92" y="107.41" width="1.3" height="1.3" fill="#1a1aff"/>
<rect x="144.03" y="109.4" width="1.3" height="1.3" fill="#1a1aff"/>
<rect x="149.83" y="117.62" width="1.3" height="1.3" fill="#1a1aff"/>
<rect x="150.62" y="115.87" width="1.3" height="1.3" fill="#1a1aff"/>
<rect x="145.57" y="108.81" width="1.3" height="1.3" fill="#1a1aff"/>
<rect x="146.73" y="105.67" width="1.3" height="1.3" fill="#1a1aff"/>
<rect x="145.39" y="116.51" width="1.3" height="1.3" fill="#1a1aff"/>
<rect x="149.89" y="116.01" width="1.3" height="1.3" fill="#1a1aff"/>
<rect x="154.38" y="109.88" width="1.3" height="1.3" fill="#1a1aff"/>
<rect x="148.48" y="113.72" width="1.3" height="1.3" fill="#1a1aff"/>
<rect x="150.92" y="112.55" width="1.3" height="1.3" fill="#1a1aff"/>
<rect x="148.85" y="117.84" width="1.3" height="1.3" fill="#1a1aff"/>
<rect x="148.01" y="115.41" width="1.3" height="1.3" fill="#1a1aff"/>
<rect x="144.67" y="117.05" width="1.3" height="1.3" fill="#1a1aff"/>
<rect x="144.48" y="115.8" width="1.3" height="1.3" fill="#1a1aff"/>
<rect x="137.7" y="119.76" width="1.3" height="1.3" fill="#1a1aff"/>
<rect x="148.05" y="118.81" width="1.3" height="1.3" fill="#1a1aff"/>
<rect x="145.3" y="118.99" width="1.3" height="1.3" fill="#1a1aff"/>
<rect x="146.5" y="119.97" width="1.3" height="1.3" fill="#1a1aff"/>
<rect x="146.43" y="112.13" width="1.3" height="1.3" fill="#2a8cff"/>
<rect x="141.82" y="111.53" width="1.3" height="1.3" fill="#1a1aff"/>
<rect x="153.84" y="113.16" width="1.3" height="1.3" fill="#1a1aff"/>
<rect x="144.42" y="105.07" width="1.3" height="1.3" fill="#1a1aff"/>
<rect x="146.8" y="115.35" width="1.3" height="1.3" fill="#1a1aff"/>
<rect x="147.9" y="113.05" width="1.3" height="1.3" fill="#2a8cff"/>
<rect x="139.69" y="121.71" width="1.3" height="1.3" fill="#1a1aff"/>
<rect x="147.54" y="117.59" width="1.3" height="1.3" fill="#1a1aff"/>
<rect x="153.95" y="112.01" width="1.3" height="1.3" fill="#1a1aff"/>
<rect x="147.78" y="115.97" width="1.3" height="1.3" fill="#1a1aff"/>
<rect x="145.07" y="107.62" width="1.3" height="1.3" fill="#1a1aff"/>
<rect x="141.56" y="115.74" width="1.3" height="1.3" fill="#1a1aff"/>
<rect x="153.41" y="112.24" width="1.3" height="1.3" fill="#1a1aff"/>
<rect x="142.26" y="115.44" width="1.3" height="1.3" fill="#1a1aff"/>
<rect x="148.71" y="116.7" width="1.3" height="1.3" fill="#1a1aff"/>
<rect x="151.52" y="111.29" width="1.3" height="1.3" fill="#2a8cff"/>
<rect x="144.47" y="117.41" width="1.3" height="1.3" fill="#1a1aff"/>
<rect x="143.83" y="117.43" width="1.3" height="1.3" fill="#1a1aff"/>
<rect x="152.81" y="113.16" width="1.3" height="1.3" fill="#1a1aff"/>
<rect x="142.35" y="109" width="1.3" height="1.3" fill="#1a1aff"/>
<rect x="150.21" y="113.27" width="1.3" height="1.3" fill="#1a1aff"/>
<rect x="142.58" y="110.99" width="1.3" height="1.3" fill="#1a1aff"/>
<rect x="149.69" y="119.3" width="1.3" height="1.3" fill="#1a1aff"/>
<rect x="146.14" y="115.82" width="1.3" height="1.3" fill="#1a1aff"/>
<rect x="145.9" y="115.36" width="1.3" height="1.3" fill="#1a1aff"/>
<rect x="139.97" y="107.05" width="1.3" height="1.3" fill="#1a1aff"/>
<rect x="143.19" y="110.58" width="1.3" height="1.3" fill="#1a1aff"/>
<rect x="156.53" y="109.64" width="1.3" height="1.3" fill="#1a1aff"/>
<rect x="147.12" y="105.52" width="1.3" height="1.3" fill="#1a1aff"/>
<rect x="146.09" y="112.12" width="1.3" height="1.3" fill="#2a8cff"/>
<rect x="148.98" y="116.8" width="1.3" height="1.3" fill="#1a1aff"/>
<rect x="144.73" y="113.68" width="1.3" height="1.3" fill="#1a1aff"/>
<rect x="147.54" y="108.26" width="1.3" height="1.3" fill="#1a1aff"/>
<rect x="140.79" y="109.17" width="1.3" height="1.3" fill="#1a1aff"/>
<rect x="149.1" y="114.44" width="1.3" height="1.3" fill="#1a1aff"/>
<rect x="145.47" y="113.71" width="1.3" height="1.3" fill="#1a1aff"/>
<rect x="148.19" y="112.11" width="1.3" height="1.3" fill="#1a1aff"/>
<rect x="143.19" y="107.27" width="1.3" height="1.3" fill="#1a1aff"/>
<rect x="147.13" y="117.28" width="1.3" height="1.3" fill="#1a1aff"/>
<rect x="144.23" y="114.48" width="1.3" height="1.3" fill="#1a1aff"/>
<rect x="148.28" y="116.46" width="1.3" height="1.3" fill="#1a1aff"/>
<rect x="151.33" y="116.76" width="1.3" height="1.3" fill="#1a1aff"/>
<rect x="145.66" y="113.94" width="1.3" height="1.3" fill="#1a1aff"/>
<rect x="153.64" y="110.73" width="1.3" height="1.3" fill="#1a1aff"/>
<rect x="142.63" y="119.67" width="1.3" height="1.3" fill="#1a1aff"/>
<rect x="143.06" y="110.67" width="1.3" height="1.3" fill="#1a1aff"/>
<rect x="151.02" y="116.17" width="1.3" height="1.3" fill="#1a1aff"/>
<rect x="143.86" y="118.85" width="1.3" height="1.3" fill="#1a1aff"/>
<rect x="155.21" y="119.98" width="1.3" height="1.3" fill="#1a1aff"/>
<rect x="152.09" y="102.18" width="1.3" height="1.3" fill="#2a8cff"/>
<rect x="156.45" y="95.94" width="1.3" height="1.3" fill="#1a1aff"/>
<rect x="149.45" y="107.42" width="1.3" height="1.3" fill="#2a8cff"/>
<rect x="155.95" y="89.73" width="1.3" height="1.3" fill="#1a1aff"/>
<rect x="174.59" y="95.44" width="1.3" height="1.3" fill="#1a1aff"/>
<rect x="154.34" y="92.66" width="1.3" height="1.3" fill="#1a1aff"/>
<rect x="142.3" y="101.66" width="1.3" height="1.3" fill="#1a1aff"/>
<rect x="158.68" y="84.17" width="1.3" height="1.3" fill="#1a1aff"/>
<rect x="153.86" y="88.64" width="1.3" height="1.3" fill="#1a1aff"/>
<rect x="146.34" y="93.37" width="1.3" height="1.3" fill="#1a1aff"/>
<rect x="162.05" y="83.65" width="1.3" height="1.3" fill="#1a1aff"/>
<rect x="162.52" y="81.2" width="1.3" height="1.3" fill="#1a1aff"/>
<rect x="164.23" y="97.91" width="1.3" height="1.3" fill="#1a1aff"/>
<rect x="150.6" y="103.57" width="1.3" height="1.3" fill="#2a8cff"/>
<rect x="156.48" y="74.2" width="1.3" height="1.3" fill="#1a1aff"/>
<rect x="153.76" y="99.43" width="1.3" height="1.3" fill="#2a8cff"/>
<rect x="146.73" y="89.08" width="1.3" height="1.3" fill="#1a1aff"/>
<rect x="147.6" y="91.16" width="1.3" height="1.3" fill="#1a1aff"/>
<rect x="152.58" y="87.32" width="1.3" height="1.3" fill="#1a1aff"/>
<rect x="154.54" y="81.86" width="1.3" height="1.3" fill="#1a1aff"/>
<rect x="156.29" y="92.72" width="1.3" height="1.3" fill="#1a1aff"/>
<rect x="155.1" y="78.73" width="1.3" height="1.3" fill="#1a1aff"/>
<rect x="149.44" y="92.48" width="1.3" height="1.3" fill="#1a1aff"/>
<rect x="167.9" y="79.96" width="1.3" height="1.3" fill="#1a1aff"/>
<rect x="152.59" y="95.58" width="1.3" height="1.3" fill="#1a1aff"/>
<rect x="156.71" y="87.37" width="1.3" height="1.3" fill="#1a1aff"/>
<rect x="156.78" y="68.95" width="1.3" height="1.3" fill="#1a1aff"/>
<rect x="179.25" y="75.89" width="1.3" height="1.3" fill="#1a1aff"/>
<rect x="161.31" y="79.44" width="1.3" height="1.3" fill="#1a1aff"/>
<rect x="150" y="108.87" width="1.3" height="1.3" fill="#1a1aff"/>
<g filter="url(#sb)">
<ellipse cx="158.5" cy="100.5" rx="21" ry="3.77" fill="#44eeff" transform="rotate(-50 158.5 100.5)"/>
<ellipse cx="160.2" cy="98.9" rx="19.5" ry="3.31" fill="#44ff22" transform="rotate(-50 160.2 98.9)"/>
<ellipse cx="162.2" cy="94.7" rx="8.4" ry="2.21" fill="#e0ff00" transform="rotate(-50 162.2 94.7)"/>
<ellipse cx="162.2" cy="94.7" rx="7.3" ry="1.7" fill="#ff0000" transform="rotate(-50 162.2 94.7)"/>
</g>
<polygon points="60.7,152 82.4,151.2 85.7,163.1 50.9,192 46,176.5" fill="none" stroke="#b8bdb0" stroke-width="0.9"/>
<g filter="url(#sb)">
<ellipse cx="68.3" cy="184.6" rx="15.5" ry="3.9" fill="#1a1aff" transform="rotate(-52 68.3 184.6)"/>
</g>
<rect x="69.98" y="184.72" width="1.3" height="1.3" fill="#2a8cff"/>
<rect x="64.46" y="190.83" width="1.3" height="1.3" fill="#2a8cff"/>
<rect x="76.89" y="171.8" width="1.3" height="1.3" fill="#1a1aff"/>
<rect x="68.38" y="178.46" width="1.3" height="1.3" fill="#2a8cff"/>
<rect x="57.95" y="189.81" width="1.3" height="1.3" fill="#1a1aff"/>
<rect x="58.8" y="193.47" width="1.3" height="1.3" fill="#1a1aff"/>
<rect x="65.17" y="181.22" width="1.3" height="1.3" fill="#1a1aff"/>
<rect x="69.42" y="177.62" width="1.3" height="1.3" fill="#1a1aff"/>
<rect x="61.63" y="183.22" width="1.3" height="1.3" fill="#1a1aff"/>
<rect x="60.79" y="183.61" width="1.3" height="1.3" fill="#1a1aff"/>
<rect x="62.26" y="194.06" width="1.3" height="1.3" fill="#1a1aff"/>
<rect x="57.85" y="198.56" width="1.3" height="1.3" fill="#1a1aff"/>
<rect x="63.24" y="186.43" width="1.3" height="1.3" fill="#2a8cff"/>
<rect x="65.32" y="190.02" width="1.3" height="1.3" fill="#2a8cff"/>
<rect x="56.06" y="193.79" width="1.3" height="1.3" fill="#1a1aff"/>
<rect x="58.76" y="186.6" width="1.3" height="1.3" fill="#1a1aff"/>
<rect x="72.25" y="168.15" width="1.3" height="1.3" fill="#1a1aff"/>
<rect x="71.81" y="170.3" width="1.3" height="1.3" fill="#1a1aff"/>
<rect x="71.2" y="175.76" width="1.3" height="1.3" fill="#2a8cff"/>
<rect x="65.27" y="183.58" width="1.3" height="1.3" fill="#1a1aff"/>
<rect x="68.34" y="177.9" width="1.3" height="1.3" fill="#1a1aff"/>
<rect x="71.95" y="168.54" width="1.3" height="1.3" fill="#1a1aff"/>
<rect x="76.48" y="175.28" width="1.3" height="1.3" fill="#2a8cff"/>
<rect x="67.94" y="188.82" width="1.3" height="1.3" fill="#1a1aff"/>
<rect x="64.79" y="183.42" width="1.3" height="1.3" fill="#2a8cff"/>
<rect x="73.92" y="167.87" width="1.3" height="1.3" fill="#1a1aff"/>
<rect x="49.27" y="206.11" width="1.3" height="1.3" fill="#1a1aff"/>
<rect x="77.77" y="172.07" width="1.3" height="1.3" fill="#1a1aff"/>
<rect x="66.61" y="193.05" width="1.3" height="1.3" fill="#1a1aff"/>
<rect x="70" y="177.82" width="1.3" height="1.3" fill="#2a8cff"/>
<rect x="62.01" y="191.38" width="1.3" height="1.3" fill="#2a8cff"/>
<rect x="61.23" y="187.3" width="1.3" height="1.3" fill="#1a1aff"/>
<rect x="59.95" y="191" width="1.3" height="1.3" fill="#1a1aff"/>
<rect x="71.92" y="175.95" width="1.3" height="1.3" fill="#1a1aff"/>
<rect x="61.32" y="193.63" width="1.3" height="1.3" fill="#1a1aff"/>
<rect x="72.86" y="175.74" width="1.3" height="1.3" fill="#1a1aff"/>
<rect x="62.87" y="191.65" width="1.3" height="1.3" fill="#2a8cff"/>
<rect x="74.32" y="175.15" width="1.3" height="1.3" fill="#2a8cff"/>
<rect x="61.95" y="187.33" width="1.3" height="1.3" fill="#1a1aff"/>
<rect x="63.75" y="184.88" width="1.3" height="1.3" fill="#1a1aff"/>
<rect x="62.24" y="184.07" width="1.3" height="1.3" fill="#1a1aff"/>
<rect x="57.41" y="187.56" width="1.3" height="1.3" fill="#1a1aff"/>
<rect x="62.76" y="187.49" width="1.3" height="1.3" fill="#1a1aff"/>
<rect x="64.53" y="190.72" width="1.3" height="1.3" fill="#1a1aff"/>
<rect x="58.72" y="191.9" width="1.3" height="1.3" fill="#1a1aff"/>
<rect x="67.19" y="181.02" width="1.3" height="1.3" fill="#1a1aff"/>
<rect x="68.22" y="178.84" width="1.3" height="1.3" fill="#2a8cff"/>
<rect x="65.8" y="190.04" width="1.3" height="1.3" fill="#2a8cff"/>
<rect x="69.98" y="177.35" width="1.3" height="1.3" fill="#2a8cff"/>
<rect x="67.29" y="176.81" width="1.3" height="1.3" fill="#1a1aff"/>
<rect x="67.3" y="178.47" width="1.3" height="1.3" fill="#1a1aff"/>
<rect x="67.25" y="180.32" width="1.3" height="1.3" fill="#1a1aff"/>
<rect x="66.93" y="181.1" width="1.3" height="1.3" fill="#1a1aff"/>
<rect x="79.17" y="168.55" width="1.3" height="1.3" fill="#1a1aff"/>
<rect x="74.17" y="167.16" width="1.3" height="1.3" fill="#1a1aff"/>
<rect x="57.98" y="199.08" width="1.3" height="1.3" fill="#1a1aff"/>
<rect x="63.54" y="181.19" width="1.3" height="1.3" fill="#1a1aff"/>
<rect x="62.28" y="186.05" width="1.3" height="1.3" fill="#1a1aff"/>
<rect x="63.02" y="187.34" width="1.3" height="1.3" fill="#1a1aff"/>
<rect x="71.89" y="174.34" width="1.3" height="1.3" fill="#1a1aff"/>
<rect x="74.79" y="170.24" width="1.3" height="1.3" fill="#1a1aff"/>
<rect x="71.07" y="175.78" width="1.3" height="1.3" fill="#2a8cff"/>
<rect x="75.62" y="173.35" width="1.3" height="1.3" fill="#1a1aff"/>
<rect x="62.23" y="186.08" width="1.3" height="1.3" fill="#1a1aff"/>
<rect x="59.48" y="198.05" width="1.3" height="1.3" fill="#1a1aff"/>
<rect x="62.75" y="187.1" width="1.3" height="1.3" fill="#1a1aff"/>
<rect x="70.7" y="186.56" width="1.3" height="1.3" fill="#1a1aff"/>
<rect x="59.19" y="194.8" width="1.3" height="1.3" fill="#1a1aff"/>
<rect x="57.67" y="194.33" width="1.3" height="1.3" fill="#1a1aff"/>
<rect x="74.22" y="180.46" width="1.3" height="1.3" fill="#1a1aff"/>
<rect x="73.56" y="172.27" width="1.3" height="1.3" fill="#1a1aff"/>
<rect x="57.86" y="190.19" width="1.3" height="1.3" fill="#1a1aff"/>
<rect x="68.75" y="186.17" width="1.3" height="1.3" fill="#1a1aff"/>
<rect x="76.23" y="170.89" width="1.3" height="1.3" fill="#1a1aff"/>
<rect x="65.13" y="190.6" width="1.3" height="1.3" fill="#1a1aff"/>
<rect x="62.38" y="187.96" width="1.3" height="1.3" fill="#2a8cff"/>
<rect x="64.5" y="183.5" width="1.3" height="1.3" fill="#1a1aff"/>
<rect x="64.32" y="190.93" width="1.3" height="1.3" fill="#2a8cff"/>
<rect x="66.49" y="180.94" width="1.3" height="1.3" fill="#2a8cff"/>
<rect x="67.02" y="178.89" width="1.3" height="1.3" fill="#1a1aff"/>
<rect x="59.65" y="193.42" width="1.3" height="1.3" fill="#1a1aff"/>
<rect x="61.93" y="193.11" width="1.3" height="1.3" fill="#1a1aff"/>
<rect x="59.23" y="192.53" width="1.3" height="1.3" fill="#1a1aff"/>
<rect x="59.87" y="196.45" width="1.3" height="1.3" fill="#1a1aff"/>
<rect x="72.31" y="173.12" width="1.3" height="1.3" fill="#1a1aff"/>
<rect x="76.02" y="177.1" width="1.3" height="1.3" fill="#1a1aff"/>
<rect x="58.63" y="187.93" width="1.3" height="1.3" fill="#1a1aff"/>
<rect x="66.58" y="179.06" width="1.3" height="1.3" fill="#1a1aff"/>
<rect x="64.28" y="182.56" width="1.3" height="1.3" fill="#1a1aff"/>
<rect x="73.93" y="178" width="1.3" height="1.3" fill="#1a1aff"/>
<rect x="77.11" y="171.98" width="1.3" height="1.3" fill="#1a1aff"/>
<rect x="76.53" y="176.64" width="1.3" height="1.3" fill="#1a1aff"/>
<rect x="59.86" y="186.7" width="1.3" height="1.3" fill="#1a1aff"/>
<rect x="72.74" y="175.08" width="1.3" height="1.3" fill="#2a8cff"/>
<rect x="65.74" y="181.04" width="1.3" height="1.3" fill="#1a1aff"/>
<rect x="62.94" y="180.34" width="1.3" height="1.3" fill="#1a1aff"/>
<rect x="57.41" y="193.4" width="1.3" height="1.3" fill="#1a1aff"/>
<rect x="69.76" y="185.51" width="1.3" height="1.3" fill="#2a8cff"/>
<rect x="65.55" y="181.99" width="1.3" height="1.3" fill="#2a8cff"/>
<rect x="61.41" y="185.18" width="1.3" height="1.3" fill="#1a1aff"/>
<rect x="62.57" y="185.54" width="1.3" height="1.3" fill="#1a1aff"/>
<rect x="60.48" y="192.76" width="1.3" height="1.3" fill="#1a1aff"/>
<rect x="75.7" y="176.26" width="1.3" height="1.3" fill="#2a8cff"/>
<rect x="71.3" y="176.11" width="1.3" height="1.3" fill="#1a1aff"/>
<rect x="60.91" y="193.75" width="1.3" height="1.3" fill="#2a8cff"/>
<rect x="71.59" y="182.71" width="1.3" height="1.3" fill="#2a8cff"/>
<rect x="58.66" y="185.92" width="1.3" height="1.3" fill="#1a1aff"/>
<rect x="67.78" y="188.47" width="1.3" height="1.3" fill="#1a1aff"/>
<rect x="60.84" y="195.56" width="1.3" height="1.3" fill="#1a1aff"/>
<rect x="63.18" y="187.27" width="1.3" height="1.3" fill="#1a1aff"/>
<rect x="66.35" y="190.5" width="1.3" height="1.3" fill="#1a1aff"/>
<rect x="81.02" y="174.95" width="1.3" height="1.3" fill="#1a1aff"/>
<rect x="60.96" y="192.25" width="1.3" height="1.3" fill="#2a8cff"/>
<rect x="58.78" y="195.8" width="1.3" height="1.3" fill="#1a1aff"/>
<rect x="67.9" y="178.42" width="1.3" height="1.3" fill="#1a1aff"/>
<rect x="59.78" y="193.81" width="1.3" height="1.3" fill="#1a1aff"/>
<rect x="68.91" y="178.47" width="1.3" height="1.3" fill="#1a1aff"/>
<rect x="61.38" y="181.62" width="1.3" height="1.3" fill="#1a1aff"/>
<rect x="70.87" y="184.83" width="1.3" height="1.3" fill="#1a1aff"/>
<rect x="57.55" y="187.56" width="1.3" height="1.3" fill="#1a1aff"/>
<rect x="68.41" y="179.86" width="1.3" height="1.3" fill="#1a1aff"/>
<rect x="72.82" y="181.81" width="1.3" height="1.3" fill="#1a1aff"/>
<rect x="70.89" y="172.67" width="1.3" height="1.3" fill="#1a1aff"/>
<rect x="70.57" y="186.78" width="1.3" height="1.3" fill="#1a1aff"/>
<rect x="76.93" y="175.05" width="1.3" height="1.3" fill="#1a1aff"/>
<rect x="59.47" y="190.8" width="1.3" height="1.3" fill="#1a1aff"/>
<rect x="62.83" y="190.88" width="1.3" height="1.3" fill="#2a8cff"/>
<rect x="71.2" y="183.29" width="1.3" height="1.3" fill="#1a1aff"/>
<rect x="68.77" y="187.07" width="1.3" height="1.3" fill="#1a1aff"/>
<rect x="77.53" y="175.46" width="1.3" height="1.3" fill="#1a1aff"/>
<rect x="65.39" y="179.7" width="1.3" height="1.3" fill="#1a1aff"/>
<rect x="67.77" y="188.26" width="1.3" height="1.3" fill="#2a8cff"/>
<rect x="59.49" y="187.91" width="1.3" height="1.3" fill="#1a1aff"/>
<rect x="69.46" y="186.94" width="1.3" height="1.3" fill="#1a1aff"/>
<rect x="73.74" y="173.89" width="1.3" height="1.3" fill="#2a8cff"/>
<rect x="63.1" y="183.35" width="1.3" height="1.3" fill="#1a1aff"/>
<rect x="60.98" y="187.39" width="1.3" height="1.3" fill="#1a1aff"/>
<rect x="75.14" y="180.53" width="1.3" height="1.3" fill="#1a1aff"/>
<rect x="65.92" y="190.45" width="1.3" height="1.3" fill="#1a1aff"/>
<rect x="60.8" y="189.08" width="1.3" height="1.3" fill="#1a1aff"/>
<rect x="62.37" y="186.49" width="1.3" height="1.3" fill="#1a1aff"/>
<rect x="75.55" y="175.4" width="1.3" height="1.3" fill="#1a1aff"/>
<rect x="65.16" y="181.56" width="1.3" height="1.3" fill="#1a1aff"/>
<rect x="65.24" y="182.6" width="1.3" height="1.3" fill="#2a8cff"/>
<rect x="66.11" y="181.54" width="1.3" height="1.3" fill="#1a1aff"/>
<rect x="58.27" y="193.39" width="1.3" height="1.3" fill="#1a1aff"/>
<rect x="64.31" y="193.1" width="1.3" height="1.3" fill="#1a1aff"/>
<rect x="65.81" y="179.46" width="1.3" height="1.3" fill="#1a1aff"/>
<rect x="61.71" y="193.72" width="1.3" height="1.3" fill="#2a8cff"/>
<rect x="67.78" y="177.19" width="1.3" height="1.3" fill="#1a1aff"/>
<rect x="60.56" y="191.28" width="1.3" height="1.3" fill="#1a1aff"/>
<rect x="67.04" y="176.38" width="1.3" height="1.3" fill="#1a1aff"/>
<rect x="60.31" y="190.83" width="1.3" height="1.3" fill="#1a1aff"/>
<rect x="54.51" y="192.21" width="1.3" height="1.3" fill="#1a1aff"/>
<rect x="64.23" y="184.51" width="1.3" height="1.3" fill="#1a1aff"/>
<rect x="69.26" y="177.67" width="1.3" height="1.3" fill="#1a1aff"/>
<rect x="59.13" y="190.36" width="1.3" height="1.3" fill="#1a1aff"/>
<rect x="75.75" y="172.77" width="1.3" height="1.3" fill="#2a8cff"/>
<rect x="62.44" y="186" width="1.3" height="1.3" fill="#1a1aff"/>
<rect x="61.54" y="190.24" width="1.3" height="1.3" fill="#1a1aff"/>
<rect x="71.44" y="182.49" width="1.3" height="1.3" fill="#2a8cff"/>
<rect x="62.44" y="186.49" width="1.3" height="1.3" fill="#2a8cff"/>
<rect x="54.01" y="196.69" width="1.3" height="1.3" fill="#1a1aff"/>
<rect x="66.62" y="179.32" width="1.3" height="1.3" fill="#1a1aff"/>
<rect x="55.22" y="196.86" width="1.3" height="1.3" fill="#1a1aff"/>
<rect x="66.12" y="191.77" width="1.3" height="1.3" fill="#1a1aff"/>
<rect x="69.54" y="176.68" width="1.3" height="1.3" fill="#1a1aff"/>
<rect x="72.98" y="173.59" width="1.3" height="1.3" fill="#1a1aff"/>
<rect x="65.3" y="182.63" width="1.3" height="1.3" fill="#1a1aff"/>
<rect x="67.29" y="175.38" width="1.3" height="1.3" fill="#1a1aff"/>
<rect x="69.17" y="178.03" width="1.3" height="1.3" fill="#2a8cff"/>
<rect x="65.41" y="181.61" width="1.3" height="1.3" fill="#1a1aff"/>
<rect x="63.2" y="184.33" width="1.3" height="1.3" fill="#1a1aff"/>
<rect x="62.19" y="192.57" width="1.3" height="1.3" fill="#2a8cff"/>
<rect x="65.64" y="181.83" width="1.3" height="1.3" fill="#1a1aff"/>
<rect x="75.23" y="180.59" width="1.3" height="1.3" fill="#1a1aff"/>
<rect x="64.66" y="183.36" width="1.3" height="1.3" fill="#1a1aff"/>
<rect x="64.7" y="190.14" width="1.3" height="1.3" fill="#2a8cff"/>
<rect x="80.64" y="168.03" width="1.3" height="1.3" fill="#1a1aff"/>
<rect x="62.82" y="186.82" width="1.3" height="1.3" fill="#2a8cff"/>
<rect x="65.26" y="183.13" width="1.3" height="1.3" fill="#2a8cff"/>
<rect x="66.58" y="180.35" width="1.3" height="1.3" fill="#1a1aff"/>
<rect x="67.65" y="178.21" width="1.3" height="1.3" fill="#1a1aff"/>
<rect x="57.54" y="187" width="1.3" height="1.3" fill="#1a1aff"/>
<rect x="74.9" y="175.57" width="1.3" height="1.3" fill="#2a8cff"/>
<rect x="67.06" y="175.91" width="1.3" height="1.3" fill="#1a1aff"/>
<rect x="67.31" y="188.28" width="1.3" height="1.3" fill="#2a8cff"/>
<rect x="68.06" y="189.51" width="1.3" height="1.3" fill="#1a1aff"/>
<rect x="60.02" y="193.59" width="1.3" height="1.3" fill="#1a1aff"/>
<rect x="58.51" y="198.16" width="1.3" height="1.3" fill="#1a1aff"/>
<rect x="57.85" y="192.62" width="1.3" height="1.3" fill="#1a1aff"/>
<rect x="53.96" y="192.1" width="1.3" height="1.3" fill="#1a1aff"/>
<rect x="56.4" y="191.13" width="1.3" height="1.3" fill="#1a1aff"/>
<rect x="58.04" y="191.68" width="1.3" height="1.3" fill="#1a1aff"/>
<rect x="56.93" y="196.38" width="1.3" height="1.3" fill="#1a1aff"/>
<rect x="55.52" y="192.12" width="1.3" height="1.3" fill="#1a1aff"/>
<rect x="58.41" y="195.46" width="1.3" height="1.3" fill="#1a1aff"/>
<rect x="54.25" y="192.88" width="1.3" height="1.3" fill="#1a1aff"/>
<rect x="55.01" y="193.45" width="1.3" height="1.3" fill="#1a1aff"/>
<rect x="56.38" y="195.78" width="1.3" height="1.3" fill="#1a1aff"/>
<rect x="56.84" y="194.15" width="1.3" height="1.3" fill="#1a1aff"/>
<rect x="54.99" y="198.78" width="1.3" height="1.3" fill="#1a1aff"/>
<rect x="56.18" y="194.2" width="1.3" height="1.3" fill="#1a1aff"/>
<rect x="61.42" y="196.94" width="1.3" height="1.3" fill="#1a1aff"/>
<rect x="51.82" y="194.92" width="1.3" height="1.3" fill="#1a1aff"/>
<rect x="57.2" y="191.34" width="1.3" height="1.3" fill="#1a1aff"/>
<rect x="57.81" y="189.78" width="1.3" height="1.3" fill="#1a1aff"/>
<rect x="58.1" y="196.77" width="1.3" height="1.3" fill="#1a1aff"/>
<rect x="59.9" y="192.88" width="1.3" height="1.3" fill="#2a8cff"/>
<rect x="57.93" y="193.08" width="1.3" height="1.3" fill="#1a1aff"/>
<rect x="56.14" y="195.07" width="1.3" height="1.3" fill="#1a1aff"/>
<rect x="61.07" y="192.45" width="1.3" height="1.3" fill="#2a8cff"/>
<rect x="58.01" y="194.79" width="1.3" height="1.3" fill="#1a1aff"/>
<rect x="61.2" y="194.21" width="1.3" height="1.3" fill="#1a1aff"/>
<rect x="56.95" y="194.54" width="1.3" height="1.3" fill="#1a1aff"/>
<rect x="63.07" y="197.57" width="1.3" height="1.3" fill="#1a1aff"/>
<rect x="60.28" y="195.73" width="1.3" height="1.3" fill="#1a1aff"/>
<rect x="56.19" y="199.25" width="1.3" height="1.3" fill="#1a1aff"/>
<rect x="52.65" y="196" width="1.3" height="1.3" fill="#1a1aff"/>
<rect x="55.91" y="195.62" width="1.3" height="1.3" fill="#1a1aff"/>
<rect x="58.4" y="194.49" width="1.3" height="1.3" fill="#1a1aff"/>
<rect x="56.91" y="193.15" width="1.3" height="1.3" fill="#1a1aff"/>
<rect x="62.53" y="195.87" width="1.3" height="1.3" fill="#1a1aff"/>
<rect x="60.25" y="192.96" width="1.3" height="1.3" fill="#2a8cff"/>
<rect x="61.59" y="196.45" width="1.3" height="1.3" fill="#1a1aff"/>
<rect x="53.5" y="195.42" width="1.3" height="1.3" fill="#1a1aff"/>
<rect x="53.64" y="190.9" width="1.3" height="1.3" fill="#1a1aff"/>
<rect x="58.13" y="197.9" width="1.3" height="1.3" fill="#1a1aff"/>
<rect x="56.83" y="195.68" width="1.3" height="1.3" fill="#1a1aff"/>
<rect x="56.34" y="190.95" width="1.3" height="1.3" fill="#1a1aff"/>
<rect x="56.62" y="192.75" width="1.3" height="1.3" fill="#1a1aff"/>
<rect x="54.81" y="196.49" width="1.3" height="1.3" fill="#1a1aff"/>
<rect x="56.47" y="193.87" width="1.3" height="1.3" fill="#1a1aff"/>
<rect x="58.01" y="197.35" width="1.3" height="1.3" fill="#1a1aff"/>
<rect x="60.55" y="192.5" width="1.3" height="1.3" fill="#2a8cff"/>
<rect x="55.11" y="192.97" width="1.3" height="1.3" fill="#1a1aff"/>
<rect x="53.69" y="194.59" width="1.3" height="1.3" fill="#1a1aff"/>
<rect x="59.52" y="195.25" width="1.3" height="1.3" fill="#1a1aff"/>
<rect x="58.97" y="192.18" width="1.3" height="1.3" fill="#1a1aff"/>
<rect x="57" y="195.52" width="1.3" height="1.3" fill="#1a1aff"/>
<rect x="58.73" y="194.97" width="1.3" height="1.3" fill="#1a1aff"/>
<rect x="58.71" y="189.85" width="1.3" height="1.3" fill="#1a1aff"/>
<rect x="57.08" y="186.25" width="1.3" height="1.3" fill="#1a1aff"/>
<rect x="51.14" y="196.21" width="1.3" height="1.3" fill="#1a1aff"/>
<rect x="55.02" y="196.39" width="1.3" height="1.3" fill="#1a1aff"/>
<rect x="59.77" y="188.45" width="1.3" height="1.3" fill="#1a1aff"/>
<rect x="58.66" y="191.21" width="1.3" height="1.3" fill="#1a1aff"/>
<rect x="55.64" y="192.44" width="1.3" height="1.3" fill="#1a1aff"/>
<rect x="61.43" y="188.97" width="1.3" height="1.3" fill="#1a1aff"/>
<rect x="60.66" y="199.26" width="1.3" height="1.3" fill="#1a1aff"/>
<rect x="58.49" y="194.56" width="1.3" height="1.3" fill="#1a1aff"/>
<rect x="55.46" y="193.43" width="1.3" height="1.3" fill="#1a1aff"/>
<rect x="54.39" y="197.43" width="1.3" height="1.3" fill="#1a1aff"/>
<rect x="61.13" y="191.21" width="1.3" height="1.3" fill="#1a1aff"/>
<rect x="59.1" y="196.38" width="1.3" height="1.3" fill="#1a1aff"/>
<rect x="58.33" y="198.63" width="1.3" height="1.3" fill="#1a1aff"/>
<rect x="55.7" y="193.12" width="1.3" height="1.3" fill="#1a1aff"/>
<rect x="59.6" y="193.55" width="1.3" height="1.3" fill="#1a1aff"/>
<rect x="57.14" y="195.48" width="1.3" height="1.3" fill="#1a1aff"/>
<rect x="61.88" y="194.2" width="1.3" height="1.3" fill="#1a1aff"/>
<rect x="50.67" y="192.32" width="1.3" height="1.3" fill="#1a1aff"/>
<rect x="60.58" y="189.16" width="1.3" height="1.3" fill="#1a1aff"/>
<rect x="57.43" y="195.98" width="1.3" height="1.3" fill="#1a1aff"/>
<rect x="58.6" y="196.94" width="1.3" height="1.3" fill="#1a1aff"/>
<rect x="54.67" y="196.95" width="1.3" height="1.3" fill="#1a1aff"/>
<rect x="58.03" y="199.62" width="1.3" height="1.3" fill="#1a1aff"/>
<rect x="59.04" y="196.6" width="1.3" height="1.3" fill="#1a1aff"/>
<rect x="64.21" y="172.14" width="1.3" height="1.3" fill="#1a1aff"/>
<rect x="63.37" y="191.71" width="1.3" height="1.3" fill="#1a1aff"/>
<rect x="61.03" y="186.47" width="1.3" height="1.3" fill="#1a1aff"/>
<rect x="70.76" y="184.12" width="1.3" height="1.3" fill="#1a1aff"/>
<rect x="57.1" y="191.48" width="1.3" height="1.3" fill="#1a1aff"/>
<rect x="56.96" y="182.14" width="1.3" height="1.3" fill="#1a1aff"/>
<rect x="70.99" y="172.8" width="1.3" height="1.3" fill="#1a1aff"/>
<rect x="62.82" y="185.13" width="1.3" height="1.3" fill="#1a1aff"/>
<rect x="62.46" y="187.39" width="1.3" height="1.3" fill="#2a8cff"/>
<g filter="url(#sb)">
<ellipse cx="68.5" cy="184.5" rx="13.5" ry="2.76" fill="#44eeff" transform="rotate(-52 68.5 184.5)"/>
<ellipse cx="68.9" cy="183.9" rx="12.8" ry="2.48" fill="#44ff22" transform="rotate(-52 68.9 183.9)"/>
<ellipse cx="70.2" cy="183.9" rx="6.5" ry="1.66" fill="#e0ff00" transform="rotate(-52 70.2 183.9)"/>
<ellipse cx="70.2" cy="183.9" rx="5.8" ry="1.24" fill="#ff0000" transform="rotate(-52 70.2 183.9)"/>
</g>
<polygon points="159.5,152 181.2,151.2 184.5,163.1 149.7,192 144.8,176.5" fill="none" stroke="#b8bdb0" stroke-width="0.9"/>
<g filter="url(#sb)">
<ellipse cx="169.5" cy="183" rx="15" ry="3.7" fill="#1a1aff" transform="rotate(-54 169.5 183)"/>
</g>
<rect x="174.17" y="171.58" width="1.3" height="1.3" fill="#1a1aff"/>
<rect x="163.06" y="189.61" width="1.3" height="1.3" fill="#2a8cff"/>
<rect x="174.39" y="183.47" width="1.3" height="1.3" fill="#1a1aff"/>
<rect x="169.15" y="175.71" width="1.3" height="1.3" fill="#1a1aff"/>
<rect x="167.25" y="189.67" width="1.3" height="1.3" fill="#1a1aff"/>
<rect x="162.74" y="183.14" width="1.3" height="1.3" fill="#1a1aff"/>
<rect x="159.62" y="191.46" width="1.3" height="1.3" fill="#1a1aff"/>
<rect x="175.77" y="169.7" width="1.3" height="1.3" fill="#1a1aff"/>
<rect x="162.81" y="189.69" width="1.3" height="1.3" fill="#1a1aff"/>
<rect x="172.03" y="175.22" width="1.3" height="1.3" fill="#1a1aff"/>
<rect x="172.7" y="171.94" width="1.3" height="1.3" fill="#1a1aff"/>
<rect x="161.99" y="191.59" width="1.3" height="1.3" fill="#1a1aff"/>
<rect x="161.83" y="189.6" width="1.3" height="1.3" fill="#2a8cff"/>
<rect x="175.41" y="174.91" width="1.3" height="1.3" fill="#1a1aff"/>
<rect x="168.57" y="187.5" width="1.3" height="1.3" fill="#1a1aff"/>
<rect x="163.09" y="190.94" width="1.3" height="1.3" fill="#1a1aff"/>
<rect x="165.16" y="188.81" width="1.3" height="1.3" fill="#2a8cff"/>
<rect x="163.58" y="187.28" width="1.3" height="1.3" fill="#2a8cff"/>
<rect x="164.57" y="193.36" width="1.3" height="1.3" fill="#1a1aff"/>
<rect x="166.79" y="189.71" width="1.3" height="1.3" fill="#1a1aff"/>
<rect x="165.68" y="181.33" width="1.3" height="1.3" fill="#1a1aff"/>
<rect x="169.59" y="184.84" width="1.3" height="1.3" fill="#2a8cff"/>
<rect x="171.98" y="181.95" width="1.3" height="1.3" fill="#2a8cff"/>
<rect x="176.2" y="173.85" width="1.3" height="1.3" fill="#2a8cff"/>
<rect x="175.18" y="167.72" width="1.3" height="1.3" fill="#1a1aff"/>
<rect x="161.58" y="182.49" width="1.3" height="1.3" fill="#1a1aff"/>
<rect x="175.8" y="171.36" width="1.3" height="1.3" fill="#1a1aff"/>
<rect x="159.21" y="200.63" width="1.3" height="1.3" fill="#1a1aff"/>
<rect x="158.09" y="192.2" width="1.3" height="1.3" fill="#1a1aff"/>
<rect x="160.82" y="200.18" width="1.3" height="1.3" fill="#1a1aff"/>
<rect x="166.88" y="181.44" width="1.3" height="1.3" fill="#2a8cff"/>
<rect x="174.13" y="188.7" width="1.3" height="1.3" fill="#1a1aff"/>
<rect x="173.81" y="178.88" width="1.3" height="1.3" fill="#1a1aff"/>
<rect x="166.47" y="181.67" width="1.3" height="1.3" fill="#1a1aff"/>
<rect x="169.74" y="185.16" width="1.3" height="1.3" fill="#2a8cff"/>
<rect x="171.55" y="186.85" width="1.3" height="1.3" fill="#1a1aff"/>
<rect x="168.67" y="178.59" width="1.3" height="1.3" fill="#1a1aff"/>
<rect x="172.52" y="185.15" width="1.3" height="1.3" fill="#1a1aff"/>
<rect x="172.23" y="174.38" width="1.3" height="1.3" fill="#1a1aff"/>
<rect x="166.8" y="178.93" width="1.3" height="1.3" fill="#1a1aff"/>
<rect x="173.84" y="183.22" width="1.3" height="1.3" fill="#1a1aff"/>
<rect x="174.78" y="168.96" width="1.3" height="1.3" fill="#1a1aff"/>
<rect x="165.87" y="191.35" width="1.3" height="1.3" fill="#1a1aff"/>
<rect x="167.33" y="179.11" width="1.3" height="1.3" fill="#1a1aff"/>
<rect x="168.02" y="179.09" width="1.3" height="1.3" fill="#2a8cff"/>
<rect x="160.67" y="188.69" width="1.3" height="1.3" fill="#1a1aff"/>
<rect x="170.36" y="189.08" width="1.3" height="1.3" fill="#1a1aff"/>
<rect x="179.99" y="165.23" width="1.3" height="1.3" fill="#1a1aff"/>
<rect x="174.7" y="173.17" width="1.3" height="1.3" fill="#1a1aff"/>
<rect x="161.2" y="189.07" width="1.3" height="1.3" fill="#1a1aff"/>
<rect x="163.02" y="181.42" width="1.3" height="1.3" fill="#1a1aff"/>
<rect x="167.92" y="177.28" width="1.3" height="1.3" fill="#1a1aff"/>
<rect x="170.73" y="176.33" width="1.3" height="1.3" fill="#2a8cff"/>
<rect x="163.84" y="186.17" width="1.3" height="1.3" fill="#2a8cff"/>
<rect x="172.62" y="172.93" width="1.3" height="1.3" fill="#1a1aff"/>
<rect x="161.59" y="193.2" width="1.3" height="1.3" fill="#1a1aff"/>
<rect x="161.26" y="190.27" width="1.3" height="1.3" fill="#1a1aff"/>
<rect x="170.42" y="176.18" width="1.3" height="1.3" fill="#1a1aff"/>
<rect x="166.01" y="181.54" width="1.3" height="1.3" fill="#2a8cff"/>
<rect x="177.85" y="170.47" width="1.3" height="1.3" fill="#1a1aff"/>
<rect x="162.07" y="190.66" width="1.3" height="1.3" fill="#2a8cff"/>
<rect x="170.31" y="184.84" width="1.3" height="1.3" fill="#1a1aff"/>
<rect x="174.8" y="177.76" width="1.3" height="1.3" fill="#2a8cff"/>
<rect x="170.84" y="176.52" width="1.3" height="1.3" fill="#1a1aff"/>
<rect x="159.47" y="198.39" width="1.3" height="1.3" fill="#1a1aff"/>
<rect x="167.65" y="191.06" width="1.3" height="1.3" fill="#1a1aff"/>
<rect x="160.74" y="196.8" width="1.3" height="1.3" fill="#1a1aff"/>
<rect x="176.19" y="179.18" width="1.3" height="1.3" fill="#1a1aff"/>
<rect x="162.8" y="190.81" width="1.3" height="1.3" fill="#2a8cff"/>
<rect x="155.44" y="198.61" width="1.3" height="1.3" fill="#1a1aff"/>
<rect x="167.2" y="189.18" width="1.3" height="1.3" fill="#1a1aff"/>
<rect x="159.44" y="195.84" width="1.3" height="1.3" fill="#1a1aff"/>
<rect x="171.45" y="186.37" width="1.3" height="1.3" fill="#1a1aff"/>
<rect x="164.42" y="193.68" width="1.3" height="1.3" fill="#1a1aff"/>
<rect x="162.04" y="186.93" width="1.3" height="1.3" fill="#1a1aff"/>
<rect x="166.82" y="193.13" width="1.3" height="1.3" fill="#1a1aff"/>
<rect x="156.99" y="200.45" width="1.3" height="1.3" fill="#1a1aff"/>
<rect x="167.42" y="191.72" width="1.3" height="1.3" fill="#1a1aff"/>
<rect x="166.73" y="180.03" width="1.3" height="1.3" fill="#1a1aff"/>
<rect x="166.46" y="181.97" width="1.3" height="1.3" fill="#1a1aff"/>
<rect x="162.39" y="189.58" width="1.3" height="1.3" fill="#1a1aff"/>
<rect x="159.9" y="199.95" width="1.3" height="1.3" fill="#1a1aff"/>
<rect x="173.3" y="181.39" width="1.3" height="1.3" fill="#1a1aff"/>
<rect x="166.87" y="188.02" width="1.3" height="1.3" fill="#2a8cff"/>
<rect x="175.91" y="170.34" width="1.3" height="1.3" fill="#1a1aff"/>
<rect x="167.38" y="177.65" width="1.3" height="1.3" fill="#1a1aff"/>
<rect x="161.11" y="190.7" width="1.3" height="1.3" fill="#1a1aff"/>
<rect x="154.43" y="198.07" width="1.3" height="1.3" fill="#1a1aff"/>
<rect x="163.56" y="179.37" width="1.3" height="1.3" fill="#1a1aff"/>
<rect x="175.06" y="177.61" width="1.3" height="1.3" fill="#1a1aff"/>
<rect x="160.85" y="187.6" width="1.3" height="1.3" fill="#1a1aff"/>
<rect x="157.82" y="192.57" width="1.3" height="1.3" fill="#1a1aff"/>
<rect x="167.63" y="192.52" width="1.3" height="1.3" fill="#1a1aff"/>
<rect x="163.01" y="193.35" width="1.3" height="1.3" fill="#1a1aff"/>
<rect x="172.38" y="173.82" width="1.3" height="1.3" fill="#2a8cff"/>
<rect x="167.4" y="186.99" width="1.3" height="1.3" fill="#2a8cff"/>
<rect x="166.43" y="190.57" width="1.3" height="1.3" fill="#1a1aff"/>
<rect x="178.79" y="168.5" width="1.3" height="1.3" fill="#1a1aff"/>
<rect x="164.32" y="190.92" width="1.3" height="1.3" fill="#2a8cff"/>
<rect x="172.33" y="182.03" width="1.3" height="1.3" fill="#1a1aff"/>
<rect x="162.59" y="185.91" width="1.3" height="1.3" fill="#1a1aff"/>
<rect x="162.44" y="198.42" width="1.3" height="1.3" fill="#1a1aff"/>
<rect x="182.63" y="167.76" width="1.3" height="1.3" fill="#1a1aff"/>
<rect x="179.08" y="167.6" width="1.3" height="1.3" fill="#1a1aff"/>
<rect x="162.94" y="188.45" width="1.3" height="1.3" fill="#2a8cff"/>
<rect x="173.87" y="184.3" width="1.3" height="1.3" fill="#1a1aff"/>
<rect x="172.7" y="172.82" width="1.3" height="1.3" fill="#1a1aff"/>
<rect x="167.95" y="192.67" width="1.3" height="1.3" fill="#1a1aff"/>
<rect x="175.21" y="179.53" width="1.3" height="1.3" fill="#1a1aff"/>
<rect x="162.62" y="186.47" width="1.3" height="1.3" fill="#1a1aff"/>
<rect x="185.08" y="164.62" width="1.3" height="1.3" fill="#1a1aff"/>
<rect x="168.64" y="190.63" width="1.3" height="1.3" fill="#1a1aff"/>
<rect x="162.12" y="185.56" width="1.3" height="1.3" fill="#1a1aff"/>
<rect x="156.42" y="191.48" width="1.3" height="1.3" fill="#1a1aff"/>
<rect x="171.59" y="174.27" width="1.3" height="1.3" fill="#1a1aff"/>
<rect x="158.93" y="193.8" width="1.3" height="1.3" fill="#1a1aff"/>
<rect x="164.12" y="183.98" width="1.3" height="1.3" fill="#1a1aff"/>
<rect x="169.17" y="178.18" width="1.3" height="1.3" fill="#2a8cff"/>
<rect x="163.11" y="193.99" width="1.3" height="1.3" fill="#1a1aff"/>
<rect x="164.62" y="190.86" width="1.3" height="1.3" fill="#2a8cff"/>
<rect x="178.87" y="169.97" width="1.3" height="1.3" fill="#1a1aff"/>
<rect x="181.44" y="166.21" width="1.3" height="1.3" fill="#1a1aff"/>
<rect x="170.45" y="174.23" width="1.3" height="1.3" fill="#1a1aff"/>
<rect x="170.66" y="184.81" width="1.3" height="1.3" fill="#1a1aff"/>
<rect x="159.65" y="195.93" width="1.3" height="1.3" fill="#1a1aff"/>
<rect x="174.66" y="181.07" width="1.3" height="1.3" fill="#1a1aff"/>
<rect x="175.77" y="172.71" width="1.3" height="1.3" fill="#2a8cff"/>
<rect x="176.42" y="167.57" width="1.3" height="1.3" fill="#1a1aff"/>
<rect x="162.57" y="196.21" width="1.3" height="1.3" fill="#1a1aff"/>
<rect x="168.94" y="177.73" width="1.3" height="1.3" fill="#1a1aff"/>
<rect x="174.91" y="177.41" width="1.3" height="1.3" fill="#1a1aff"/>
<rect x="157.57" y="191.23" width="1.3" height="1.3" fill="#1a1aff"/>
<rect x="163.75" y="187.16" width="1.3" height="1.3" fill="#2a8cff"/>
<rect x="170.31" y="175.87" width="1.3" height="1.3" fill="#2a8cff"/>
<rect x="167.28" y="192.3" width="1.3" height="1.3" fill="#1a1aff"/>
<rect x="162.95" y="187.96" width="1.3" height="1.3" fill="#1a1aff"/>
<rect x="169.79" y="173.94" width="1.3" height="1.3" fill="#1a1aff"/>
<rect x="173.74" y="170.59" width="1.3" height="1.3" fill="#1a1aff"/>
<rect x="160.67" y="188.54" width="1.3" height="1.3" fill="#1a1aff"/>
<rect x="161.03" y="190.19" width="1.3" height="1.3" fill="#1a1aff"/>
<rect x="176.28" y="175.16" width="1.3" height="1.3" fill="#1a1aff"/>
<rect x="160.93" y="193.32" width="1.3" height="1.3" fill="#1a1aff"/>
<rect x="163.46" y="188.07" width="1.3" height="1.3" fill="#1a1aff"/>
<rect x="165.84" y="178.11" width="1.3" height="1.3" fill="#1a1aff"/>
<rect x="176.9" y="170.3" width="1.3" height="1.3" fill="#1a1aff"/>
<rect x="169.5" y="176.92" width="1.3" height="1.3" fill="#2a8cff"/>
<rect x="163.49" y="196.08" width="1.3" height="1.3" fill="#1a1aff"/>
<rect x="164.03" y="181.8" width="1.3" height="1.3" fill="#1a1aff"/>
<rect x="167.75" y="187.58" width="1.3" height="1.3" fill="#2a8cff"/>
<rect x="157.96" y="202.91" width="1.3" height="1.3" fill="#1a1aff"/>
<rect x="164.11" y="181.09" width="1.3" height="1.3" fill="#1a1aff"/>
<rect x="167.82" y="189.49" width="1.3" height="1.3" fill="#1a1aff"/>
<rect x="166.73" y="179.35" width="1.3" height="1.3" fill="#1a1aff"/>
<rect x="178.96" y="169.36" width="1.3" height="1.3" fill="#1a1aff"/>
<rect x="165.85" y="182.5" width="1.3" height="1.3" fill="#2a8cff"/>
<rect x="157.91" y="192.02" width="1.3" height="1.3" fill="#1a1aff"/>
<rect x="166.7" y="190.23" width="1.3" height="1.3" fill="#1a1aff"/>
<rect x="169.54" y="186.09" width="1.3" height="1.3" fill="#1a1aff"/>
<rect x="168.85" y="190.8" width="1.3" height="1.3" fill="#1a1aff"/>
<rect x="175.87" y="177.57" width="1.3" height="1.3" fill="#1a1aff"/>
<rect x="183.63" y="167.96" width="1.3" height="1.3" fill="#1a1aff"/>
<rect x="174.69" y="183.16" width="1.3" height="1.3" fill="#1a1aff"/>
<rect x="158.7" y="189.15" width="1.3" height="1.3" fill="#1a1aff"/>
<rect x="166.14" y="189.73" width="1.3" height="1.3" fill="#1a1aff"/>
<rect x="171.5" y="186.24" width="1.3" height="1.3" fill="#1a1aff"/>
<rect x="181.45" y="171.88" width="1.3" height="1.3" fill="#1a1aff"/>
<rect x="167.88" y="188.55" width="1.3" height="1.3" fill="#1a1aff"/>
<rect x="157.98" y="190.11" width="1.3" height="1.3" fill="#1a1aff"/>
<rect x="178.31" y="172.81" width="1.3" height="1.3" fill="#1a1aff"/>
<rect x="173.84" y="181.11" width="1.3" height="1.3" fill="#1a1aff"/>
<rect x="176.98" y="172.3" width="1.3" height="1.3" fill="#1a1aff"/>
<rect x="165.12" y="197.35" width="1.3" height="1.3" fill="#1a1aff"/>
<rect x="162.51" y="188.78" width="1.3" height="1.3" fill="#1a1aff"/>
<rect x="174.98" y="183.47" width="1.3" height="1.3" fill="#1a1aff"/>
<rect x="174.36" y="172.99" width="1.3" height="1.3" fill="#1a1aff"/>
<rect x="172.68" y="173.61" width="1.3" height="1.3" fill="#1a1aff"/>
<rect x="159.42" y="188.78" width="1.3" height="1.3" fill="#1a1aff"/>
<rect x="173.08" y="179.94" width="1.3" height="1.3" fill="#1a1aff"/>
<rect x="160.56" y="192.37" width="1.3" height="1.3" fill="#1a1aff"/>
<rect x="164.23" y="193.63" width="1.3" height="1.3" fill="#1a1aff"/>
<rect x="169.59" y="175.74" width="1.3" height="1.3" fill="#1a1aff"/>
<rect x="163.89" y="188.04" width="1.3" height="1.3" fill="#2a8cff"/>
<rect x="162.9" y="188.01" width="1.3" height="1.3" fill="#1a1aff"/>
<rect x="164.32" y="193.24" width="1.3" height="1.3" fill="#1a1aff"/>
<rect x="163.19" y="199.18" width="1.3" height="1.3" fill="#1a1aff"/>
<rect x="174.36" y="181.59" width="1.3" height="1.3" fill="#1a1aff"/>
<rect x="161.72" y="183" width="1.3" height="1.3" fill="#1a1aff"/>
<rect x="167.42" y="190.19" width="1.3" height="1.3" fill="#1a1aff"/>
<rect x="164.82" y="190.99" width="1.3" height="1.3" fill="#1a1aff"/>
<rect x="165.59" y="190.2" width="1.3" height="1.3" fill="#1a1aff"/>
<rect x="166.4" y="179.52" width="1.3" height="1.3" fill="#1a1aff"/>
<rect x="167.92" y="188.43" width="1.3" height="1.3" fill="#1a1aff"/>
<rect x="172.95" y="181.63" width="1.3" height="1.3" fill="#1a1aff"/>
<rect x="160.28" y="191.04" width="1.3" height="1.3" fill="#1a1aff"/>
<rect x="160.08" y="197.14" width="1.3" height="1.3" fill="#1a1aff"/>
<rect x="163.97" y="190.42" width="1.3" height="1.3" fill="#2a8cff"/>
<rect x="165.37" y="192" width="1.3" height="1.3" fill="#1a1aff"/>
<rect x="153.42" y="200.89" width="1.3" height="1.3" fill="#1a1aff"/>
<rect x="166.19" y="190.2" width="1.3" height="1.3" fill="#1a1aff"/>
<rect x="162.21" y="190.48" width="1.3" height="1.3" fill="#2a8cff"/>
<rect x="171.15" y="175.66" width="1.3" height="1.3" fill="#1a1aff"/>
<rect x="163.39" y="184.76" width="1.3" height="1.3" fill="#1a1aff"/>
<rect x="177.93" y="172.16" width="1.3" height="1.3" fill="#1a1aff"/>
<rect x="175.04" y="171.38" width="1.3" height="1.3" fill="#1a1aff"/>
<rect x="160.88" y="190.34" width="1.3" height="1.3" fill="#1a1aff"/>
<rect x="157.64" y="198.99" width="1.3" height="1.3" fill="#1a1aff"/>
<rect x="171.11" y="183.54" width="1.3" height="1.3" fill="#1a1aff"/>
<rect x="168.7" y="188.44" width="1.3" height="1.3" fill="#1a1aff"/>
<rect x="177.29" y="168.69" width="1.3" height="1.3" fill="#1a1aff"/>
<rect x="168.13" y="187.3" width="1.3" height="1.3" fill="#2a8cff"/>
<rect x="170.88" y="173.56" width="1.3" height="1.3" fill="#1a1aff"/>
<rect x="171.19" y="171.1" width="1.3" height="1.3" fill="#1a1aff"/>
<rect x="175.91" y="168.29" width="1.3" height="1.3" fill="#1a1aff"/>
<rect x="161.81" y="191.59" width="1.3" height="1.3" fill="#1a1aff"/>
<rect x="175.34" y="176.51" width="1.3" height="1.3" fill="#2a8cff"/>
<rect x="161.58" y="187.57" width="1.3" height="1.3" fill="#1a1aff"/>
<rect x="160.73" y="193.21" width="1.3" height="1.3" fill="#1a1aff"/>
<rect x="176.58" y="175.75" width="1.3" height="1.3" fill="#1a1aff"/>
<rect x="166.89" y="188.23" width="1.3" height="1.3" fill="#2a8cff"/>
<rect x="168.8" y="187.56" width="1.3" height="1.3" fill="#1a1aff"/>
<rect x="174.93" y="177.78" width="1.3" height="1.3" fill="#2a8cff"/>
<rect x="181.45" y="169.19" width="1.3" height="1.3" fill="#1a1aff"/>
<rect x="175.19" y="179.22" width="1.3" height="1.3" fill="#1a1aff"/>
<rect x="161.66" y="191.1" width="1.3" height="1.3" fill="#2a8cff"/>
<rect x="167.54" y="187.65" width="1.3" height="1.3" fill="#1a1aff"/>
<rect x="165.64" y="182.01" width="1.3" height="1.3" fill="#2a8cff"/>
<rect x="163.35" y="189.27" width="1.3" height="1.3" fill="#2a8cff"/>
<rect x="160.21" y="194.87" width="1.3" height="1.3" fill="#1a1aff"/>
<rect x="160.17" y="192.89" width="1.3" height="1.3" fill="#1a1aff"/>
<rect x="163.89" y="188.09" width="1.3" height="1.3" fill="#2a8cff"/>
<rect x="174.55" y="172.95" width="1.3" height="1.3" fill="#1a1aff"/>
<rect x="160.96" y="183.59" width="1.3" height="1.3" fill="#1a1aff"/>
<rect x="163.51" y="190.76" width="1.3" height="1.3" fill="#2a8cff"/>
<rect x="167.54" y="187.38" width="1.3" height="1.3" fill="#2a8cff"/>
<rect x="167.66" y="187.24" width="1.3" height="1.3" fill="#2a8cff"/>
<rect x="159.29" y="197.22" width="1.3" height="1.3" fill="#1a1aff"/>
<rect x="157.78" y="198.47" width="1.3" height="1.3" fill="#1a1aff"/>
<rect x="153.86" y="196.48" width="1.3" height="1.3" fill="#1a1aff"/>
<rect x="155.91" y="190.98" width="1.3" height="1.3" fill="#1a1aff"/>
<rect x="158.02" y="201.45" width="1.3" height="1.3" fill="#1a1aff"/>
<rect x="157.61" y="196.4" width="1.3" height="1.3" fill="#1a1aff"/>
<rect x="156.86" y="195.6" width="1.3" height="1.3" fill="#1a1aff"/>
<rect x="160.63" y="190.77" width="1.3" height="1.3" fill="#1a1aff"/>
<rect x="159.4" y="192.26" width="1.3" height="1.3" fill="#1a1aff"/>
<rect x="154.46" y="197.87" width="1.3" height="1.3" fill="#1a1aff"/>
<rect x="162" y="200.13" width="1.3" height="1.3" fill="#1a1aff"/>
<rect x="156.12" y="198.71" width="1.3" height="1.3" fill="#1a1aff"/>
<rect x="154.46" y="201.53" width="1.3" height="1.3" fill="#1a1aff"/>
<rect x="157" y="197.3" width="1.3" height="1.3" fill="#1a1aff"/>
<rect x="155.67" y="195.36" width="1.3" height="1.3" fill="#1a1aff"/>
<rect x="156.61" y="196.14" width="1.3" height="1.3" fill="#1a1aff"/>
<rect x="158.45" y="193.26" width="1.3" height="1.3" fill="#1a1aff"/>
<rect x="153.46" y="194.69" width="1.3" height="1.3" fill="#1a1aff"/>
<rect x="157.91" y="193.57" width="1.3" height="1.3" fill="#1a1aff"/>
<rect x="157.11" y="200.73" width="1.3" height="1.3" fill="#1a1aff"/>
<rect x="158.31" y="193.66" width="1.3" height="1.3" fill="#1a1aff"/>
<rect x="153.77" y="194.14" width="1.3" height="1.3" fill="#1a1aff"/>
<rect x="151.84" y="203.22" width="1.3" height="1.3" fill="#1a1aff"/>
<rect x="154.71" y="201.55" width="1.3" height="1.3" fill="#1a1aff"/>
<rect x="156.23" y="197.7" width="1.3" height="1.3" fill="#1a1aff"/>
<rect x="156.21" y="198.51" width="1.3" height="1.3" fill="#1a1aff"/>
<rect x="158.31" y="194.27" width="1.3" height="1.3" fill="#1a1aff"/>
<rect x="159.6" y="195.36" width="1.3" height="1.3" fill="#1a1aff"/>
<rect x="152.55" y="194.15" width="1.3" height="1.3" fill="#1a1aff"/>
<rect x="156.46" y="193.62" width="1.3" height="1.3" fill="#1a1aff"/>
<rect x="150.4" y="196.42" width="1.3" height="1.3" fill="#1a1aff"/>
<rect x="155.57" y="203.38" width="1.3" height="1.3" fill="#1a1aff"/>
<rect x="162.9" y="193.33" width="1.3" height="1.3" fill="#1a1aff"/>
<rect x="156.57" y="187.63" width="1.3" height="1.3" fill="#1a1aff"/>
<rect x="155.03" y="192.08" width="1.3" height="1.3" fill="#1a1aff"/>
<rect x="154.67" y="201.45" width="1.3" height="1.3" fill="#1a1aff"/>
<rect x="156.39" y="192.29" width="1.3" height="1.3" fill="#1a1aff"/>
<rect x="149.67" y="198.59" width="1.3" height="1.3" fill="#1a1aff"/>
<rect x="157.8" y="198.25" width="1.3" height="1.3" fill="#1a1aff"/>
<rect x="161.42" y="191.38" width="1.3" height="1.3" fill="#1a1aff"/>
<rect x="151.95" y="197.6" width="1.3" height="1.3" fill="#1a1aff"/>
<rect x="157.79" y="197.19" width="1.3" height="1.3" fill="#1a1aff"/>
<rect x="152.75" y="202.51" width="1.3" height="1.3" fill="#1a1aff"/>
<rect x="156.78" y="199.43" width="1.3" height="1.3" fill="#1a1aff"/>
<rect x="154.9" y="202.56" width="1.3" height="1.3" fill="#1a1aff"/>
<rect x="162.24" y="194.46" width="1.3" height="1.3" fill="#1a1aff"/>
<rect x="159.77" y="192.15" width="1.3" height="1.3" fill="#1a1aff"/>
<rect x="154.19" y="194.36" width="1.3" height="1.3" fill="#1a1aff"/>
<rect x="154.56" y="195.23" width="1.3" height="1.3" fill="#1a1aff"/>
<rect x="159.12" y="195.78" width="1.3" height="1.3" fill="#1a1aff"/>
<rect x="159.37" y="199.19" width="1.3" height="1.3" fill="#1a1aff"/>
<rect x="152.35" y="199.3" width="1.3" height="1.3" fill="#1a1aff"/>
<rect x="159.3" y="191.13" width="1.3" height="1.3" fill="#1a1aff"/>
<rect x="152.38" y="190.5" width="1.3" height="1.3" fill="#1a1aff"/>
<rect x="157.9" y="191.06" width="1.3" height="1.3" fill="#1a1aff"/>
<rect x="156.98" y="199.78" width="1.3" height="1.3" fill="#1a1aff"/>
<rect x="152.78" y="193.49" width="1.3" height="1.3" fill="#1a1aff"/>
<rect x="157.05" y="191.1" width="1.3" height="1.3" fill="#1a1aff"/>
<rect x="154.17" y="196.39" width="1.3" height="1.3" fill="#1a1aff"/>
<rect x="154.46" y="196.99" width="1.3" height="1.3" fill="#1a1aff"/>
<rect x="154.53" y="196.65" width="1.3" height="1.3" fill="#1a1aff"/>
<rect x="162.03" y="189.75" width="1.3" height="1.3" fill="#2a8cff"/>
<rect x="156.24" y="193.75" width="1.3" height="1.3" fill="#1a1aff"/>
<rect x="161.08" y="192.11" width="1.3" height="1.3" fill="#1a1aff"/>
<rect x="155.3" y="195.25" width="1.3" height="1.3" fill="#1a1aff"/>
<rect x="154.29" y="191.47" width="1.3" height="1.3" fill="#1a1aff"/>
<rect x="154.12" y="197.82" width="1.3" height="1.3" fill="#1a1aff"/>
<rect x="157.31" y="195.58" width="1.3" height="1.3" fill="#1a1aff"/>
<rect x="154.5" y="201.45" width="1.3" height="1.3" fill="#1a1aff"/>
<rect x="154.26" y="196.82" width="1.3" height="1.3" fill="#1a1aff"/>
<rect x="155.85" y="195.52" width="1.3" height="1.3" fill="#1a1aff"/>
<rect x="154.54" y="197.05" width="1.3" height="1.3" fill="#1a1aff"/>
<rect x="157.75" y="194.53" width="1.3" height="1.3" fill="#1a1aff"/>
<rect x="155.34" y="194.75" width="1.3" height="1.3" fill="#1a1aff"/>
<rect x="158.92" y="193.27" width="1.3" height="1.3" fill="#1a1aff"/>
<rect x="157.02" y="200.13" width="1.3" height="1.3" fill="#1a1aff"/>
<rect x="151.96" y="199.16" width="1.3" height="1.3" fill="#1a1aff"/>
<rect x="156.99" y="193.43" width="1.3" height="1.3" fill="#1a1aff"/>
<rect x="154.87" y="196.71" width="1.3" height="1.3" fill="#1a1aff"/>
<rect x="157.29" y="197.05" width="1.3" height="1.3" fill="#1a1aff"/>
<rect x="156.1" y="193.63" width="1.3" height="1.3" fill="#1a1aff"/>
<rect x="151.14" y="194.74" width="1.3" height="1.3" fill="#1a1aff"/>
<rect x="156.25" y="198.48" width="1.3" height="1.3" fill="#1a1aff"/>
<rect x="158.82" y="198.08" width="1.3" height="1.3" fill="#1a1aff"/>
<rect x="156.28" y="197.55" width="1.3" height="1.3" fill="#1a1aff"/>
<rect x="155.66" y="192.2" width="1.3" height="1.3" fill="#1a1aff"/>
<rect x="156.18" y="190.43" width="1.3" height="1.3" fill="#1a1aff"/>
<rect x="151.89" y="194.34" width="1.3" height="1.3" fill="#1a1aff"/>
<rect x="153.6" y="195.66" width="1.3" height="1.3" fill="#1a1aff"/>
<rect x="154" y="190.6" width="1.3" height="1.3" fill="#1a1aff"/>
<rect x="163.09" y="189.76" width="1.3" height="1.3" fill="#1a1aff"/>
<rect x="166.54" y="191.31" width="1.3" height="1.3" fill="#1a1aff"/>
<rect x="158.67" y="182.89" width="1.3" height="1.3" fill="#1a1aff"/>
<rect x="158.45" y="184.89" width="1.3" height="1.3" fill="#1a1aff"/>
<rect x="154.64" y="194.75" width="1.3" height="1.3" fill="#1a1aff"/>
<rect x="154" y="192.46" width="1.3" height="1.3" fill="#1a1aff"/>
<rect x="164.31" y="185" width="1.3" height="1.3" fill="#2a8cff"/>
<rect x="146.51" y="200.82" width="1.3" height="1.3" fill="#1a1aff"/>
<rect x="167.72" y="202.56" width="1.3" height="1.3" fill="#1a1aff"/>
<rect x="157.76" y="188.01" width="1.3" height="1.3" fill="#1a1aff"/>
<rect x="150.14" y="180.51" width="1.3" height="1.3" fill="#1a1aff"/>
<rect x="164.6" y="180.42" width="1.3" height="1.3" fill="#1a1aff"/>
<g filter="url(#sb)">
<ellipse cx="170" cy="182.3" rx="13" ry="2.67" fill="#44eeff" transform="rotate(-54 170 182.3)"/>
<ellipse cx="170.2" cy="181.9" rx="12.4" ry="2.39" fill="#44ff22" transform="rotate(-54 170.2 181.9)"/>
<ellipse cx="170.7" cy="180.8" rx="6.4" ry="1.56" fill="#e0ff00" transform="rotate(-54 170.7 180.8)"/>
<ellipse cx="170.7" cy="180.8" rx="5.7" ry="1.2" fill="#ff0000" transform="rotate(-54 170.7 180.8)"/>
</g>
<text x="98" y="65.6" font-size="12" text-anchor="middle" textLength="22" lengthAdjust="spacingAndGlyphs">0.14</text>
<text x="197.5" y="65.6" font-size="12" text-anchor="middle" textLength="20.5" lengthAdjust="spacingAndGlyphs">3.23</text>
<text x="98.5" y="158.6" font-size="12" text-anchor="middle" textLength="22" lengthAdjust="spacingAndGlyphs">0.09</text>
<text x="197.5" y="158.6" font-size="12" text-anchor="middle" textLength="21" lengthAdjust="spacingAndGlyphs">0.22</text>
<text x="232.5" y="92" font-size="12.3" text-anchor="middle" textLength="24.4" lengthAdjust="spacingAndGlyphs" transform="rotate(-90 232.5 92)">Liver</text>
<text x="232.6" y="185.2" font-size="12.3" text-anchor="middle" textLength="37" lengthAdjust="spacingAndGlyphs" transform="rotate(-90 232.6 185.2)">Spleen</text>
<text x="25.6" y="111.2" font-size="12.3" text-anchor="middle" textLength="52" lengthAdjust="spacingAndGlyphs" transform="rotate(-90 25.6 111.2)">IFN-β/YFP</text>
<line x1="22.7" y1="208" x2="22.7" y2="158" stroke="#000" stroke-width="1.6"/>
<polygon points="22.7,146.5 19.2,161 26.2,161" fill="#000"/>
<line x1="48.8" y1="241" x2="98" y2="241" stroke="#000" stroke-width="1.6"/>
<polygon points="109.5,241 96,237.6 96,244.4" fill="#000"/>
<text x="173" y="244.6" font-size="11.5" text-anchor="middle" textLength="94" lengthAdjust="spacingAndGlyphs">Autofluorescence</text>
<text x="284.5" y="23.6" font-size="16.5" font-weight="bold" fill="#000">B</text>
<rect x="347.85" y="100.3" width="7.5" height="3.1" fill="#c8000f"/>
<line x1="351.6" y1="100.8" x2="351.6" y2="99.75" stroke="#c8000f" stroke-width="1.6"/>
<line x1="349.3" y1="99.75" x2="353.9" y2="99.75" stroke="#c8000f" stroke-width="1.6"/>
<rect x="354.15" y="101.03" width="7.5" height="2.37" fill="#0533aa"/>
<line x1="357.9" y1="101.53" x2="357.9" y2="100.12" stroke="#0533aa" stroke-width="1.6"/>
<line x1="355.6" y1="100.12" x2="360.2" y2="100.12" stroke="#0533aa" stroke-width="1.6"/>
<rect x="373.85" y="42.63" width="7.5" height="60.77" fill="#c8000f"/>
<line x1="377.6" y1="43.13" x2="377.6" y2="35.88" stroke="#c8000f" stroke-width="1.6"/>
<line x1="375.3" y1="35.88" x2="379.9" y2="35.88" stroke="#c8000f" stroke-width="1.6"/>
<rect x="380.15" y="101.03" width="7.5" height="2.37" fill="#0533aa"/>
<line x1="383.9" y1="101.53" x2="383.9" y2="100.12" stroke="#0533aa" stroke-width="1.6"/>
<line x1="381.6" y1="100.12" x2="386.2" y2="100.12" stroke="#0533aa" stroke-width="1.6"/>
<rect x="386.45" y="100.66" width="7.5" height="2.74" fill="#3cff00"/>
<line x1="390.2" y1="101.16" x2="390.2" y2="99.39" stroke="#3cff00" stroke-width="1.6"/>
<line x1="387.9" y1="99.39" x2="392.5" y2="99.39" stroke="#3cff00" stroke-width="1.6"/>
<rect x="399.85" y="94.46" width="7.5" height="8.94" fill="#c8000f"/>
<line x1="403.6" y1="94.96" x2="403.6" y2="92.09" stroke="#c8000f" stroke-width="1.6"/>
<line x1="401.3" y1="92.09" x2="405.9" y2="92.09" stroke="#c8000f" stroke-width="1.6"/>
<rect x="406.15" y="92.63" width="7.5" height="10.77" fill="#0533aa"/>
<line x1="409.9" y1="93.13" x2="409.9" y2="87.89" stroke="#0533aa" stroke-width="1.6"/>
<line x1="407.6" y1="87.89" x2="412.2" y2="87.89" stroke="#0533aa" stroke-width="1.6"/>
<rect x="412.45" y="102.31" width="7.5" height="1.09" fill="#3cff00"/>
<line x1="416.2" y1="102.81" x2="416.2" y2="101.21" stroke="#3cff00" stroke-width="1.6"/>
<line x1="413.9" y1="101.21" x2="418.5" y2="101.21" stroke="#3cff00" stroke-width="1.6"/>
<rect x="425.85" y="88.8" width="7.5" height="14.6" fill="#c8000f"/>
<line x1="429.6" y1="89.3" x2="429.6" y2="85.7" stroke="#c8000f" stroke-width="1.6"/>
<line x1="427.3" y1="85.7" x2="431.9" y2="85.7" stroke="#c8000f" stroke-width="1.6"/>
<rect x="432.15" y="98.84" width="7.5" height="4.56" fill="#0533aa"/>
<line x1="435.9" y1="99.34" x2="435.9" y2="97.38" stroke="#0533aa" stroke-width="1.6"/>
<line x1="433.6" y1="97.38" x2="438.2" y2="97.38" stroke="#0533aa" stroke-width="1.6"/>
<rect x="438.45" y="103.04" width="7.5" height="0.36" fill="#3cff00"/>
<line x1="442.2" y1="103.54" x2="442.2" y2="102.85" stroke="#3cff00" stroke-width="1.6"/>
<line x1="439.9" y1="102.85" x2="444.5" y2="102.85" stroke="#3cff00" stroke-width="1.6"/>
<rect x="458.15" y="100.48" width="7.5" height="2.92" fill="#0533aa"/>
<line x1="461.9" y1="100.98" x2="461.9" y2="100.3" stroke="#0533aa" stroke-width="1.6"/>
<line x1="459.6" y1="100.3" x2="464.2" y2="100.3" stroke="#0533aa" stroke-width="1.6"/>
<rect x="484.15" y="103.04" width="7.5" height="0.36" fill="#0533aa"/>
<line x1="487.9" y1="103.54" x2="487.9" y2="102.85" stroke="#0533aa" stroke-width="1.6"/>
<line x1="485.6" y1="102.85" x2="490.2" y2="102.85" stroke="#0533aa" stroke-width="1.6"/>
<rect x="496.75" y="103.04" width="7.5" height="0.36" fill="#190096"/>
<line x1="348" y1="29.8" x2="348" y2="104.2" stroke="#000" stroke-width="1.6"/>
<line x1="347.2" y1="103.4" x2="505" y2="103.4" stroke="#000" stroke-width="1.6"/>
<line x1="343" y1="103.4" x2="348" y2="103.4" stroke="#000" stroke-width="1.4"/>
<text x="338.6" y="107.5" font-size="11.8" text-anchor="end">0</text>
<line x1="343" y1="85.15" x2="348" y2="85.15" stroke="#000" stroke-width="1.4"/>
<text x="338.6" y="89.25" font-size="11.8" text-anchor="end">1</text>
<line x1="343" y1="66.9" x2="348" y2="66.9" stroke="#000" stroke-width="1.4"/>
<text x="338.6" y="71" font-size="11.8" text-anchor="end">2</text>
<line x1="343" y1="48.65" x2="348" y2="48.65" stroke="#000" stroke-width="1.4"/>
<text x="338.6" y="52.75" font-size="11.8" text-anchor="end">3</text>
<line x1="343" y1="30.4" x2="348" y2="30.4" stroke="#000" stroke-width="1.4"/>
<text x="338.6" y="34.5" font-size="11.8" text-anchor="end">4</text>
<line x1="361" y1="103.4" x2="361" y2="108.6" stroke="#000" stroke-width="1.5"/>
<line x1="387" y1="103.4" x2="387" y2="108.6" stroke="#000" stroke-width="1.5"/>
<line x1="413" y1="103.4" x2="413" y2="108.6" stroke="#000" stroke-width="1.5"/>
<line x1="439" y1="103.4" x2="439" y2="108.6" stroke="#000" stroke-width="1.5"/>
<line x1="465" y1="103.4" x2="465" y2="108.6" stroke="#000" stroke-width="1.5"/>
<line x1="491" y1="103.4" x2="491" y2="108.6" stroke="#000" stroke-width="1.5"/>
<rect x="451" y="29.4" width="17.5" height="5.2" fill="#c8000f"/>
<text x="473.5" y="35.9" font-size="11">Liver</text>
<rect x="451" y="41.4" width="17.5" height="5.2" fill="#0533aa"/>
<text x="473.5" y="47.9" font-size="11">Spleen</text>
<rect x="451" y="53.4" width="17.5" height="5.2" fill="#3cff00"/>
<text x="473.5" y="59.9" font-size="11">BM</text>
<rect x="451" y="64.9" width="17.5" height="5.2" fill="#190096"/>
<text x="473.5" y="71.4" font-size="11">Blood</text>
<text x="327.3" y="68" font-size="13" text-anchor="middle" textLength="89" lengthAdjust="spacingAndGlyphs" transform="rotate(-90 327.3 68)">% IFN-β/YFP<tspan font-size="9" dy="-4.5">+</tspan><tspan dy="4.5">cells</tspan></text>
<text x="361" y="120.5" font-size="12" text-anchor="end" textLength="58.5" lengthAdjust="spacingAndGlyphs" transform="rotate(-45 361 120.5)">Neutrophil</text>
<text x="387" y="120.5" font-size="12" text-anchor="end" textLength="18" lengthAdjust="spacingAndGlyphs" transform="rotate(-45 387 120.5)">Mφ</text>
<text x="413" y="120.5" font-size="12" text-anchor="end" textLength="23.5" lengthAdjust="spacingAndGlyphs" transform="rotate(-45 413 120.5)">cDC</text>
<text x="439" y="120.5" font-size="12" text-anchor="end" textLength="54" lengthAdjust="spacingAndGlyphs" transform="rotate(-45 439 120.5)">Monocyte</text>
<text x="465" y="120.5" font-size="12" text-anchor="end" textLength="23.5" lengthAdjust="spacingAndGlyphs" transform="rotate(-45 465 120.5)">pDC</text>
<text x="491" y="120.5" font-size="12" text-anchor="end" textLength="62" lengthAdjust="spacingAndGlyphs" transform="rotate(-45 491 120.5)">Lymphocyte</text>
<text x="283.7" y="179.4" font-size="16.5" font-weight="bold" fill="#000">C</text>
<rect x="342" y="263.88" width="7.2" height="1.82" fill="#c8000f"/>
<line x1="345.6" y1="264.38" x2="345.6" y2="263.52" stroke="#c8000f" stroke-width="1.6"/>
<line x1="343.3" y1="263.52" x2="347.9" y2="263.52" stroke="#c8000f" stroke-width="1.6"/>
<rect x="348.4" y="264.24" width="7.2" height="1.46" fill="#0533aa"/>
<line x1="352" y1="264.74" x2="352" y2="263.88" stroke="#0533aa" stroke-width="1.6"/>
<line x1="349.7" y1="263.88" x2="354.3" y2="263.88" stroke="#0533aa" stroke-width="1.6"/>
<rect x="361.2" y="265.34" width="7.2" height="0.36" fill="#190096"/>
<rect x="368.2" y="204.91" width="7.2" height="60.79" fill="#c8000f"/>
<line x1="371.8" y1="205.41" x2="371.8" y2="198" stroke="#c8000f" stroke-width="1.6"/>
<line x1="369.5" y1="198" x2="374.1" y2="198" stroke="#c8000f" stroke-width="1.6"/>
<rect x="374.6" y="264.83" width="7.2" height="0.87" fill="#0533aa"/>
<line x1="378.2" y1="265.33" x2="378.2" y2="264.61" stroke="#0533aa" stroke-width="1.6"/>
<line x1="375.9" y1="264.61" x2="380.5" y2="264.61" stroke="#0533aa" stroke-width="1.6"/>
<rect x="381" y="264.83" width="7.2" height="0.87" fill="#3cff00"/>
<line x1="384.6" y1="265.33" x2="384.6" y2="264.61" stroke="#3cff00" stroke-width="1.6"/>
<line x1="382.3" y1="264.61" x2="386.9" y2="264.61" stroke="#3cff00" stroke-width="1.6"/>
<rect x="394.4" y="262.79" width="7.2" height="2.91" fill="#c8000f"/>
<line x1="398" y1="263.29" x2="398" y2="260.6" stroke="#c8000f" stroke-width="1.6"/>
<line x1="395.7" y1="260.6" x2="400.3" y2="260.6" stroke="#c8000f" stroke-width="1.6"/>
<rect x="400.8" y="264.83" width="7.2" height="0.87" fill="#0533aa"/>
<line x1="404.4" y1="265.33" x2="404.4" y2="264.61" stroke="#0533aa" stroke-width="1.6"/>
<line x1="402.1" y1="264.61" x2="406.7" y2="264.61" stroke="#0533aa" stroke-width="1.6"/>
<rect x="407.2" y="265.55" width="7.2" height="0.15" fill="#3cff00"/>
<rect x="420.6" y="237.02" width="7.2" height="28.68" fill="#c8000f"/>
<line x1="424.2" y1="237.52" x2="424.2" y2="228.14" stroke="#c8000f" stroke-width="1.6"/>
<line x1="421.9" y1="228.14" x2="426.5" y2="228.14" stroke="#c8000f" stroke-width="1.6"/>
<rect x="427" y="260.24" width="7.2" height="5.46" fill="#0533aa"/>
<line x1="430.6" y1="260.74" x2="430.6" y2="257.4" stroke="#0533aa" stroke-width="1.6"/>
<line x1="428.3" y1="257.4" x2="432.9" y2="257.4" stroke="#0533aa" stroke-width="1.6"/>
<rect x="433.4" y="264.83" width="7.2" height="0.87" fill="#3cff00"/>
<line x1="437" y1="265.33" x2="437" y2="264.61" stroke="#3cff00" stroke-width="1.6"/>
<line x1="434.7" y1="264.61" x2="439.3" y2="264.61" stroke="#3cff00" stroke-width="1.6"/>
<rect x="453.2" y="265.55" width="7.2" height="0.15" fill="#0533aa"/>
<rect x="479.4" y="265.48" width="7.2" height="0.22" fill="#0533aa"/>
<rect x="485.8" y="265.48" width="7.2" height="0.22" fill="#3cff00"/>
<rect x="492.2" y="265.55" width="7.2" height="0.15" fill="#190096"/>
<line x1="341.6" y1="192.6" x2="341.6" y2="266.5" stroke="#000" stroke-width="1.6"/>
<line x1="340.8" y1="265.7" x2="498" y2="265.7" stroke="#000" stroke-width="1.6"/>
<line x1="336.6" y1="265.7" x2="341.6" y2="265.7" stroke="#000" stroke-width="1.4"/>
<text x="333.2" y="269.8" font-size="11.8" text-anchor="end">0</text>
<line x1="336.6" y1="251.14" x2="341.6" y2="251.14" stroke="#000" stroke-width="1.4"/>
<text x="333.2" y="255.24" font-size="11.8" text-anchor="end">2</text>
<line x1="336.6" y1="236.58" x2="341.6" y2="236.58" stroke="#000" stroke-width="1.4"/>
<text x="333.2" y="240.68" font-size="11.8" text-anchor="end">4</text>
<line x1="336.6" y1="222.02" x2="341.6" y2="222.02" stroke="#000" stroke-width="1.4"/>
<text x="333.2" y="226.12" font-size="11.8" text-anchor="end">6</text>
<line x1="336.6" y1="207.46" x2="341.6" y2="207.46" stroke="#000" stroke-width="1.4"/>
<text x="333.2" y="211.56" font-size="11.8" text-anchor="end">8</text>
<line x1="336.6" y1="192.9" x2="341.6" y2="192.9" stroke="#000" stroke-width="1.4"/>
<text x="333.2" y="197" font-size="11.8" text-anchor="end">10</text>
<line x1="354.4" y1="265.7" x2="354.4" y2="270.9" stroke="#000" stroke-width="1.5"/>
<line x1="380.6" y1="265.7" x2="380.6" y2="270.9" stroke="#000" stroke-width="1.5"/>
<line x1="406.8" y1="265.7" x2="406.8" y2="270.9" stroke="#000" stroke-width="1.5"/>
<line x1="433" y1="265.7" x2="433" y2="270.9" stroke="#000" stroke-width="1.5"/>
<line x1="459.2" y1="265.7" x2="459.2" y2="270.9" stroke="#000" stroke-width="1.5"/>
<line x1="485.4" y1="265.7" x2="485.4" y2="270.9" stroke="#000" stroke-width="1.5"/>
<rect x="451.5" y="192.2" width="17.5" height="5.2" fill="#c8000f"/>
<text x="473.8" y="198.7" font-size="10.5">Liver</text>
<rect x="451.5" y="203.9" width="17.5" height="5.2" fill="#0533aa"/>
<text x="473.8" y="210.4" font-size="10.5">Spleen</text>
<rect x="451.5" y="215.6" width="17.5" height="5.2" fill="#3cff00"/>
<text x="473.8" y="222.1" font-size="10.5">BM</text>
<rect x="451.5" y="227.3" width="17.5" height="5.2" fill="#190096"/>
<text x="473.8" y="233.8" font-size="10.5">Blood</text>
<text x="293" y="229.1" font-size="13.5" text-anchor="middle" textLength="88.5" lengthAdjust="spacingAndGlyphs" transform="rotate(-90 293 229.1)"># IFN-β/YFP<tspan font-size="9" dy="-4.5">+</tspan><tspan dy="4.5"> cells</tspan></text>
<text x="310" y="230.5" font-size="13.5" text-anchor="middle" textLength="60.5" lengthAdjust="spacingAndGlyphs" transform="rotate(-90 310 230.5)">(10<tspan font-size="9" dy="-4.5">4</tspan><tspan dy="4.5">/organ)</tspan></text>
<text x="354.4" y="283" font-size="12" text-anchor="end" textLength="58.5" lengthAdjust="spacingAndGlyphs" transform="rotate(-45 354.4 283)">Neutrophil</text>
<text x="380.6" y="283" font-size="12" text-anchor="end" textLength="18" lengthAdjust="spacingAndGlyphs" transform="rotate(-45 380.6 283)">Mφ</text>
<text x="406.8" y="283" font-size="12" text-anchor="end" textLength="23.5" lengthAdjust="spacingAndGlyphs" transform="rotate(-45 406.8 283)">cDC</text>
<text x="433" y="283" font-size="12" text-anchor="end" textLength="54" lengthAdjust="spacingAndGlyphs" transform="rotate(-45 433 283)">Monocyte</text>
<text x="459.2" y="283" font-size="12" text-anchor="end" textLength="23.5" lengthAdjust="spacingAndGlyphs" transform="rotate(-45 459.2 283)">pDC</text>
<text x="485.4" y="283" font-size="12" text-anchor="end" textLength="62" lengthAdjust="spacingAndGlyphs" transform="rotate(-45 485.4 283)">Lymphocyte</text>
<text x="8.1" y="380.2" font-size="16.5" font-weight="bold" textLength="13" lengthAdjust="spacingAndGlyphs" fill="#000">D</text>
<circle cx="58.5" cy="395.2" r="2.4" fill="#c8000f"/>
<rect x="56.2" y="405.2" width="4.8" height="4.8" fill="#0533aa"/>
<text x="66.2" y="400.8" font-size="11" textLength="44.6" lengthAdjust="spacingAndGlyphs">PBS-Lipo</text>
<text x="66.2" y="412" font-size="11" textLength="42" lengthAdjust="spacingAndGlyphs">Clo-Lipo</text>
<line x1="54.3" y1="414.8" x2="54.3" y2="490.5" stroke="#000" stroke-width="1.7"/>
<line x1="53.45" y1="489.6" x2="129" y2="489.6" stroke="#000" stroke-width="1.8"/>
<line x1="49.5" y1="489.6" x2="54.3" y2="489.6" stroke="#000" stroke-width="1.5"/>
<text x="44.6" y="493.7" font-size="11.8" text-anchor="end">0</text>
<line x1="49.5" y1="464.9" x2="54.3" y2="464.9" stroke="#000" stroke-width="1.5"/>
<text x="44.6" y="469" font-size="11.8" text-anchor="end">10</text>
<line x1="49.5" y1="440.2" x2="54.3" y2="440.2" stroke="#000" stroke-width="1.5"/>
<text x="44.6" y="444.3" font-size="11.8" text-anchor="end">20</text>
<line x1="49.5" y1="415.5" x2="54.3" y2="415.5" stroke="#000" stroke-width="1.5"/>
<text x="44.6" y="419.6" font-size="11.8" text-anchor="end">30</text>
<line x1="72.4" y1="489.6" x2="72.4" y2="494.4" stroke="#000" stroke-width="1.6"/>
<line x1="109.9" y1="489.6" x2="109.9" y2="494.4" stroke="#000" stroke-width="1.6"/>
<circle cx="61.7" cy="485.8" r="2.3" fill="#c8000f"/>
<circle cx="64.2" cy="487.8" r="2.3" fill="#c8000f"/>
<circle cx="67.8" cy="486.2" r="2.3" fill="#c8000f"/>
<circle cx="69" cy="487.4" r="2.3" fill="#c8000f"/>
<circle cx="63" cy="486.2" r="2.3" fill="#c8000f"/>
<line x1="59.5" y1="487.4" x2="70.5" y2="487.4" stroke="#c8000f" stroke-width="1.4"/>
<rect x="74.75" y="486.05" width="4.5" height="4.5" fill="#0533aa"/>
<rect x="77.75" y="486.55" width="4.5" height="4.5" fill="#0533aa"/>
<rect x="80.75" y="485.55" width="4.5" height="4.5" fill="#0533aa"/>
<rect x="82.75" y="485.05" width="4.5" height="4.5" fill="#0533aa"/>
<rect x="77.25" y="487.25" width="4.5" height="4.5" fill="#0533aa"/>
<rect x="79.25" y="484.65" width="4.5" height="4.5" fill="#0533aa"/>
<circle cx="102.1" cy="416.5" r="2.4" fill="#c8000f"/>
<circle cx="98.9" cy="437.9" r="2.4" fill="#c8000f"/>
<circle cx="105" cy="437.9" r="2.4" fill="#c8000f"/>
<line x1="96.1" y1="430.4" x2="108.1" y2="430.4" stroke="#c8000f" stroke-width="1.5"/>
<line x1="102.1" y1="424" x2="102.1" y2="436.7" stroke="#c8000f" stroke-width="1.5"/>
<line x1="99.8" y1="424" x2="104.4" y2="424" stroke="#c8000f" stroke-width="1.5"/>
<line x1="99.8" y1="436.7" x2="104.4" y2="436.7" stroke="#c8000f" stroke-width="1.5"/>
<rect x="115.2" y="464.4" width="4.6" height="4.6" fill="#0533aa"/>
<rect x="110.7" y="476.5" width="4.6" height="4.6" fill="#0533aa"/>
<rect x="119.4" y="475.6" width="4.6" height="4.6" fill="#0533aa"/>
<rect x="113.7" y="474.9" width="4.6" height="4.6" fill="#0533aa"/>
<rect x="118.2" y="482.4" width="4.6" height="4.6" fill="#0533aa"/>
<rect x="112.2" y="486" width="4.6" height="4.6" fill="#0533aa"/>
<rect x="116" y="478.2" width="4.6" height="4.6" fill="#0533aa"/>
<line x1="111.5" y1="478.6" x2="123.5" y2="478.6" stroke="#0533aa" stroke-width="1.5"/>
<line x1="117.5" y1="476" x2="117.5" y2="481" stroke="#0533aa" stroke-width="1.5"/>
<line x1="115.2" y1="476" x2="119.8" y2="476" stroke="#0533aa" stroke-width="1.5"/>
<line x1="115.2" y1="481" x2="119.8" y2="481" stroke="#0533aa" stroke-width="1.5"/>
<polygon points="117.5,455.5 118.21,457.22 120.07,457.37 118.66,458.58 119.09,460.38 117.5,459.41 115.91,460.38 116.34,458.58 114.93,457.37 116.79,457.22" fill="#111"/>
<text x="70.3" y="504.7" font-size="11.5" text-anchor="middle" textLength="40" lengthAdjust="spacingAndGlyphs">Control</text>
<text x="113.6" y="504.7" font-size="11.5" text-anchor="middle" textLength="34" lengthAdjust="spacingAndGlyphs">Hemin</text>
<text x="22.2" y="452.6" font-size="13.5" text-anchor="middle" textLength="69.5" lengthAdjust="spacingAndGlyphs" transform="rotate(-90 22.2 452.6)">IFN-α (pg/ml)</text>
<text x="177.9" y="380" font-size="16.5" font-weight="bold" fill="#000">E</text>
<circle cx="236.6" cy="404.6" r="2.4" fill="#c8000f"/>
<polygon points="236.6,413.75 234.1,418.55 239.1,418.55" fill="#0533aa"/>
<text x="244" y="408.2" font-size="11" textLength="42.7" lengthAdjust="spacingAndGlyphs">WT mice</text>
<text x="244" y="419.7" font-size="11" textLength="59" lengthAdjust="spacingAndGlyphs">TLR4<tspan font-size="7" dy="-4">-/-</tspan><tspan dy="4"> mice</tspan></text>
<line x1="231.4" y1="415.4" x2="231.4" y2="490.1" stroke="#000" stroke-width="1.7"/>
<line x1="230.55" y1="489.2" x2="305" y2="489.2" stroke="#000" stroke-width="1.8"/>
<line x1="226.6" y1="489.2" x2="231.4" y2="489.2" stroke="#000" stroke-width="1.5"/>
<text x="221" y="493.3" font-size="11.8" text-anchor="end">0</text>
<line x1="226.6" y1="464.8" x2="231.4" y2="464.8" stroke="#000" stroke-width="1.5"/>
<text x="221" y="468.9" font-size="11.8" text-anchor="end">10</text>
<line x1="226.6" y1="440.4" x2="231.4" y2="440.4" stroke="#000" stroke-width="1.5"/>
<text x="221" y="444.5" font-size="11.8" text-anchor="end">20</text>
<line x1="226.6" y1="416" x2="231.4" y2="416" stroke="#000" stroke-width="1.5"/>
<text x="221" y="420.1" font-size="11.8" text-anchor="end">30</text>
<line x1="248.7" y1="489.2" x2="248.7" y2="494" stroke="#000" stroke-width="1.6"/>
<line x1="286.3" y1="489.2" x2="286.3" y2="494" stroke="#000" stroke-width="1.6"/>
<circle cx="238" cy="488.3" r="2.2" fill="#c8000f"/>
<circle cx="240.5" cy="489" r="2.2" fill="#c8000f"/>
<circle cx="243" cy="488.4" r="2.2" fill="#c8000f"/>
<circle cx="245" cy="488.8" r="2.2" fill="#c8000f"/>
<circle cx="241.5" cy="487.6" r="2.2" fill="#c8000f"/>
<polygon points="252.5,486.32 250.3,490.58 254.7,490.58" fill="#0533aa"/>
<polygon points="255.5,485.92 253.3,490.18 257.7,490.18" fill="#0533aa"/>
<polygon points="258.5,486.52 256.3,490.78 260.7,490.78" fill="#0533aa"/>
<polygon points="261,486.12 258.8,490.38 263.2,490.38" fill="#0533aa"/>
<line x1="251.5" y1="488.3" x2="262" y2="488.3" stroke="#0533aa" stroke-width="1.3"/>
<circle cx="275" cy="431.5" r="2.2" fill="#c8000f"/>
<circle cx="281.2" cy="435.4" r="2.2" fill="#c8000f"/>
<circle cx="274.2" cy="437" r="2.2" fill="#c8000f"/>
<circle cx="282.7" cy="437.3" r="2.2" fill="#c8000f"/>
<circle cx="278.5" cy="442.3" r="2.2" fill="#c8000f"/>
<circle cx="277.7" cy="443.8" r="2.2" fill="#c8000f"/>
<circle cx="277" cy="438" r="2.2" fill="#c8000f"/>
<circle cx="279.5" cy="436.5" r="2.2" fill="#c8000f"/>
<line x1="272" y1="437.3" x2="284" y2="437.3" stroke="#c8000f" stroke-width="1.4"/>
<polygon points="293.5,423.83 291.2,428.27 295.8,428.27" fill="#0533aa"/>
<polygon points="290.4,443.03 288.1,447.47 292.7,447.47" fill="#0533aa"/>
<polygon points="289,435.13 286.7,439.57 291.3,439.57" fill="#0533aa"/>
<polygon points="292.5,434.13 290.2,438.57 294.8,438.57" fill="#0533aa"/>
<polygon points="296,435.63 293.7,440.07 298.3,440.07" fill="#0533aa"/>
<polygon points="299.5,434.83 297.2,439.27 301.8,439.27" fill="#0533aa"/>
<polygon points="301,436.13 298.7,440.57 303.3,440.57" fill="#0533aa"/>
<polygon points="294.5,437.13 292.2,441.57 296.8,441.57" fill="#0533aa"/>
<line x1="287.5" y1="437.3" x2="301.5" y2="437.3" stroke="#0533aa" stroke-width="1.2"/>
<line x1="294.5" y1="433.8" x2="294.5" y2="440.6" stroke="#0533aa" stroke-width="1.2"/>
<line x1="292.1" y1="433.8" x2="296.9" y2="433.8" stroke="#0533aa" stroke-width="1.2"/>
<line x1="292.1" y1="440.6" x2="296.9" y2="440.6" stroke="#0533aa" stroke-width="1.2"/>
<text x="248" y="504.7" font-size="11.5" text-anchor="middle" textLength="40" lengthAdjust="spacingAndGlyphs">Control</text>
<text x="291" y="504.7" font-size="11.5" text-anchor="middle" textLength="34" lengthAdjust="spacingAndGlyphs">Hemin</text>
<text x="198.3" y="451.9" font-size="13.5" text-anchor="middle" textLength="69.5" lengthAdjust="spacingAndGlyphs" transform="rotate(-90 198.3 451.9)">IFN-α (pg/ml)</text>
<text x="354.5" y="380.5" font-size="16.5" font-weight="bold" fill="#000">F</text>
<circle cx="416.6" cy="401.3" r="2.3" fill="#c8000f"/>
<text x="424" y="405.2" font-size="11" textLength="37.5" lengthAdjust="spacingAndGlyphs">Control</text>
<polygon points="414.07,411.97 419.13,411.97 416.6,416.83" fill="#0533aa"/>
<text x="424" y="418.15" font-size="11" textLength="41" lengthAdjust="spacingAndGlyphs">TAK-242</text>
<polygon points="414.07,424.92 419.13,424.92 416.6,429.78" fill="#3cff00"/>
<text x="424" y="431.1" font-size="11" textLength="56" lengthAdjust="spacingAndGlyphs">Amlexanox</text>
<polygon points="416.6,437.27 419.48,440.15 416.6,443.02 413.73,440.15" fill="#190096"/>
<text x="424" y="444.05" font-size="11" textLength="23" lengthAdjust="spacingAndGlyphs">NAC</text>
<polygon points="416.6,450.52 414.07,455.38 419.13,455.38" fill="#ff6a00"/>
<text x="424" y="457" font-size="11" textLength="35.5" lengthAdjust="spacingAndGlyphs">SnPPIX</text>
<line x1="411.3" y1="415.2" x2="411.3" y2="490.6" stroke="#000" stroke-width="1.7"/>
<line x1="410.45" y1="489.7" x2="507" y2="489.7" stroke="#000" stroke-width="1.8"/>
<line x1="406.5" y1="489.7" x2="411.3" y2="489.7" stroke="#000" stroke-width="1.5"/>
<text x="401.8" y="493.8" font-size="11.8" text-anchor="end">0</text>
<line x1="406.5" y1="464.94" x2="411.3" y2="464.94" stroke="#000" stroke-width="1.5"/>
<text x="401.8" y="469.04" font-size="11.8" text-anchor="end">20</text>
<line x1="406.5" y1="440.18" x2="411.3" y2="440.18" stroke="#000" stroke-width="1.5"/>
<text x="401.8" y="444.28" font-size="11.8" text-anchor="end">40</text>
<line x1="406.5" y1="415.42" x2="411.3" y2="415.42" stroke="#000" stroke-width="1.5"/>
<text x="401.8" y="419.52" font-size="11.8" text-anchor="end">60</text>
<line x1="434.9" y1="489.7" x2="434.9" y2="494.5" stroke="#000" stroke-width="1.6"/>
<line x1="483.6" y1="489.7" x2="483.6" y2="494.5" stroke="#000" stroke-width="1.6"/>
<circle cx="418" cy="488.3" r="2.3" fill="#c8000f"/>
<circle cx="420" cy="488.6" r="2.3" fill="#c8000f"/>
<polygon points="423.9,485.95 428.9,485.95 426.4,490.75" fill="#0533aa"/>
<polygon points="432.4,485.95 437.4,485.95 434.9,490.75" fill="#3cff00"/>
<polygon points="444,485.45 446.75,488.2 444,490.95 441.25,488.2" fill="#190096"/>
<polygon points="452.9,486.04 450.5,490.66 455.3,490.66" fill="#ff6a00"/>
<circle cx="465.6" cy="456" r="2.3" fill="#c8000f"/>
<circle cx="463.5" cy="459.9" r="2.3" fill="#c8000f"/>
<circle cx="467.7" cy="461.3" r="2.3" fill="#c8000f"/>
<circle cx="463.5" cy="468.8" r="2.3" fill="#c8000f"/>
<circle cx="466" cy="460" r="2.3" fill="#c8000f"/>
<line x1="461" y1="459.9" x2="470.5" y2="459.9" stroke="#c8000f" stroke-width="1.4"/>
<polygon points="469,459.75 474,459.75 471.5,464.55" fill="#0533aa"/>
<polygon points="473.8,452.95 478.8,452.95 476.3,457.75" fill="#0533aa"/>
<polygon points="475,458.25 480,458.25 477.5,463.05" fill="#0533aa"/>
<polygon points="472,464.75 477,464.75 474.5,469.55" fill="#0533aa"/>
<polygon points="476,460.75 481,460.75 478.5,465.55" fill="#0533aa"/>
<line x1="470.7" y1="462.8" x2="479.7" y2="462.8" stroke="#0533aa" stroke-width="1.3"/>
<line x1="475.2" y1="456.8" x2="475.2" y2="467" stroke="#0533aa" stroke-width="1.3"/>
<line x1="473" y1="456.8" x2="477.4" y2="456.8" stroke="#0533aa" stroke-width="1.3"/>
<line x1="473" y1="467" x2="477.4" y2="467" stroke="#0533aa" stroke-width="1.3"/>
<polygon points="480,484.05 485,484.05 482.5,488.85" fill="#3cff00"/>
<polygon points="481,485.35 486,485.35 483.5,490.15" fill="#3cff00"/>
<polygon points="483.1,472.6 483.81,474.32 485.67,474.47 484.26,475.68 484.69,477.48 483.1,476.51 481.51,477.48 481.94,475.68 480.53,474.47 482.39,474.32" fill="#111"/>
<polygon points="491.3,465.55 494.05,468.3 491.3,471.05 488.55,468.3" fill="#190096"/>
<polygon points="490.3,470.25 493.05,473 490.3,475.75 487.55,473" fill="#190096"/>
<polygon points="493,474.25 495.75,477 493,479.75 490.25,477" fill="#190096"/>
<polygon points="489,477.75 491.75,480.5 489,483.25 486.25,480.5" fill="#190096"/>
<polygon points="494.5,477.75 497.25,480.5 494.5,483.25 491.75,480.5" fill="#190096"/>
<polygon points="491,479.75 493.75,482.5 491,485.25 488.25,482.5" fill="#190096"/>
<polygon points="487.5,479.25 490.25,482 487.5,484.75 484.75,482" fill="#190096"/>
<polygon points="495,475.25 497.75,478 495,480.75 492.25,478" fill="#190096"/>
<line x1="486.5" y1="479.5" x2="496.5" y2="479.5" stroke="#190096" stroke-width="1.3"/>
<polygon points="492,455.7 492.71,457.42 494.57,457.57 493.16,458.78 493.59,460.58 492,459.61 490.41,460.58 490.84,458.78 489.43,457.57 491.29,457.42" fill="#111"/>
<polygon points="499.8,415.74 497.4,420.36 502.2,420.36" fill="#ff6a00"/>
<polygon points="499.5,431.54 497.1,436.16 501.9,436.16" fill="#ff6a00"/>
<polygon points="500,436.54 497.6,441.16 502.4,441.16" fill="#ff6a00"/>
<polygon points="499.8,446.04 497.4,450.66 502.2,450.66" fill="#ff6a00"/>
<line x1="495.3" y1="434.9" x2="504.3" y2="434.9" stroke="#ff6a00" stroke-width="1.4"/>
<line x1="499.8" y1="425.8" x2="499.8" y2="444.4" stroke="#ff6a00" stroke-width="1.4"/>
<line x1="497.5" y1="425.8" x2="502.1" y2="425.8" stroke="#ff6a00" stroke-width="1.4"/>
<line x1="497.5" y1="444.4" x2="502.1" y2="444.4" stroke="#ff6a00" stroke-width="1.4"/>
<polygon points="499.5,406.9 500.21,408.62 502.07,408.77 500.66,409.98 501.09,411.78 499.5,410.81 497.91,411.78 498.34,409.98 496.93,408.77 498.79,408.62" fill="#111"/>
<text x="435.3" y="504.7" font-size="11.5" text-anchor="middle" textLength="40" lengthAdjust="spacingAndGlyphs">Control</text>
<text x="482.6" y="504.7" font-size="11.5" text-anchor="middle" textLength="34" lengthAdjust="spacingAndGlyphs">Hemin</text>
<text x="378.7" y="452.7" font-size="13.5" text-anchor="middle" textLength="69.5" lengthAdjust="spacingAndGlyphs" transform="rotate(-90 378.7 452.7)">IFN-α (pg/ml)</text>
<text x="7.8" y="552.2" font-size="16.5" font-weight="bold" fill="#000">G</text>
<rect x="56.4" y="594.28" width="8.4" height="53.22" fill="#fff" stroke="#c8000f" stroke-width="1.9"/>
<rect x="69.5" y="605.1" width="8.4" height="42.4" fill="#fff" stroke="#0533aa" stroke-width="1.9"/>
<rect x="82.4" y="617.4" width="8.4" height="30.1" fill="#fff" stroke="#3cff00" stroke-width="1.9"/>
<rect x="95.4" y="626.01" width="8.4" height="21.49" fill="#fff" stroke="#190096" stroke-width="1.9"/>
<rect x="108.5" y="636.22" width="8.4" height="11.28" fill="#fff" stroke="#ff6a00" stroke-width="1.9"/>
<rect x="57" y="590" width="7.6" height="15.5" fill="#c8000f"/>
<polygon points="60.8,578.73 58.05,583.98 63.55,583.98" fill="#c8000f"/>
<polygon points="58.5,586.73 55.75,591.98 61.25,591.98" fill="#c8000f"/>
<polygon points="63,586.73 60.25,591.98 65.75,591.98" fill="#c8000f"/>
<polygon points="60.8,589.23 58.05,594.48 63.55,594.48" fill="#c8000f"/>
<polygon points="58.5,593.23 55.75,598.48 61.25,598.48" fill="#c8000f"/>
<polygon points="63,593.23 60.25,598.48 65.75,598.48" fill="#c8000f"/>
<polygon points="60.8,597.23 58.05,602.48 63.55,602.48" fill="#c8000f"/>
<polygon points="58.5,600.73 55.75,605.98 61.25,605.98" fill="#c8000f"/>
<polygon points="63,600.73 60.25,605.98 65.75,605.98" fill="#c8000f"/>
<rect x="58.6" y="594.9" width="1.2" height="1.2" fill="#fff"/>
<rect x="62" y="599.9" width="1.2" height="1.2" fill="#fff"/>
<rect x="58.9" y="602.4" width="1.2" height="1.2" fill="#fff"/>
<line x1="56.5" y1="593.5" x2="65" y2="593.5" stroke="#c8000f" stroke-width="1.4"/>
<circle cx="73.5" cy="590.2" r="2.4" fill="#0533aa"/>
<circle cx="70.3" cy="604.3" r="2.4" fill="#0533aa"/>
<circle cx="76.1" cy="606.4" r="2.4" fill="#0533aa"/>
<circle cx="77.1" cy="610.6" r="2.4" fill="#0533aa"/>
<circle cx="71.9" cy="614.8" r="2.4" fill="#0533aa"/>
<circle cx="73.2" cy="605" r="2.4" fill="#0533aa"/>
<line x1="70.1" y1="604.4" x2="77.1" y2="604.4" stroke="#0533aa" stroke-width="1.4"/>
<line x1="73.6" y1="600.8" x2="73.6" y2="608" stroke="#0533aa" stroke-width="1.4"/>
<line x1="71.4" y1="600.8" x2="75.8" y2="600.8" stroke="#0533aa" stroke-width="1.4"/>
<line x1="71.4" y1="608" x2="75.8" y2="608" stroke="#0533aa" stroke-width="1.4"/>
<polygon points="83.7,596.69 89.5,596.69 86.6,602.21" fill="#3cff00"/>
<polygon points="80.5,608.99 86.3,608.99 83.4,614.51" fill="#3cff00"/>
<polygon points="86.3,610.09 92.1,610.09 89.2,615.61" fill="#3cff00"/>
<polygon points="80.5,627.59 86.3,627.59 83.4,633.11" fill="#3cff00"/>
<polygon points="86.3,627.59 92.1,627.59 89.2,633.11" fill="#3cff00"/>
<polygon points="99.6,611.9 102.7,615 99.6,618.1 96.5,615" fill="#190096"/>
<polygon points="96.3,617.7 99.4,620.8 96.3,623.9 93.2,620.8" fill="#190096"/>
<polygon points="102,619.1 105.1,622.2 102,625.3 98.9,622.2" fill="#190096"/>
<polygon points="97.2,633.5 100.3,636.6 97.2,639.7 94.1,636.6" fill="#190096"/>
<polygon points="103,631.6 106.1,634.7 103,637.8 99.9,634.7" fill="#190096"/>
<line x1="96.6" y1="629.5" x2="102.6" y2="629.5" stroke="#190096" stroke-width="1.3"/>
<line x1="99.6" y1="627.5" x2="99.6" y2="631.5" stroke="#190096" stroke-width="1.3"/>
<line x1="97.4" y1="627.5" x2="101.8" y2="627.5" stroke="#190096" stroke-width="1.3"/>
<line x1="97.4" y1="631.5" x2="101.8" y2="631.5" stroke="#190096" stroke-width="1.3"/>
<path d="M119.5 647 C119.2 644 119.8 641.6 121.6 641 C122 639 123 637.6 124.5 637.4 L128.8 637.4 C130.2 637.6 131 639 131 640.2 C132.5 641 132.8 643.5 132.4 647 Z" fill="#006400"/>
<polygon points="87.5,584.1 88.21,585.82 90.07,585.97 88.66,587.18 89.09,588.98 87.5,588.01 85.91,588.98 86.34,587.18 84.93,585.97 86.79,585.82" fill="#111"/>
<polygon points="99.6,598.8 100.31,600.52 102.17,600.67 100.76,601.88 101.19,603.68 99.6,602.72 98.01,603.68 98.44,601.88 97.03,600.67 98.89,600.52" fill="#111"/>
<polygon points="113.5,613.7 114.21,615.42 116.07,615.57 114.66,616.78 115.09,618.58 113.5,617.62 111.91,618.58 112.34,616.78 110.93,615.57 112.79,615.42" fill="#111"/>
<polygon points="127.3,628.5 128.01,630.22 129.87,630.37 128.46,631.58 128.89,633.38 127.3,632.42 125.71,633.38 126.14,631.58 124.73,630.37 126.59,630.22" fill="#111"/>
<line x1="54.8" y1="573.5" x2="54.8" y2="648.4" stroke="#000" stroke-width="1.7"/>
<line x1="53.95" y1="647.5" x2="133" y2="647.5" stroke="#000" stroke-width="1.8"/>
<line x1="50" y1="647.5" x2="54.8" y2="647.5" stroke="#000" stroke-width="1.5"/>
<text x="44.8" y="651.6" font-size="11.8" text-anchor="end">0</text>
<line x1="50" y1="622.9" x2="54.8" y2="622.9" stroke="#000" stroke-width="1.5"/>
<text x="44.8" y="627" font-size="11.8" text-anchor="end">10</text>
<line x1="50" y1="598.3" x2="54.8" y2="598.3" stroke="#000" stroke-width="1.5"/>
<text x="44.8" y="602.4" font-size="11.8" text-anchor="end">20</text>
<line x1="50" y1="573.7" x2="54.8" y2="573.7" stroke="#000" stroke-width="1.5"/>
<text x="44.8" y="577.8" font-size="11.8" text-anchor="end">30</text>
<line x1="60.6" y1="647.5" x2="60.6" y2="652.3" stroke="#000" stroke-width="1.6"/>
<line x1="73.7" y1="647.5" x2="73.7" y2="652.3" stroke="#000" stroke-width="1.6"/>
<line x1="86.6" y1="647.5" x2="86.6" y2="652.3" stroke="#000" stroke-width="1.6"/>
<line x1="99.6" y1="647.5" x2="99.6" y2="652.3" stroke="#000" stroke-width="1.6"/>
<line x1="112.7" y1="647.5" x2="112.7" y2="652.3" stroke="#000" stroke-width="1.6"/>
<line x1="126" y1="647.5" x2="126" y2="652.3" stroke="#000" stroke-width="1.6"/>
<text x="60.3" y="666.6" font-size="12" text-anchor="middle" textLength="5.2" lengthAdjust="spacingAndGlyphs">0</text>
<text x="73.1" y="666.6" font-size="12" text-anchor="middle" textLength="5.4" lengthAdjust="spacingAndGlyphs">3</text>
<text x="86.2" y="666.6" font-size="12" text-anchor="middle" textLength="5.5" lengthAdjust="spacingAndGlyphs">6</text>
<text x="95.8" y="666.6" font-size="12" text-anchor="middle" textLength="11" lengthAdjust="spacingAndGlyphs">12</text>
<text x="113.05" y="666.6" font-size="12" text-anchor="middle" textLength="13.2" lengthAdjust="spacingAndGlyphs">25</text>
<text x="126.2" y="666.6" font-size="12" text-anchor="middle" textLength="11.6" lengthAdjust="spacingAndGlyphs">50</text>
<text x="91.1" y="686.4" font-size="13.5" text-anchor="middle" textLength="56" lengthAdjust="spacingAndGlyphs">Amlexanox</text>
<text x="91" y="702.8" font-size="13.5" text-anchor="middle" textLength="105.5" lengthAdjust="spacingAndGlyphs">(mg/kg body weight)</text>
<text x="22.4" y="610.5" font-size="13.5" text-anchor="middle" textLength="69.5" lengthAdjust="spacingAndGlyphs" transform="rotate(-90 22.4 610.5)">IFN-α (pg/ml)</text>
<text x="157.7" y="552.2" font-size="16.5" font-weight="bold" fill="#000">H</text>
<rect x="208.9" y="597" width="9.3" height="50.4" fill="#fff" stroke="#c8000f" stroke-width="1.9"/>
<line x1="213.5" y1="596.5" x2="213.5" y2="592.3" stroke="#c8000f" stroke-width="1.5"/>
<line x1="211.3" y1="592.3" x2="215.7" y2="592.3" stroke="#c8000f" stroke-width="1.5"/>
<polygon points="213.5,581.12 210.85,586.18 216.15,586.18" fill="#c8000f"/>
<polygon points="211,597.32 208.35,602.38 213.65,602.38" fill="#c8000f"/>
<polygon points="216,597.32 213.35,602.38 218.65,602.38" fill="#c8000f"/>
<polygon points="213.5,600.32 210.85,605.38 216.15,605.38" fill="#c8000f"/>
<polygon points="211.5,601.82 208.85,606.88 214.15,606.88" fill="#c8000f"/>
<polygon points="215.5,598.82 212.85,603.88 218.15,603.88" fill="#c8000f"/>
<polygon points="223.6,611.15 228.6,611.15 226.1,615.95" fill="#0533aa"/>
<polygon points="229.1,612.55 234.1,612.55 231.6,617.35" fill="#0533aa"/>
<polygon points="229.1,624.35 234.1,624.35 231.6,629.15" fill="#0533aa"/>
<polygon points="223.6,626.95 228.6,626.95 226.1,631.75" fill="#0533aa"/>
<line x1="228.9" y1="617.1" x2="228.9" y2="625.6" stroke="#0533aa" stroke-width="1.6"/>
<line x1="227" y1="617.1" x2="230.8" y2="617.1" stroke="#0533aa" stroke-width="1.6"/>
<line x1="227" y1="625.6" x2="231" y2="625.6" stroke="#0533aa" stroke-width="1.6"/>
<polygon points="229.3,599.7 230.01,601.42 231.87,601.57 230.46,602.78 230.89,604.58 229.3,603.62 227.71,604.58 228.14,602.78 226.73,601.57 228.59,601.42" fill="#111"/>
<line x1="205.9" y1="573.2" x2="205.9" y2="648.3" stroke="#000" stroke-width="1.7"/>
<line x1="205.05" y1="647.4" x2="237.8" y2="647.4" stroke="#000" stroke-width="1.8"/>
<line x1="201.1" y1="647.4" x2="205.9" y2="647.4" stroke="#000" stroke-width="1.5"/>
<text x="195.6" y="651.5" font-size="11.8" text-anchor="end">0</text>
<line x1="201.1" y1="622.78" x2="205.9" y2="622.78" stroke="#000" stroke-width="1.5"/>
<text x="195.6" y="626.88" font-size="11.8" text-anchor="end">1</text>
<line x1="201.1" y1="598.16" x2="205.9" y2="598.16" stroke="#000" stroke-width="1.5"/>
<text x="195.6" y="602.26" font-size="11.8" text-anchor="end">2</text>
<line x1="201.1" y1="573.54" x2="205.9" y2="573.54" stroke="#000" stroke-width="1.5"/>
<text x="195.6" y="577.64" font-size="11.8" text-anchor="end">3</text>
<line x1="213.6" y1="647.4" x2="213.6" y2="652.2" stroke="#000" stroke-width="1.6"/>
<line x1="228.9" y1="647.4" x2="228.9" y2="652.2" stroke="#000" stroke-width="1.6"/>
<text x="211" y="662.5" font-size="12.5" text-anchor="end" textLength="40" lengthAdjust="spacingAndGlyphs" transform="rotate(-45 211 662.5)">Control</text>
<text x="228.5" y="663.5" font-size="12.5" text-anchor="end" textLength="58" lengthAdjust="spacingAndGlyphs" transform="rotate(-45 228.5 663.5)">Amlexanox</text>
<text x="179.6" y="610.5" font-size="13.5" text-anchor="middle" textLength="69.5" lengthAdjust="spacingAndGlyphs" transform="rotate(-90 179.6 610.5)">IFN-α (pg/ml)</text>
</svg>
</body></html>
